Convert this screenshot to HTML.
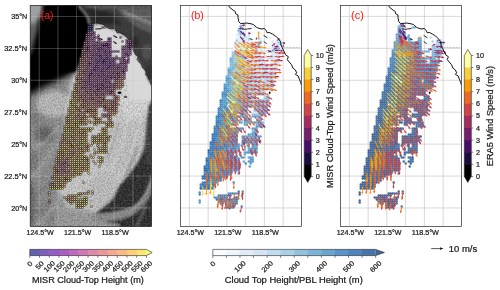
<!DOCTYPE html>
<html><head><meta charset="utf-8"><title>figure</title><style>html,body{margin:0;padding:0;background:#fff;overflow:hidden}svg{display:block;will-change:transform}</style></head><body>
<svg width="500" height="290" viewBox="0 0 500 290">
<defs>
<filter id="b1" x="-20%" y="-20%" width="140%" height="140%"><feGaussianBlur stdDeviation="1"/></filter>
<filter id="b2" x="-30%" y="-30%" width="160%" height="160%"><feGaussianBlur stdDeviation="2"/></filter>
<filter id="b3" x="-40%" y="-40%" width="180%" height="180%"><feGaussianBlur stdDeviation="3.2"/></filter>
<filter id="b5" x="-50%" y="-50%" width="200%" height="200%"><feGaussianBlur stdDeviation="5"/></filter>
<filter id="nz" x="0" y="0" width="100%" height="100%"><feTurbulence type="fractalNoise" baseFrequency="0.6" numOctaves="2" seed="4" result="t"/><feColorMatrix in="t" type="matrix" values="0 0 0 0 0  0 0 0 0 0  0 0 0 0 0  1.6 0 0 0 -0.55"/></filter>
<filter id="nzw" x="0" y="0" width="100%" height="100%"><feTurbulence type="fractalNoise" baseFrequency="0.55" numOctaves="2" seed="11" result="t"/><feColorMatrix in="t" type="matrix" values="0 0 0 0 1  0 0 0 0 1  0 0 0 0 1  0 1.6 0 0 -0.6"/></filter>
<clipPath id="ca"><rect x="30.2" y="5.4" width="121.4" height="221.2"/></clipPath>
<clipPath id="cb"><rect x="180.4" y="5.4" width="121.2" height="221.2"/></clipPath>
<clipPath id="cc"><rect x="340.4" y="5.4" width="121.2" height="221.2"/></clipPath>
</defs>
<rect width="500" height="290" fill="#fff"/>
<g clip-path="url(#ca)">
<rect x="29" y="4" width="124" height="224" fill="#929292"/>
<g filter="url(#b2)">
<path d="M28 92 L62 78 L72 110 L62 150 L54 190 L66 210 L100 212 L100 230 L28 230 Z" fill="#8c8c8c"/>
<ellipse cx="54" cy="104" rx="17" ry="13" fill="#bcbcbc"/>
<ellipse cx="44" cy="134" rx="9" ry="8" fill="#646464"/>
<ellipse cx="36" cy="118" rx="6" ry="7" fill="#7c7c7c"/>
<ellipse cx="34" cy="162" rx="4" ry="13" fill="#787878"/>
<ellipse cx="30" cy="205" rx="5" ry="26" fill="#626262"/>
<ellipse cx="48" cy="212" rx="12" ry="9" fill="#7c7c7c"/><path d="M30 178 C40 170 48 160 54 146" fill="none" stroke="#aaa" stroke-width="3"/><path d="M36 226 C50 214 58 204 62 192" fill="none" stroke="#a8a8a8" stroke-width="3"/>
<path d="M86 26 L104 22 L125 32 L140 55 L153 84 L153 100 L148 120 L146 140 L144 150 L139 161 L129 175 L119.5 186 L115 196 L110 202.5 L101.5 209 L94 214 L70 214 L62 196 L56 188 L62 150 L66 110 L72 75 Z" fill="#cdcdcd"/>
<path d="M118 58 L138 57 L152 86 L149 112 L128 120 L117 100 Z" fill="#dddddd"/>
<path d="M112 125 L146 122 L142 152 L128 170 L112 172 L104 166 Z" fill="#c6c6c6"/>
<path d="M98 172 L118 174 L112 196 L100 207 L76 210 L84 190 Z" fill="#c2c2c2"/>
<path d="M56 205 L96 212 L110 221 L108 230 L54 230 Z" fill="#9c9c9c"/>
</g>
<g filter="url(#b1)">
<path d="M154 98 L150 105 L147.5 120 L145.5 140 L144 150 L139 161 L129 175 L119.5 186 L115 196 L110 202.5 L101.5 209 L96 213.5 L106 222 L120 224 L118 230 L154 230 Z" fill="#2c2c2c"/>
<path d="M154 176 C150 196 140 210 124 216 C114 219.5 104 219 95 218" fill="none" stroke="#7e7e7e" stroke-width="5.5"/>
<path d="M154 172 C149 194 139 208 123 214 C113 217.5 103 217 96 216" fill="none" stroke="#a0a0a0" stroke-width="2"/>
<path d="M92 217 C104 217.5 118 216 132 210.5" fill="none" stroke="#8e8e8e" stroke-width="7"/>
<path d="M146 205 C143 213 140 220 136 228" fill="none" stroke="#5a5a5a" stroke-width="2.5"/>
<path d="M148.5 106 L153 100 L153 168 L145 162 L146.5 130 Z" fill="#3a3a3a"/>
</g>
<g filter="url(#b1)" fill="none">
<path d="M137 146 C134 158 130 168 124 178" stroke="#7a7a7a" stroke-width="1.8" opacity="0.8"/>
<path d="M128 118 C126 136 120 154 110 170" stroke="#dcdcdc" stroke-width="2.2" opacity="0.7"/>
<path d="M140 112 C139 128 136 142 131 154" stroke="#e0e0e0" stroke-width="2" opacity="0.6"/>
<path d="M118 122 C116 138 112 150 106 160" stroke="#9a9a9a" stroke-width="1.5" opacity="0.6"/>
<path d="M30 150 C40 146 50 138 58 126" stroke="#b8b8b8" stroke-width="2" opacity="0.6"/>
<path d="M32 196 C44 190 52 182 56 172" stroke="#6e6e6e" stroke-width="2" opacity="0.6"/>
</g>
<rect x="30" y="5" width="122" height="222" filter="url(#nz)" opacity="0.32"/>
<rect x="30" y="5" width="122" height="222" filter="url(#nzw)" opacity="0.25"/>
<g filter="url(#b3)">
<path d="M40 0 L82 0 L90 22 L86 42 L82 58 L78 70 L60 80 L42 88 L24 98 L24 50 L36 30 Z" fill="#000"/>
</g>
<g filter="url(#b2)">
<path d="M44 2 L78 2 L86 24 L82 44 L78 62 L70 70 L56 76 L40 82 L30 88 L30 62 L38 40 L42 20 Z" fill="#000"/>
</g>
<path d="M50 3 L78.2 3 L78.2 5.4 L80 7.8 L83.2 10.2 L85.2 11.4 L85.6 13.8 L88 15 L88 17.8 L88.8 21.8 L90 24.5 L88 31 L84 42 L79.5 55 L75 72 L60 72 L50 40 Z" fill="#000" filter="url(#b1)"/>
<g filter="url(#b2)">
<ellipse cx="27" cy="26" rx="8" ry="30" fill="#5c5c5c"/>
<ellipse cx="28" cy="6" rx="14" ry="18" fill="#a0a0a0"/>
</g>
<path d="M78.2 5.4 L79.8 7.8 L83.0 10.2 L85.0 11.4 L85.4 13.8 L87.8 15.0 L87.8 17.8 L88.6 21.8 L90.2 23.4 L93.8 23.4 L96.2 23.0 L99.8 23.6 L103.0 24.4 L106.2 27.2 L108.6 28.4 L111.8 29.0 L114.2 28.4 L115.8 30.4 L117.0 32.8 L119.0 32.4 L122.2 34.0 L125.4 36.0 L128.4 39.0 L130.4 41.8 L130.8 45.0 L132.0 47.4 L133.6 51.0 L135.4 54.8 L138.2 56.8 L137.0 59.6 L139.0 62.0 L141.4 64.8 L142.6 68.0 L145.2 70.0 L146.4 72.8 L145.2 74.4 L148.0 76.0 L149.2 79.2 L150.4 82.4 L151.2 84.8 L153.0 84.8 L153.0 3.0 L78.0 3.0 Z" fill="#404040"/>
<g filter="url(#b1)">
<path d="M112 3 L153 3 L153 34 L140 29 L124 17 Z" fill="#626262"/>
<path d="M122 10 L153 22 L153 26 L124 14 Z" fill="#8a8a8a"/>
<ellipse cx="147" cy="52" rx="5" ry="8" fill="#565656"/>
<path d="M82 8 L92 9 L110 12 L122 25 L108 24 L92 23 L88 15 Z" fill="#2c2c2c"/>
<ellipse cx="135" cy="42" rx="4" ry="6" fill="#2e2e2e"/>
<ellipse cx="149" cy="74" rx="3" ry="8" fill="#343434"/>
<path d="M84 3 L153 3 L153 8 L100 9 L86 7.5 Z" fill="#5c5c5c"/>
</g>
<rect x="76" y="5" width="76" height="82" filter="url(#nz)" opacity="0.25" clip-path="none"/>
<path d="M78.6 5.4 L80.5 9 L83.5 11.5 L85.3 14.5 L87.5 17 L88.3 21.5 L89.5 24.5" fill="none" stroke="#b4b4b4" stroke-width="1.5" filter="url(#b1)" opacity="0.9"/>
<path d="M94.5 26.0 L97.0 24.8 L103.0 26.5 L111.0 30.0 L119.0 34.5 L127.0 40.0 L130.0 46.0 L133.0 52.0 L137.0 59.0 L141.0 66.0 L145.0 73.5 L150.0 85.0 L153.0 90.0 L153.0 100.0 L130.0 100.0 L120.0 60.0 L100.0 44.0 L88.0 46.0 L90.0 38.0 L92.5 32.0 Z" fill="#d8d8d8" filter="url(#b1)"/>
<path d="M90.2 23.4 L93.8 23.4 L96.2 23.0 L99.8 23.6 L103.0 24.4 L106.2 27.2 L108.6 28.4 L111.8 29.0 L114.2 28.4 L115.8 30.4 L117.0 32.8 L119.0 32.4 L122.2 34.0 L125.4 36.0 L128.4 39.0 L130.4 41.8 L130.8 45.0 L132.0 47.4 L133.6 51.0 L135.4 54.8 L138.2 56.8 L137.0 59.6 L139.0 62.0 L141.4 64.8 L142.6 68.0 L145.2 70.0 L146.4 72.8 L145.2 74.4 L148.0 76.0 L149.2 79.2 L150.4 82.4 L151.2 84.8" fill="none" stroke="#0a0a0a" stroke-width="0.7" opacity="0.85"/>
<ellipse cx="119.5" cy="92.8" rx="2" ry="1.3" fill="#050505"/><ellipse cx="125.5" cy="97" rx="1.8" ry="0.8" fill="#111"/>
<path d="M95.5 29.0 L101.0 28.7" stroke="#0c0c0c" stroke-width="1.15" stroke-linecap="round"/>
<path d="M99.9 38.7 L102.1 39.6" stroke="#0c0c0c" stroke-width="1.15" stroke-linecap="round"/>
<path d="M113.8 35.7 L116.8 37.5" stroke="#0c0c0c" stroke-width="1.15" stroke-linecap="round"/>
<path d="M113.8 41.7 L116.2 43.5" stroke="#0c0c0c" stroke-width="1.15" stroke-linecap="round"/>
<path d="M39.20 5.4 V226.6" stroke="#c8c8c8" stroke-width="0.55" opacity="0.6"/>
<path d="M57.95 5.4 V226.6" stroke="#c8c8c8" stroke-width="0.55" opacity="0.6"/>
<path d="M76.70 5.4 V226.6" stroke="#c8c8c8" stroke-width="0.55" opacity="0.6"/>
<path d="M95.45 5.4 V226.6" stroke="#c8c8c8" stroke-width="0.55" opacity="0.6"/>
<path d="M114.20 5.4 V226.6" stroke="#c8c8c8" stroke-width="0.55" opacity="0.6"/>
<path d="M132.95 5.4 V226.6" stroke="#c8c8c8" stroke-width="0.55" opacity="0.6"/>
<path d="M30.2 16.40 H151.6" stroke="#c8c8c8" stroke-width="0.55" opacity="0.6"/>
<path d="M30.2 48.33 H151.6" stroke="#c8c8c8" stroke-width="0.55" opacity="0.6"/>
<path d="M30.2 80.26 H151.6" stroke="#c8c8c8" stroke-width="0.55" opacity="0.6"/>
<path d="M30.2 112.19 H151.6" stroke="#c8c8c8" stroke-width="0.55" opacity="0.6"/>
<path d="M30.2 144.12 H151.6" stroke="#c8c8c8" stroke-width="0.55" opacity="0.6"/>
<path d="M30.2 176.05 H151.6" stroke="#c8c8c8" stroke-width="0.55" opacity="0.6"/>
<path d="M30.2 207.98 H151.6" stroke="#c8c8c8" stroke-width="0.55" opacity="0.6"/>
<path d="M90.5 24.5h0M92.5 24.5h0M88.5 26.5h0M90.5 26.5h0M92.5 26.5h0M88.5 28.5h0M90.5 28.5h0M92.5 28.5h0M88.5 30.5h0M90.5 30.5h0M92.5 30.5h0" stroke="#21202c" stroke-width="2.0" stroke-linecap="square" fill="none"/>
<path d="M104.5 54.5h0M108.5 56.5h0M100.5 58.5h0M102.5 58.5h0M100.5 62.5h0M112.5 64.5h0" stroke="#25202e" stroke-width="2.0" stroke-linecap="square" fill="none"/>
<path d="M90.5 38.5h0M94.5 40.5h0M96.5 42.5h0M98.5 42.5h0M94.5 44.5h0M94.5 46.5h0M104.5 48.5h0M94.5 52.5h0M104.5 52.5h0M106.5 52.5h0M130.5 52.5h0M98.5 54.5h0M110.5 54.5h0M110.5 56.5h0M96.5 58.5h0M104.5 58.5h0M96.5 60.5h0M102.5 60.5h0M104.5 60.5h0M108.5 60.5h0M110.5 60.5h0M102.5 62.5h0M104.5 62.5h0M106.5 62.5h0M102.5 64.5h0M108.5 64.5h0M118.5 64.5h0M106.5 66.5h0M112.5 66.5h0M102.5 68.5h0M104.5 68.5h0M110.5 68.5h0M114.5 70.5h0M96.5 72.5h0M100.5 72.5h0M98.5 74.5h0M98.5 76.5h0M108.5 78.5h0M120.5 37.5h0M116.5 51.5h0" stroke="#29202f" stroke-width="2.0" stroke-linecap="square" fill="none"/>
<path d="M86.5 34.5h0M94.5 34.5h0M86.5 38.5h0M90.5 40.5h0M126.5 40.5h0M128.5 40.5h0M94.5 42.5h0M106.5 42.5h0M100.5 44.5h0M102.5 44.5h0M104.5 44.5h0M106.5 44.5h0M108.5 44.5h0M110.5 44.5h0M102.5 46.5h0M104.5 46.5h0M106.5 46.5h0M108.5 46.5h0M96.5 48.5h0M98.5 48.5h0M108.5 48.5h0M126.5 48.5h0M94.5 50.5h0M98.5 50.5h0M100.5 50.5h0M104.5 50.5h0M106.5 50.5h0M128.5 50.5h0M92.5 52.5h0M98.5 52.5h0M102.5 52.5h0M108.5 52.5h0M110.5 52.5h0M122.5 52.5h0M126.5 52.5h0M90.5 54.5h0M100.5 54.5h0M106.5 54.5h0M124.5 54.5h0M126.5 54.5h0M128.5 54.5h0M94.5 56.5h0M98.5 56.5h0M100.5 56.5h0M102.5 56.5h0M106.5 56.5h0M128.5 56.5h0M106.5 58.5h0M108.5 58.5h0M112.5 58.5h0M114.5 58.5h0M116.5 58.5h0M94.5 60.5h0M98.5 60.5h0M100.5 60.5h0M106.5 60.5h0M92.5 62.5h0M96.5 62.5h0M98.5 62.5h0M108.5 62.5h0M110.5 62.5h0M114.5 62.5h0M120.5 62.5h0M96.5 64.5h0M100.5 64.5h0M104.5 64.5h0M106.5 64.5h0M110.5 64.5h0M116.5 64.5h0M120.5 64.5h0M94.5 66.5h0M96.5 66.5h0M102.5 66.5h0M108.5 66.5h0M110.5 66.5h0M124.5 66.5h0M126.5 66.5h0M94.5 68.5h0M100.5 68.5h0M106.5 68.5h0M108.5 68.5h0M90.5 70.5h0M92.5 70.5h0M94.5 70.5h0M96.5 70.5h0M98.5 70.5h0M106.5 70.5h0M120.5 70.5h0M108.5 72.5h0M110.5 72.5h0M94.5 74.5h0M100.5 76.5h0M102.5 76.5h0M106.5 76.5h0M108.5 76.5h0M112.5 76.5h0M96.5 78.5h0M94.5 80.5h0M108.5 80.5h0M102.5 82.5h0M88.5 84.5h0M90.5 84.5h0M92.5 84.5h0M98.5 84.5h0M100.5 84.5h0M102.5 84.5h0M106.5 84.5h0M102.5 86.5h0M104.5 86.5h0M92.5 88.5h0M64.5 166.5h0M102.5 27.5h0M108.5 38.5h0M110.5 38.5h0M108.5 40.5h0M107.5 42.5h0M118.5 51.5h0M112.5 51.5h0" stroke="#2c2030" stroke-width="2.0" stroke-linecap="square" fill="none"/>
<path d="M88.5 32.5h0M92.5 32.5h0M94.5 32.5h0M90.5 34.5h0M92.5 34.5h0M90.5 36.5h0M94.5 36.5h0M88.5 38.5h0M94.5 38.5h0M86.5 40.5h0M90.5 42.5h0M100.5 42.5h0M104.5 42.5h0M110.5 42.5h0M126.5 42.5h0M128.5 42.5h0M130.5 42.5h0M132.5 42.5h0M84.5 44.5h0M92.5 44.5h0M96.5 44.5h0M128.5 44.5h0M130.5 44.5h0M92.5 46.5h0M96.5 46.5h0M100.5 46.5h0M124.5 46.5h0M126.5 46.5h0M128.5 46.5h0M130.5 46.5h0M94.5 48.5h0M100.5 48.5h0M102.5 48.5h0M106.5 48.5h0M122.5 48.5h0M128.5 48.5h0M130.5 48.5h0M92.5 50.5h0M102.5 50.5h0M108.5 50.5h0M110.5 50.5h0M122.5 50.5h0M126.5 50.5h0M130.5 50.5h0M88.5 52.5h0M96.5 52.5h0M100.5 52.5h0M124.5 52.5h0M128.5 52.5h0M96.5 54.5h0M108.5 54.5h0M130.5 54.5h0M96.5 56.5h0M104.5 56.5h0M116.5 56.5h0M122.5 56.5h0M126.5 56.5h0M88.5 58.5h0M94.5 58.5h0M98.5 58.5h0M110.5 58.5h0M118.5 58.5h0M122.5 58.5h0M128.5 58.5h0M92.5 60.5h0M112.5 60.5h0M114.5 60.5h0M120.5 60.5h0M126.5 60.5h0M128.5 60.5h0M112.5 62.5h0M122.5 62.5h0M92.5 64.5h0M94.5 64.5h0M98.5 64.5h0M114.5 64.5h0M122.5 64.5h0M126.5 64.5h0M90.5 66.5h0M98.5 66.5h0M104.5 66.5h0M114.5 66.5h0M118.5 66.5h0M88.5 68.5h0M92.5 68.5h0M96.5 68.5h0M98.5 68.5h0M116.5 68.5h0M118.5 68.5h0M122.5 68.5h0M124.5 68.5h0M100.5 70.5h0M102.5 70.5h0M112.5 70.5h0M126.5 70.5h0M88.5 72.5h0M94.5 72.5h0M98.5 72.5h0M102.5 72.5h0M106.5 72.5h0M96.5 74.5h0M102.5 74.5h0M104.5 74.5h0M110.5 74.5h0M114.5 74.5h0M86.5 76.5h0M92.5 76.5h0M94.5 76.5h0M104.5 76.5h0M110.5 76.5h0M88.5 78.5h0M90.5 78.5h0M100.5 78.5h0M110.5 78.5h0M112.5 78.5h0M124.5 78.5h0M86.5 80.5h0M92.5 80.5h0M96.5 80.5h0M98.5 80.5h0M102.5 80.5h0M104.5 80.5h0M90.5 82.5h0M94.5 82.5h0M100.5 82.5h0M108.5 82.5h0M110.5 82.5h0M86.5 84.5h0M96.5 84.5h0M104.5 84.5h0M110.5 84.5h0M86.5 86.5h0M92.5 86.5h0M94.5 86.5h0M96.5 86.5h0M98.5 86.5h0M88.5 88.5h0M106.5 90.5h0M108.5 90.5h0M102.5 92.5h0M104.5 96.5h0M104.5 114.5h0M62.5 162.5h0M60.5 166.5h0M110.5 40.5h0M100.5 39.5h0M122.5 41.5h0M98.5 35.5h0M98.5 37.5h0M98.5 39.5h0M114.5 51.5h0" stroke="#2e222f" stroke-width="2.0" stroke-linecap="square" fill="none"/>
<path d="M90.5 32.5h0M88.5 34.5h0M88.5 36.5h0M92.5 38.5h0M88.5 40.5h0M92.5 40.5h0M130.5 40.5h0M86.5 42.5h0M88.5 42.5h0M92.5 42.5h0M108.5 42.5h0M88.5 44.5h0M98.5 44.5h0M126.5 44.5h0M132.5 44.5h0M86.5 46.5h0M88.5 46.5h0M90.5 46.5h0M98.5 46.5h0M110.5 46.5h0M122.5 46.5h0M86.5 48.5h0M88.5 48.5h0M92.5 48.5h0M110.5 48.5h0M124.5 48.5h0M86.5 50.5h0M88.5 50.5h0M90.5 50.5h0M96.5 50.5h0M124.5 50.5h0M86.5 52.5h0M90.5 52.5h0M92.5 54.5h0M94.5 54.5h0M102.5 54.5h0M122.5 54.5h0M86.5 56.5h0M88.5 56.5h0M92.5 56.5h0M124.5 56.5h0M84.5 58.5h0M90.5 58.5h0M92.5 58.5h0M120.5 58.5h0M124.5 58.5h0M88.5 60.5h0M122.5 60.5h0M124.5 60.5h0M84.5 62.5h0M88.5 62.5h0M90.5 62.5h0M94.5 62.5h0M124.5 62.5h0M126.5 62.5h0M128.5 62.5h0M88.5 64.5h0M90.5 64.5h0M124.5 64.5h0M84.5 66.5h0M88.5 66.5h0M92.5 66.5h0M100.5 66.5h0M116.5 66.5h0M120.5 66.5h0M86.5 68.5h0M112.5 68.5h0M114.5 68.5h0M120.5 68.5h0M126.5 68.5h0M86.5 70.5h0M104.5 70.5h0M110.5 70.5h0M116.5 70.5h0M118.5 70.5h0M122.5 70.5h0M124.5 70.5h0M86.5 72.5h0M90.5 72.5h0M92.5 72.5h0M104.5 72.5h0M112.5 72.5h0M114.5 72.5h0M122.5 72.5h0M124.5 72.5h0M88.5 74.5h0M90.5 74.5h0M92.5 74.5h0M100.5 74.5h0M106.5 74.5h0M108.5 74.5h0M112.5 74.5h0M120.5 74.5h0M124.5 74.5h0M84.5 76.5h0M88.5 76.5h0M90.5 76.5h0M96.5 76.5h0M114.5 76.5h0M116.5 76.5h0M86.5 78.5h0M92.5 78.5h0M98.5 78.5h0M102.5 78.5h0M104.5 78.5h0M106.5 78.5h0M114.5 78.5h0M84.5 80.5h0M88.5 80.5h0M90.5 80.5h0M100.5 80.5h0M106.5 80.5h0M110.5 80.5h0M84.5 82.5h0M86.5 82.5h0M88.5 82.5h0M92.5 82.5h0M96.5 82.5h0M98.5 82.5h0M104.5 82.5h0M106.5 82.5h0M112.5 84.5h0M82.5 86.5h0M90.5 86.5h0M100.5 86.5h0M106.5 86.5h0M108.5 86.5h0M110.5 86.5h0M80.5 88.5h0M82.5 88.5h0M90.5 88.5h0M96.5 88.5h0M98.5 88.5h0M100.5 88.5h0M102.5 88.5h0M104.5 88.5h0M106.5 88.5h0M110.5 88.5h0M90.5 90.5h0M96.5 90.5h0M98.5 90.5h0M102.5 90.5h0M84.5 92.5h0M90.5 92.5h0M98.5 92.5h0M106.5 92.5h0M86.5 94.5h0M100.5 94.5h0M102.5 94.5h0M104.5 94.5h0M84.5 98.5h0M96.5 98.5h0M98.5 100.5h0M110.5 100.5h0M94.5 102.5h0M98.5 102.5h0M96.5 104.5h0M62.5 142.5h0M78.5 148.5h0M62.5 158.5h0M64.5 160.5h0M62.5 166.5h0M60.5 170.5h0M62.5 172.5h0M105.5 42.5h0M96.5 37.5h0M98.5 41.5h0" stroke="#31242d" stroke-width="2.0" stroke-linecap="square" fill="none"/>
<path d="M86.5 36.5h0M92.5 36.5h0M102.5 42.5h0M86.5 44.5h0M90.5 44.5h0M84.5 48.5h0M82.5 52.5h0M90.5 56.5h0M90.5 60.5h0M86.5 64.5h0M82.5 66.5h0M86.5 66.5h0M122.5 66.5h0M82.5 70.5h0M84.5 70.5h0M88.5 70.5h0M108.5 70.5h0M84.5 72.5h0M116.5 72.5h0M118.5 72.5h0M120.5 72.5h0M78.5 74.5h0M80.5 74.5h0M84.5 74.5h0M86.5 74.5h0M116.5 74.5h0M118.5 74.5h0M118.5 76.5h0M120.5 76.5h0M124.5 76.5h0M84.5 78.5h0M94.5 78.5h0M116.5 78.5h0M118.5 78.5h0M82.5 80.5h0M116.5 80.5h0M82.5 82.5h0M114.5 82.5h0M118.5 82.5h0M84.5 84.5h0M94.5 84.5h0M108.5 84.5h0M114.5 84.5h0M80.5 86.5h0M84.5 86.5h0M88.5 86.5h0M112.5 86.5h0M114.5 86.5h0M84.5 88.5h0M86.5 88.5h0M108.5 88.5h0M114.5 88.5h0M88.5 90.5h0M92.5 90.5h0M94.5 90.5h0M100.5 90.5h0M104.5 90.5h0M110.5 90.5h0M112.5 90.5h0M78.5 92.5h0M80.5 92.5h0M94.5 92.5h0M96.5 92.5h0M100.5 92.5h0M104.5 92.5h0M108.5 92.5h0M110.5 92.5h0M112.5 92.5h0M82.5 94.5h0M90.5 94.5h0M92.5 94.5h0M96.5 94.5h0M98.5 94.5h0M106.5 94.5h0M110.5 94.5h0M114.5 94.5h0M90.5 96.5h0M96.5 96.5h0M100.5 96.5h0M114.5 96.5h0M86.5 98.5h0M100.5 98.5h0M90.5 100.5h0M94.5 100.5h0M88.5 102.5h0M104.5 102.5h0M112.5 102.5h0M114.5 102.5h0M116.5 102.5h0M90.5 104.5h0M106.5 104.5h0M98.5 106.5h0M108.5 106.5h0M104.5 110.5h0M108.5 112.5h0M104.5 116.5h0M106.5 116.5h0M108.5 118.5h0M62.5 150.5h0M58.5 160.5h0M64.5 162.5h0M66.5 162.5h0M60.5 164.5h0M62.5 164.5h0M64.5 164.5h0M62.5 168.5h0M62.5 170.5h0M68.5 170.5h0M68.5 172.5h0M62.5 174.5h0M50.5 184.5h0M104.5 27.5h0M118.5 104.5h0M49.5 200.5h0M49.5 202.5h0" stroke="#33262b" stroke-width="2.0" stroke-linecap="square" fill="none"/>
<path d="M84.5 42.5h0M84.5 46.5h0M90.5 48.5h0M84.5 50.5h0M84.5 52.5h0M82.5 54.5h0M84.5 54.5h0M86.5 54.5h0M88.5 54.5h0M82.5 56.5h0M82.5 58.5h0M84.5 60.5h0M86.5 60.5h0M86.5 62.5h0M80.5 64.5h0M80.5 68.5h0M84.5 68.5h0M90.5 68.5h0M78.5 70.5h0M82.5 72.5h0M82.5 74.5h0M122.5 74.5h0M80.5 78.5h0M82.5 78.5h0M80.5 80.5h0M114.5 80.5h0M120.5 80.5h0M78.5 84.5h0M118.5 86.5h0M94.5 88.5h0M112.5 88.5h0M116.5 88.5h0M80.5 90.5h0M84.5 90.5h0M86.5 90.5h0M82.5 92.5h0M86.5 92.5h0M88.5 92.5h0M92.5 92.5h0M114.5 92.5h0M84.5 94.5h0M88.5 94.5h0M94.5 94.5h0M108.5 94.5h0M112.5 94.5h0M84.5 96.5h0M86.5 96.5h0M92.5 96.5h0M98.5 96.5h0M116.5 96.5h0M82.5 98.5h0M88.5 98.5h0M90.5 98.5h0M92.5 98.5h0M94.5 98.5h0M98.5 98.5h0M102.5 98.5h0M104.5 98.5h0M114.5 98.5h0M116.5 98.5h0M74.5 100.5h0M82.5 100.5h0M84.5 100.5h0M86.5 100.5h0M92.5 100.5h0M96.5 100.5h0M102.5 100.5h0M104.5 100.5h0M86.5 102.5h0M90.5 102.5h0M96.5 102.5h0M106.5 102.5h0M110.5 102.5h0M94.5 104.5h0M98.5 104.5h0M104.5 104.5h0M114.5 104.5h0M116.5 104.5h0M88.5 106.5h0M96.5 106.5h0M102.5 106.5h0M104.5 106.5h0M106.5 106.5h0M80.5 108.5h0M84.5 108.5h0M104.5 108.5h0M106.5 108.5h0M116.5 110.5h0M70.5 112.5h0M82.5 112.5h0M78.5 114.5h0M102.5 114.5h0M106.5 114.5h0M108.5 114.5h0M78.5 116.5h0M76.5 118.5h0M100.5 118.5h0M110.5 120.5h0M86.5 124.5h0M62.5 134.5h0M80.5 138.5h0M102.5 138.5h0M108.5 140.5h0M84.5 146.5h0M74.5 148.5h0M68.5 150.5h0M72.5 150.5h0M60.5 160.5h0M68.5 162.5h0M58.5 164.5h0M70.5 166.5h0M64.5 168.5h0M64.5 170.5h0M60.5 172.5h0M64.5 172.5h0M66.5 172.5h0M76.5 172.5h0M58.5 174.5h0M66.5 176.5h0M60.5 180.5h0M88.5 191.5h0M80.5 193.5h0M78.5 201.5h0" stroke="#352929" stroke-width="2.0" stroke-linecap="square" fill="none"/>
<path d="M82.5 50.5h0M84.5 56.5h0M86.5 58.5h0M80.5 60.5h0M82.5 60.5h0M82.5 62.5h0M82.5 64.5h0M84.5 64.5h0M78.5 68.5h0M80.5 70.5h0M78.5 76.5h0M82.5 76.5h0M122.5 76.5h0M120.5 78.5h0M118.5 80.5h0M78.5 82.5h0M80.5 82.5h0M116.5 82.5h0M122.5 82.5h0M80.5 84.5h0M82.5 84.5h0M116.5 84.5h0M120.5 84.5h0M78.5 86.5h0M116.5 86.5h0M122.5 86.5h0M76.5 90.5h0M78.5 90.5h0M82.5 90.5h0M114.5 90.5h0M76.5 92.5h0M76.5 94.5h0M80.5 94.5h0M80.5 96.5h0M82.5 96.5h0M88.5 96.5h0M94.5 96.5h0M102.5 96.5h0M76.5 98.5h0M80.5 98.5h0M88.5 100.5h0M100.5 100.5h0M106.5 100.5h0M108.5 100.5h0M112.5 100.5h0M114.5 100.5h0M116.5 100.5h0M76.5 102.5h0M100.5 102.5h0M102.5 102.5h0M80.5 104.5h0M82.5 104.5h0M86.5 104.5h0M88.5 104.5h0M100.5 104.5h0M110.5 104.5h0M112.5 104.5h0M80.5 106.5h0M94.5 106.5h0M100.5 106.5h0M112.5 106.5h0M114.5 106.5h0M78.5 108.5h0M86.5 108.5h0M90.5 108.5h0M96.5 108.5h0M108.5 108.5h0M110.5 108.5h0M112.5 108.5h0M78.5 110.5h0M80.5 110.5h0M84.5 110.5h0M90.5 110.5h0M92.5 110.5h0M106.5 110.5h0M108.5 110.5h0M112.5 110.5h0M114.5 110.5h0M80.5 112.5h0M84.5 112.5h0M92.5 112.5h0M110.5 112.5h0M116.5 112.5h0M84.5 114.5h0M94.5 114.5h0M74.5 116.5h0M76.5 116.5h0M84.5 116.5h0M86.5 116.5h0M90.5 116.5h0M102.5 116.5h0M72.5 118.5h0M82.5 120.5h0M84.5 122.5h0M104.5 122.5h0M110.5 122.5h0M112.5 122.5h0M64.5 128.5h0M76.5 128.5h0M72.5 130.5h0M86.5 132.5h0M70.5 134.5h0M74.5 136.5h0M80.5 136.5h0M86.5 136.5h0M92.5 136.5h0M96.5 136.5h0M106.5 136.5h0M106.5 138.5h0M64.5 140.5h0M66.5 140.5h0M76.5 140.5h0M102.5 142.5h0M80.5 144.5h0M86.5 146.5h0M88.5 146.5h0M102.5 146.5h0M86.5 148.5h0M98.5 148.5h0M72.5 152.5h0M74.5 152.5h0M94.5 152.5h0M106.5 152.5h0M72.5 154.5h0M76.5 154.5h0M58.5 156.5h0M72.5 156.5h0M66.5 158.5h0M68.5 158.5h0M86.5 158.5h0M62.5 160.5h0M66.5 160.5h0M72.5 160.5h0M86.5 160.5h0M88.5 160.5h0M56.5 162.5h0M58.5 162.5h0M60.5 162.5h0M80.5 162.5h0M66.5 164.5h0M68.5 164.5h0M86.5 164.5h0M68.5 166.5h0M56.5 168.5h0M60.5 168.5h0M80.5 168.5h0M56.5 170.5h0M58.5 170.5h0M66.5 170.5h0M70.5 170.5h0M56.5 172.5h0M58.5 172.5h0M60.5 174.5h0M66.5 174.5h0M70.5 174.5h0M52.5 176.5h0M56.5 176.5h0M62.5 180.5h0M52.5 182.5h0M64.5 182.5h0M52.5 184.5h0M58.5 184.5h0M102.5 161.5h0M92.5 193.5h0M72.5 195.5h0M72.5 197.5h0M66.5 199.5h0M68.5 199.5h0M70.5 199.5h0M84.5 201.5h0M80.5 205.5h0" stroke="#362b28" stroke-width="2.0" stroke-linecap="square" fill="none"/>
<path d="M80.5 58.5h0M80.5 62.5h0M80.5 66.5h0M82.5 68.5h0M78.5 72.5h0M80.5 72.5h0M80.5 76.5h0M76.5 78.5h0M78.5 78.5h0M122.5 78.5h0M76.5 80.5h0M78.5 80.5h0M122.5 80.5h0M120.5 82.5h0M74.5 84.5h0M76.5 84.5h0M118.5 84.5h0M122.5 84.5h0M76.5 86.5h0M120.5 86.5h0M74.5 88.5h0M76.5 88.5h0M78.5 88.5h0M118.5 88.5h0M78.5 94.5h0M78.5 96.5h0M78.5 98.5h0M118.5 98.5h0M76.5 100.5h0M78.5 100.5h0M80.5 100.5h0M82.5 102.5h0M84.5 102.5h0M92.5 102.5h0M108.5 102.5h0M84.5 104.5h0M92.5 104.5h0M74.5 106.5h0M76.5 106.5h0M82.5 106.5h0M84.5 106.5h0M86.5 106.5h0M90.5 106.5h0M110.5 106.5h0M116.5 106.5h0M72.5 108.5h0M76.5 108.5h0M82.5 108.5h0M88.5 108.5h0M94.5 108.5h0M114.5 108.5h0M116.5 108.5h0M70.5 110.5h0M76.5 110.5h0M86.5 110.5h0M88.5 110.5h0M94.5 110.5h0M96.5 110.5h0M110.5 110.5h0M72.5 112.5h0M74.5 112.5h0M78.5 112.5h0M86.5 112.5h0M88.5 112.5h0M90.5 112.5h0M94.5 112.5h0M114.5 112.5h0M70.5 114.5h0M110.5 114.5h0M82.5 116.5h0M88.5 116.5h0M92.5 116.5h0M94.5 116.5h0M108.5 116.5h0M110.5 116.5h0M74.5 118.5h0M80.5 118.5h0M82.5 118.5h0M84.5 118.5h0M94.5 118.5h0M96.5 118.5h0M66.5 120.5h0M68.5 120.5h0M70.5 120.5h0M80.5 120.5h0M96.5 120.5h0M100.5 120.5h0M108.5 120.5h0M66.5 122.5h0M78.5 122.5h0M80.5 122.5h0M82.5 122.5h0M102.5 122.5h0M66.5 124.5h0M106.5 124.5h0M108.5 124.5h0M64.5 126.5h0M72.5 126.5h0M70.5 128.5h0M72.5 128.5h0M82.5 128.5h0M102.5 128.5h0M104.5 128.5h0M76.5 130.5h0M82.5 130.5h0M88.5 130.5h0M90.5 130.5h0M102.5 130.5h0M106.5 130.5h0M72.5 132.5h0M74.5 132.5h0M78.5 132.5h0M80.5 132.5h0M68.5 134.5h0M66.5 136.5h0M70.5 136.5h0M72.5 136.5h0M76.5 136.5h0M82.5 136.5h0M94.5 136.5h0M100.5 136.5h0M62.5 138.5h0M72.5 138.5h0M94.5 138.5h0M108.5 138.5h0M62.5 140.5h0M68.5 140.5h0M70.5 140.5h0M74.5 142.5h0M86.5 142.5h0M60.5 144.5h0M64.5 144.5h0M76.5 144.5h0M88.5 144.5h0M60.5 146.5h0M68.5 146.5h0M76.5 146.5h0M98.5 146.5h0M62.5 148.5h0M70.5 148.5h0M80.5 148.5h0M82.5 148.5h0M74.5 150.5h0M78.5 150.5h0M82.5 150.5h0M102.5 150.5h0M106.5 150.5h0M66.5 152.5h0M76.5 152.5h0M82.5 152.5h0M96.5 152.5h0M60.5 154.5h0M64.5 154.5h0M66.5 156.5h0M70.5 156.5h0M76.5 156.5h0M78.5 156.5h0M64.5 158.5h0M70.5 158.5h0M80.5 158.5h0M68.5 160.5h0M78.5 162.5h0M86.5 162.5h0M56.5 164.5h0M70.5 164.5h0M82.5 164.5h0M54.5 166.5h0M58.5 166.5h0M66.5 166.5h0M72.5 166.5h0M80.5 166.5h0M86.5 166.5h0M54.5 168.5h0M66.5 168.5h0M74.5 168.5h0M54.5 170.5h0M74.5 170.5h0M82.5 170.5h0M86.5 170.5h0M70.5 172.5h0M74.5 172.5h0M72.5 174.5h0M62.5 176.5h0M74.5 176.5h0M54.5 178.5h0M56.5 180.5h0M54.5 182.5h0M66.5 182.5h0M64.5 186.5h0M89.5 122.5h0M97.5 145.5h0M90.5 155.5h0M98.5 157.5h0M93.5 161.5h0M95.5 163.5h0M81.5 172.5h0M49.5 194.5h0M86.5 193.5h0M64.5 197.5h0M68.5 197.5h0M72.5 199.5h0M68.5 201.5h0M72.5 201.5h0M76.5 203.5h0" stroke="#372e26" stroke-width="2.0" stroke-linecap="square" fill="none"/>
<path d="M76.5 76.5h0M76.5 82.5h0M74.5 86.5h0M120.5 88.5h0M74.5 90.5h0M72.5 92.5h0M74.5 92.5h0M72.5 96.5h0M74.5 96.5h0M76.5 96.5h0M118.5 96.5h0M74.5 98.5h0M72.5 100.5h0M118.5 100.5h0M74.5 102.5h0M78.5 102.5h0M72.5 104.5h0M76.5 104.5h0M102.5 104.5h0M108.5 104.5h0M72.5 106.5h0M92.5 106.5h0M92.5 108.5h0M68.5 110.5h0M74.5 110.5h0M76.5 112.5h0M96.5 112.5h0M112.5 112.5h0M72.5 114.5h0M80.5 114.5h0M90.5 114.5h0M96.5 114.5h0M114.5 114.5h0M66.5 116.5h0M70.5 116.5h0M80.5 116.5h0M66.5 118.5h0M78.5 118.5h0M72.5 120.5h0M84.5 120.5h0M68.5 122.5h0M70.5 122.5h0M86.5 122.5h0M94.5 122.5h0M96.5 122.5h0M98.5 122.5h0M100.5 122.5h0M68.5 124.5h0M84.5 124.5h0M94.5 124.5h0M112.5 124.5h0M110.5 126.5h0M74.5 128.5h0M80.5 128.5h0M84.5 128.5h0M92.5 128.5h0M74.5 130.5h0M84.5 130.5h0M66.5 132.5h0M82.5 132.5h0M84.5 132.5h0M102.5 132.5h0M74.5 134.5h0M76.5 134.5h0M80.5 134.5h0M82.5 134.5h0M104.5 134.5h0M78.5 136.5h0M84.5 136.5h0M108.5 136.5h0M110.5 136.5h0M64.5 138.5h0M66.5 138.5h0M74.5 138.5h0M84.5 138.5h0M92.5 138.5h0M96.5 138.5h0M100.5 138.5h0M72.5 140.5h0M74.5 140.5h0M78.5 140.5h0M98.5 140.5h0M100.5 140.5h0M60.5 142.5h0M66.5 142.5h0M68.5 142.5h0M70.5 142.5h0M84.5 142.5h0M96.5 142.5h0M104.5 142.5h0M106.5 142.5h0M66.5 144.5h0M70.5 144.5h0M72.5 144.5h0M78.5 144.5h0M98.5 144.5h0M104.5 144.5h0M70.5 146.5h0M72.5 146.5h0M74.5 146.5h0M78.5 146.5h0M106.5 146.5h0M60.5 148.5h0M64.5 148.5h0M66.5 148.5h0M72.5 148.5h0M104.5 148.5h0M66.5 150.5h0M76.5 150.5h0M86.5 150.5h0M88.5 150.5h0M104.5 150.5h0M58.5 152.5h0M60.5 152.5h0M62.5 152.5h0M64.5 152.5h0M68.5 152.5h0M84.5 152.5h0M98.5 152.5h0M104.5 152.5h0M58.5 154.5h0M62.5 154.5h0M74.5 154.5h0M78.5 154.5h0M62.5 156.5h0M64.5 156.5h0M68.5 156.5h0M80.5 156.5h0M86.5 156.5h0M56.5 158.5h0M58.5 158.5h0M60.5 158.5h0M76.5 158.5h0M88.5 158.5h0M76.5 160.5h0M72.5 162.5h0M84.5 162.5h0M78.5 164.5h0M80.5 164.5h0M56.5 166.5h0M82.5 166.5h0M88.5 166.5h0M58.5 168.5h0M70.5 168.5h0M72.5 168.5h0M78.5 168.5h0M82.5 168.5h0M84.5 168.5h0M80.5 170.5h0M88.5 170.5h0M54.5 172.5h0M72.5 172.5h0M56.5 174.5h0M68.5 174.5h0M74.5 174.5h0M64.5 176.5h0M70.5 176.5h0M52.5 178.5h0M56.5 178.5h0M58.5 178.5h0M60.5 178.5h0M64.5 178.5h0M66.5 178.5h0M68.5 178.5h0M64.5 180.5h0M66.5 180.5h0M56.5 182.5h0M62.5 182.5h0M60.5 184.5h0M64.5 184.5h0M50.5 186.5h0M58.5 186.5h0M60.5 186.5h0M62.5 186.5h0M92.5 143.5h0M94.5 154.5h0M102.5 159.5h0M100.5 161.5h0M83.5 182.5h0M82.5 193.5h0M84.5 193.5h0M88.5 193.5h0M68.5 195.5h0M74.5 195.5h0M80.5 195.5h0M66.5 197.5h0M70.5 197.5h0M76.5 197.5h0M86.5 197.5h0M80.5 199.5h0M70.5 201.5h0M70.5 203.5h0M78.5 207.5h0" stroke="#383024" stroke-width="2.0" stroke-linecap="square" fill="none"/>
<path d="M72.5 94.5h0M74.5 94.5h0M72.5 98.5h0M80.5 102.5h0M74.5 104.5h0M78.5 106.5h0M70.5 108.5h0M74.5 108.5h0M72.5 110.5h0M68.5 114.5h0M92.5 114.5h0M112.5 114.5h0M68.5 116.5h0M72.5 116.5h0M96.5 116.5h0M68.5 118.5h0M86.5 118.5h0M98.5 118.5h0M74.5 120.5h0M76.5 120.5h0M78.5 120.5h0M94.5 120.5h0M98.5 120.5h0M72.5 122.5h0M108.5 122.5h0M72.5 124.5h0M80.5 124.5h0M82.5 124.5h0M110.5 124.5h0M68.5 126.5h0M70.5 126.5h0M74.5 126.5h0M76.5 126.5h0M78.5 126.5h0M112.5 126.5h0M66.5 128.5h0M68.5 128.5h0M78.5 128.5h0M106.5 128.5h0M86.5 130.5h0M104.5 130.5h0M68.5 132.5h0M76.5 132.5h0M104.5 132.5h0M66.5 134.5h0M72.5 134.5h0M78.5 134.5h0M84.5 134.5h0M86.5 134.5h0M102.5 134.5h0M62.5 136.5h0M64.5 136.5h0M68.5 136.5h0M98.5 136.5h0M102.5 136.5h0M68.5 138.5h0M76.5 138.5h0M104.5 138.5h0M84.5 140.5h0M86.5 140.5h0M64.5 142.5h0M78.5 142.5h0M80.5 142.5h0M82.5 142.5h0M92.5 142.5h0M94.5 142.5h0M98.5 142.5h0M62.5 144.5h0M68.5 144.5h0M82.5 144.5h0M66.5 146.5h0M80.5 146.5h0M104.5 146.5h0M68.5 148.5h0M76.5 148.5h0M102.5 148.5h0M106.5 148.5h0M60.5 150.5h0M70.5 150.5h0M80.5 150.5h0M84.5 150.5h0M100.5 150.5h0M70.5 152.5h0M100.5 152.5h0M66.5 154.5h0M68.5 154.5h0M70.5 154.5h0M82.5 154.5h0M60.5 156.5h0M74.5 156.5h0M72.5 158.5h0M78.5 158.5h0M82.5 158.5h0M56.5 160.5h0M70.5 160.5h0M74.5 160.5h0M82.5 160.5h0M84.5 160.5h0M88.5 162.5h0M72.5 164.5h0M74.5 164.5h0M88.5 164.5h0M68.5 168.5h0M78.5 170.5h0M84.5 170.5h0M80.5 172.5h0M54.5 174.5h0M64.5 174.5h0M76.5 174.5h0M78.5 174.5h0M80.5 174.5h0M60.5 176.5h0M62.5 178.5h0M54.5 184.5h0M52.5 186.5h0M54.5 186.5h0M56.5 186.5h0M62.5 188.5h0M89.5 120.5h0M91.5 122.5h0M91.5 145.5h0M91.5 157.5h0M100.5 157.5h0M102.5 157.5h0M98.5 161.5h0M100.5 163.5h0M49.5 192.5h0M92.5 191.5h0M78.5 193.5h0M78.5 195.5h0M74.5 199.5h0M78.5 199.5h0M82.5 199.5h0M74.5 201.5h0M82.5 201.5h0M72.5 203.5h0M80.5 203.5h0M82.5 203.5h0M84.5 205.5h0M91.5 206.5h0M80.5 207.5h0" stroke="#373323" stroke-width="2.0" stroke-linecap="square" fill="none"/>
<path d="M70.5 100.5h0M70.5 102.5h0M72.5 102.5h0M70.5 104.5h0M70.5 106.5h0M68.5 108.5h0M68.5 112.5h0M74.5 114.5h0M76.5 114.5h0M82.5 114.5h0M70.5 118.5h0M110.5 118.5h0M86.5 120.5h0M74.5 122.5h0M76.5 122.5h0M106.5 122.5h0M70.5 124.5h0M74.5 124.5h0M76.5 124.5h0M78.5 124.5h0M96.5 124.5h0M66.5 126.5h0M106.5 126.5h0M108.5 126.5h0M86.5 128.5h0M88.5 128.5h0M90.5 128.5h0M64.5 130.5h0M66.5 130.5h0M68.5 130.5h0M70.5 130.5h0M78.5 130.5h0M80.5 130.5h0M64.5 132.5h0M70.5 132.5h0M106.5 132.5h0M64.5 134.5h0M98.5 134.5h0M100.5 134.5h0M106.5 134.5h0M104.5 136.5h0M70.5 138.5h0M78.5 138.5h0M82.5 138.5h0M86.5 138.5h0M98.5 138.5h0M80.5 140.5h0M82.5 140.5h0M92.5 140.5h0M94.5 140.5h0M96.5 140.5h0M102.5 140.5h0M104.5 140.5h0M106.5 140.5h0M72.5 142.5h0M76.5 142.5h0M100.5 142.5h0M74.5 144.5h0M84.5 144.5h0M86.5 144.5h0M102.5 144.5h0M106.5 144.5h0M62.5 146.5h0M64.5 146.5h0M82.5 146.5h0M84.5 148.5h0M88.5 148.5h0M100.5 148.5h0M58.5 150.5h0M64.5 150.5h0M98.5 150.5h0M78.5 152.5h0M80.5 152.5h0M102.5 152.5h0M80.5 154.5h0M82.5 156.5h0M84.5 156.5h0M74.5 158.5h0M84.5 158.5h0M78.5 160.5h0M80.5 160.5h0M70.5 162.5h0M74.5 162.5h0M76.5 162.5h0M82.5 162.5h0M76.5 164.5h0M84.5 164.5h0M74.5 166.5h0M76.5 166.5h0M78.5 166.5h0M84.5 166.5h0M76.5 168.5h0M86.5 168.5h0M88.5 168.5h0M72.5 170.5h0M76.5 170.5h0M78.5 172.5h0M54.5 176.5h0M58.5 176.5h0M68.5 176.5h0M72.5 176.5h0M70.5 178.5h0M58.5 180.5h0M68.5 180.5h0M70.5 180.5h0M58.5 182.5h0M60.5 182.5h0M56.5 184.5h0M62.5 184.5h0M50.5 188.5h0M52.5 188.5h0M54.5 188.5h0M56.5 188.5h0M58.5 188.5h0M60.5 188.5h0M94.5 149.5h0M93.5 157.5h0M100.5 159.5h0M99.5 166.5h0M88.5 173.5h0M70.5 195.5h0M76.5 195.5h0M74.5 197.5h0M84.5 197.5h0M76.5 199.5h0M84.5 199.5h0M86.5 199.5h0M76.5 201.5h0M80.5 201.5h0M86.5 201.5h0M78.5 203.5h0M84.5 203.5h0M86.5 203.5h0M76.5 205.5h0M78.5 205.5h0M82.5 205.5h0M76.5 207.5h0M82.5 207.5h0" stroke="#363723" stroke-width="2.0" stroke-linecap="square" fill="none"/>
<path d="M90.5 24.5h0M92.5 24.5h0M88.5 26.5h0M90.5 26.5h0M92.5 26.5h0M88.5 28.5h0M90.5 28.5h0M92.5 28.5h0M88.5 30.5h0M90.5 30.5h0M92.5 30.5h0" stroke="#6661b1" stroke-width="1.12" stroke-linecap="round" fill="none"/>
<path d="M104.5 54.5h0M108.5 56.5h0M100.5 58.5h0M102.5 58.5h0M100.5 62.5h0M112.5 64.5h0" stroke="#825fbe" stroke-width="1.12" stroke-linecap="round" fill="none"/>
<path d="M90.5 38.5h0M94.5 40.5h0M96.5 42.5h0M98.5 42.5h0M94.5 44.5h0M94.5 46.5h0M104.5 48.5h0M94.5 52.5h0M104.5 52.5h0M106.5 52.5h0M130.5 52.5h0M98.5 54.5h0M110.5 54.5h0M110.5 56.5h0M96.5 58.5h0M104.5 58.5h0M96.5 60.5h0M102.5 60.5h0M104.5 60.5h0M108.5 60.5h0M110.5 60.5h0M102.5 62.5h0M104.5 62.5h0M106.5 62.5h0M102.5 64.5h0M108.5 64.5h0M118.5 64.5h0M106.5 66.5h0M112.5 66.5h0M102.5 68.5h0M104.5 68.5h0M110.5 68.5h0M114.5 70.5h0M96.5 72.5h0M100.5 72.5h0M98.5 74.5h0M98.5 76.5h0M108.5 78.5h0M120.5 37.5h0M116.5 51.5h0" stroke="#975dc5" stroke-width="1.12" stroke-linecap="round" fill="none"/>
<path d="M86.5 34.5h0M94.5 34.5h0M86.5 38.5h0M90.5 40.5h0M126.5 40.5h0M128.5 40.5h0M94.5 42.5h0M106.5 42.5h0M100.5 44.5h0M102.5 44.5h0M104.5 44.5h0M106.5 44.5h0M108.5 44.5h0M110.5 44.5h0M102.5 46.5h0M104.5 46.5h0M106.5 46.5h0M108.5 46.5h0M96.5 48.5h0M98.5 48.5h0M108.5 48.5h0M126.5 48.5h0M94.5 50.5h0M98.5 50.5h0M100.5 50.5h0M104.5 50.5h0M106.5 50.5h0M128.5 50.5h0M92.5 52.5h0M98.5 52.5h0M102.5 52.5h0M108.5 52.5h0M110.5 52.5h0M122.5 52.5h0M126.5 52.5h0M90.5 54.5h0M100.5 54.5h0M106.5 54.5h0M124.5 54.5h0M126.5 54.5h0M128.5 54.5h0M94.5 56.5h0M98.5 56.5h0M100.5 56.5h0M102.5 56.5h0M106.5 56.5h0M128.5 56.5h0M106.5 58.5h0M108.5 58.5h0M112.5 58.5h0M114.5 58.5h0M116.5 58.5h0M94.5 60.5h0M98.5 60.5h0M100.5 60.5h0M106.5 60.5h0M92.5 62.5h0M96.5 62.5h0M98.5 62.5h0M108.5 62.5h0M110.5 62.5h0M114.5 62.5h0M120.5 62.5h0M96.5 64.5h0M100.5 64.5h0M104.5 64.5h0M106.5 64.5h0M110.5 64.5h0M116.5 64.5h0M120.5 64.5h0M94.5 66.5h0M96.5 66.5h0M102.5 66.5h0M108.5 66.5h0M110.5 66.5h0M124.5 66.5h0M126.5 66.5h0M94.5 68.5h0M100.5 68.5h0M106.5 68.5h0M108.5 68.5h0M90.5 70.5h0M92.5 70.5h0M94.5 70.5h0M96.5 70.5h0M98.5 70.5h0M106.5 70.5h0M120.5 70.5h0M108.5 72.5h0M110.5 72.5h0M94.5 74.5h0M100.5 76.5h0M102.5 76.5h0M106.5 76.5h0M108.5 76.5h0M112.5 76.5h0M96.5 78.5h0M94.5 80.5h0M108.5 80.5h0M102.5 82.5h0M88.5 84.5h0M90.5 84.5h0M92.5 84.5h0M98.5 84.5h0M100.5 84.5h0M102.5 84.5h0M106.5 84.5h0M102.5 86.5h0M104.5 86.5h0M92.5 88.5h0M64.5 166.5h0M102.5 27.5h0M108.5 38.5h0M110.5 38.5h0M108.5 40.5h0M107.5 42.5h0M118.5 51.5h0M112.5 51.5h0" stroke="#ac5ec6" stroke-width="1.12" stroke-linecap="round" fill="none"/>
<path d="M88.5 32.5h0M92.5 32.5h0M94.5 32.5h0M90.5 34.5h0M92.5 34.5h0M90.5 36.5h0M94.5 36.5h0M88.5 38.5h0M94.5 38.5h0M86.5 40.5h0M90.5 42.5h0M100.5 42.5h0M104.5 42.5h0M110.5 42.5h0M126.5 42.5h0M128.5 42.5h0M130.5 42.5h0M132.5 42.5h0M84.5 44.5h0M92.5 44.5h0M96.5 44.5h0M128.5 44.5h0M130.5 44.5h0M92.5 46.5h0M96.5 46.5h0M100.5 46.5h0M124.5 46.5h0M126.5 46.5h0M128.5 46.5h0M130.5 46.5h0M94.5 48.5h0M100.5 48.5h0M102.5 48.5h0M106.5 48.5h0M122.5 48.5h0M128.5 48.5h0M130.5 48.5h0M92.5 50.5h0M102.5 50.5h0M108.5 50.5h0M110.5 50.5h0M122.5 50.5h0M126.5 50.5h0M130.5 50.5h0M88.5 52.5h0M96.5 52.5h0M100.5 52.5h0M124.5 52.5h0M128.5 52.5h0M96.5 54.5h0M108.5 54.5h0M130.5 54.5h0M96.5 56.5h0M104.5 56.5h0M116.5 56.5h0M122.5 56.5h0M126.5 56.5h0M88.5 58.5h0M94.5 58.5h0M98.5 58.5h0M110.5 58.5h0M118.5 58.5h0M122.5 58.5h0M128.5 58.5h0M92.5 60.5h0M112.5 60.5h0M114.5 60.5h0M120.5 60.5h0M126.5 60.5h0M128.5 60.5h0M112.5 62.5h0M122.5 62.5h0M92.5 64.5h0M94.5 64.5h0M98.5 64.5h0M114.5 64.5h0M122.5 64.5h0M126.5 64.5h0M90.5 66.5h0M98.5 66.5h0M104.5 66.5h0M114.5 66.5h0M118.5 66.5h0M88.5 68.5h0M92.5 68.5h0M96.5 68.5h0M98.5 68.5h0M116.5 68.5h0M118.5 68.5h0M122.5 68.5h0M124.5 68.5h0M100.5 70.5h0M102.5 70.5h0M112.5 70.5h0M126.5 70.5h0M88.5 72.5h0M94.5 72.5h0M98.5 72.5h0M102.5 72.5h0M106.5 72.5h0M96.5 74.5h0M102.5 74.5h0M104.5 74.5h0M110.5 74.5h0M114.5 74.5h0M86.5 76.5h0M92.5 76.5h0M94.5 76.5h0M104.5 76.5h0M110.5 76.5h0M88.5 78.5h0M90.5 78.5h0M100.5 78.5h0M110.5 78.5h0M112.5 78.5h0M124.5 78.5h0M86.5 80.5h0M92.5 80.5h0M96.5 80.5h0M98.5 80.5h0M102.5 80.5h0M104.5 80.5h0M90.5 82.5h0M94.5 82.5h0M100.5 82.5h0M108.5 82.5h0M110.5 82.5h0M86.5 84.5h0M96.5 84.5h0M104.5 84.5h0M110.5 84.5h0M86.5 86.5h0M92.5 86.5h0M94.5 86.5h0M96.5 86.5h0M98.5 86.5h0M88.5 88.5h0M106.5 90.5h0M108.5 90.5h0M102.5 92.5h0M104.5 96.5h0M104.5 114.5h0M62.5 162.5h0M60.5 166.5h0M110.5 40.5h0M100.5 39.5h0M122.5 41.5h0M98.5 35.5h0M98.5 37.5h0M98.5 39.5h0M114.5 51.5h0" stroke="#bf6ac0" stroke-width="1.12" stroke-linecap="round" fill="none"/>
<path d="M90.5 32.5h0M88.5 34.5h0M88.5 36.5h0M92.5 38.5h0M88.5 40.5h0M92.5 40.5h0M130.5 40.5h0M86.5 42.5h0M88.5 42.5h0M92.5 42.5h0M108.5 42.5h0M88.5 44.5h0M98.5 44.5h0M126.5 44.5h0M132.5 44.5h0M86.5 46.5h0M88.5 46.5h0M90.5 46.5h0M98.5 46.5h0M110.5 46.5h0M122.5 46.5h0M86.5 48.5h0M88.5 48.5h0M92.5 48.5h0M110.5 48.5h0M124.5 48.5h0M86.5 50.5h0M88.5 50.5h0M90.5 50.5h0M96.5 50.5h0M124.5 50.5h0M86.5 52.5h0M90.5 52.5h0M92.5 54.5h0M94.5 54.5h0M102.5 54.5h0M122.5 54.5h0M86.5 56.5h0M88.5 56.5h0M92.5 56.5h0M124.5 56.5h0M84.5 58.5h0M90.5 58.5h0M92.5 58.5h0M120.5 58.5h0M124.5 58.5h0M88.5 60.5h0M122.5 60.5h0M124.5 60.5h0M84.5 62.5h0M88.5 62.5h0M90.5 62.5h0M94.5 62.5h0M124.5 62.5h0M126.5 62.5h0M128.5 62.5h0M88.5 64.5h0M90.5 64.5h0M124.5 64.5h0M84.5 66.5h0M88.5 66.5h0M92.5 66.5h0M100.5 66.5h0M116.5 66.5h0M120.5 66.5h0M86.5 68.5h0M112.5 68.5h0M114.5 68.5h0M120.5 68.5h0M126.5 68.5h0M86.5 70.5h0M104.5 70.5h0M110.5 70.5h0M116.5 70.5h0M118.5 70.5h0M122.5 70.5h0M124.5 70.5h0M86.5 72.5h0M90.5 72.5h0M92.5 72.5h0M104.5 72.5h0M112.5 72.5h0M114.5 72.5h0M122.5 72.5h0M124.5 72.5h0M88.5 74.5h0M90.5 74.5h0M92.5 74.5h0M100.5 74.5h0M106.5 74.5h0M108.5 74.5h0M112.5 74.5h0M120.5 74.5h0M124.5 74.5h0M84.5 76.5h0M88.5 76.5h0M90.5 76.5h0M96.5 76.5h0M114.5 76.5h0M116.5 76.5h0M86.5 78.5h0M92.5 78.5h0M98.5 78.5h0M102.5 78.5h0M104.5 78.5h0M106.5 78.5h0M114.5 78.5h0M84.5 80.5h0M88.5 80.5h0M90.5 80.5h0M100.5 80.5h0M106.5 80.5h0M110.5 80.5h0M84.5 82.5h0M86.5 82.5h0M88.5 82.5h0M92.5 82.5h0M96.5 82.5h0M98.5 82.5h0M104.5 82.5h0M106.5 82.5h0M112.5 84.5h0M82.5 86.5h0M90.5 86.5h0M100.5 86.5h0M106.5 86.5h0M108.5 86.5h0M110.5 86.5h0M80.5 88.5h0M82.5 88.5h0M90.5 88.5h0M96.5 88.5h0M98.5 88.5h0M100.5 88.5h0M102.5 88.5h0M104.5 88.5h0M106.5 88.5h0M110.5 88.5h0M90.5 90.5h0M96.5 90.5h0M98.5 90.5h0M102.5 90.5h0M84.5 92.5h0M90.5 92.5h0M98.5 92.5h0M106.5 92.5h0M86.5 94.5h0M100.5 94.5h0M102.5 94.5h0M104.5 94.5h0M84.5 98.5h0M96.5 98.5h0M98.5 100.5h0M110.5 100.5h0M94.5 102.5h0M98.5 102.5h0M96.5 104.5h0M62.5 142.5h0M78.5 148.5h0M62.5 158.5h0M64.5 160.5h0M62.5 166.5h0M60.5 170.5h0M62.5 172.5h0M105.5 42.5h0M96.5 37.5h0M98.5 41.5h0" stroke="#ce79b5" stroke-width="1.12" stroke-linecap="round" fill="none"/>
<path d="M86.5 36.5h0M92.5 36.5h0M102.5 42.5h0M86.5 44.5h0M90.5 44.5h0M84.5 48.5h0M82.5 52.5h0M90.5 56.5h0M90.5 60.5h0M86.5 64.5h0M82.5 66.5h0M86.5 66.5h0M122.5 66.5h0M82.5 70.5h0M84.5 70.5h0M88.5 70.5h0M108.5 70.5h0M84.5 72.5h0M116.5 72.5h0M118.5 72.5h0M120.5 72.5h0M78.5 74.5h0M80.5 74.5h0M84.5 74.5h0M86.5 74.5h0M116.5 74.5h0M118.5 74.5h0M118.5 76.5h0M120.5 76.5h0M124.5 76.5h0M84.5 78.5h0M94.5 78.5h0M116.5 78.5h0M118.5 78.5h0M82.5 80.5h0M116.5 80.5h0M82.5 82.5h0M114.5 82.5h0M118.5 82.5h0M84.5 84.5h0M94.5 84.5h0M108.5 84.5h0M114.5 84.5h0M80.5 86.5h0M84.5 86.5h0M88.5 86.5h0M112.5 86.5h0M114.5 86.5h0M84.5 88.5h0M86.5 88.5h0M108.5 88.5h0M114.5 88.5h0M88.5 90.5h0M92.5 90.5h0M94.5 90.5h0M100.5 90.5h0M104.5 90.5h0M110.5 90.5h0M112.5 90.5h0M78.5 92.5h0M80.5 92.5h0M94.5 92.5h0M96.5 92.5h0M100.5 92.5h0M104.5 92.5h0M108.5 92.5h0M110.5 92.5h0M112.5 92.5h0M82.5 94.5h0M90.5 94.5h0M92.5 94.5h0M96.5 94.5h0M98.5 94.5h0M106.5 94.5h0M110.5 94.5h0M114.5 94.5h0M90.5 96.5h0M96.5 96.5h0M100.5 96.5h0M114.5 96.5h0M86.5 98.5h0M100.5 98.5h0M90.5 100.5h0M94.5 100.5h0M88.5 102.5h0M104.5 102.5h0M112.5 102.5h0M114.5 102.5h0M116.5 102.5h0M90.5 104.5h0M106.5 104.5h0M98.5 106.5h0M108.5 106.5h0M104.5 110.5h0M108.5 112.5h0M104.5 116.5h0M106.5 116.5h0M108.5 118.5h0M62.5 150.5h0M58.5 160.5h0M64.5 162.5h0M66.5 162.5h0M60.5 164.5h0M62.5 164.5h0M64.5 164.5h0M62.5 168.5h0M62.5 170.5h0M68.5 170.5h0M68.5 172.5h0M62.5 174.5h0M50.5 184.5h0M104.5 27.5h0M118.5 104.5h0M49.5 200.5h0M49.5 202.5h0" stroke="#dc88a8" stroke-width="1.12" stroke-linecap="round" fill="none"/>
<path d="M84.5 42.5h0M84.5 46.5h0M90.5 48.5h0M84.5 50.5h0M84.5 52.5h0M82.5 54.5h0M84.5 54.5h0M86.5 54.5h0M88.5 54.5h0M82.5 56.5h0M82.5 58.5h0M84.5 60.5h0M86.5 60.5h0M86.5 62.5h0M80.5 64.5h0M80.5 68.5h0M84.5 68.5h0M90.5 68.5h0M78.5 70.5h0M82.5 72.5h0M82.5 74.5h0M122.5 74.5h0M80.5 78.5h0M82.5 78.5h0M80.5 80.5h0M114.5 80.5h0M120.5 80.5h0M78.5 84.5h0M118.5 86.5h0M94.5 88.5h0M112.5 88.5h0M116.5 88.5h0M80.5 90.5h0M84.5 90.5h0M86.5 90.5h0M82.5 92.5h0M86.5 92.5h0M88.5 92.5h0M92.5 92.5h0M114.5 92.5h0M84.5 94.5h0M88.5 94.5h0M94.5 94.5h0M108.5 94.5h0M112.5 94.5h0M84.5 96.5h0M86.5 96.5h0M92.5 96.5h0M98.5 96.5h0M116.5 96.5h0M82.5 98.5h0M88.5 98.5h0M90.5 98.5h0M92.5 98.5h0M94.5 98.5h0M98.5 98.5h0M102.5 98.5h0M104.5 98.5h0M114.5 98.5h0M116.5 98.5h0M74.5 100.5h0M82.5 100.5h0M84.5 100.5h0M86.5 100.5h0M92.5 100.5h0M96.5 100.5h0M102.5 100.5h0M104.5 100.5h0M86.5 102.5h0M90.5 102.5h0M96.5 102.5h0M106.5 102.5h0M110.5 102.5h0M94.5 104.5h0M98.5 104.5h0M104.5 104.5h0M114.5 104.5h0M116.5 104.5h0M88.5 106.5h0M96.5 106.5h0M102.5 106.5h0M104.5 106.5h0M106.5 106.5h0M80.5 108.5h0M84.5 108.5h0M104.5 108.5h0M106.5 108.5h0M116.5 110.5h0M70.5 112.5h0M82.5 112.5h0M78.5 114.5h0M102.5 114.5h0M106.5 114.5h0M108.5 114.5h0M78.5 116.5h0M76.5 118.5h0M100.5 118.5h0M110.5 120.5h0M86.5 124.5h0M62.5 134.5h0M80.5 138.5h0M102.5 138.5h0M108.5 140.5h0M84.5 146.5h0M74.5 148.5h0M68.5 150.5h0M72.5 150.5h0M60.5 160.5h0M68.5 162.5h0M58.5 164.5h0M70.5 166.5h0M64.5 168.5h0M64.5 170.5h0M60.5 172.5h0M64.5 172.5h0M66.5 172.5h0M76.5 172.5h0M58.5 174.5h0M66.5 176.5h0M60.5 180.5h0M88.5 191.5h0M80.5 193.5h0M78.5 201.5h0" stroke="#e7979d" stroke-width="1.12" stroke-linecap="round" fill="none"/>
<path d="M82.5 50.5h0M84.5 56.5h0M86.5 58.5h0M80.5 60.5h0M82.5 60.5h0M82.5 62.5h0M82.5 64.5h0M84.5 64.5h0M78.5 68.5h0M80.5 70.5h0M78.5 76.5h0M82.5 76.5h0M122.5 76.5h0M120.5 78.5h0M118.5 80.5h0M78.5 82.5h0M80.5 82.5h0M116.5 82.5h0M122.5 82.5h0M80.5 84.5h0M82.5 84.5h0M116.5 84.5h0M120.5 84.5h0M78.5 86.5h0M116.5 86.5h0M122.5 86.5h0M76.5 90.5h0M78.5 90.5h0M82.5 90.5h0M114.5 90.5h0M76.5 92.5h0M76.5 94.5h0M80.5 94.5h0M80.5 96.5h0M82.5 96.5h0M88.5 96.5h0M94.5 96.5h0M102.5 96.5h0M76.5 98.5h0M80.5 98.5h0M88.5 100.5h0M100.5 100.5h0M106.5 100.5h0M108.5 100.5h0M112.5 100.5h0M114.5 100.5h0M116.5 100.5h0M76.5 102.5h0M100.5 102.5h0M102.5 102.5h0M80.5 104.5h0M82.5 104.5h0M86.5 104.5h0M88.5 104.5h0M100.5 104.5h0M110.5 104.5h0M112.5 104.5h0M80.5 106.5h0M94.5 106.5h0M100.5 106.5h0M112.5 106.5h0M114.5 106.5h0M78.5 108.5h0M86.5 108.5h0M90.5 108.5h0M96.5 108.5h0M108.5 108.5h0M110.5 108.5h0M112.5 108.5h0M78.5 110.5h0M80.5 110.5h0M84.5 110.5h0M90.5 110.5h0M92.5 110.5h0M106.5 110.5h0M108.5 110.5h0M112.5 110.5h0M114.5 110.5h0M80.5 112.5h0M84.5 112.5h0M92.5 112.5h0M110.5 112.5h0M116.5 112.5h0M84.5 114.5h0M94.5 114.5h0M74.5 116.5h0M76.5 116.5h0M84.5 116.5h0M86.5 116.5h0M90.5 116.5h0M102.5 116.5h0M72.5 118.5h0M82.5 120.5h0M84.5 122.5h0M104.5 122.5h0M110.5 122.5h0M112.5 122.5h0M64.5 128.5h0M76.5 128.5h0M72.5 130.5h0M86.5 132.5h0M70.5 134.5h0M74.5 136.5h0M80.5 136.5h0M86.5 136.5h0M92.5 136.5h0M96.5 136.5h0M106.5 136.5h0M106.5 138.5h0M64.5 140.5h0M66.5 140.5h0M76.5 140.5h0M102.5 142.5h0M80.5 144.5h0M86.5 146.5h0M88.5 146.5h0M102.5 146.5h0M86.5 148.5h0M98.5 148.5h0M72.5 152.5h0M74.5 152.5h0M94.5 152.5h0M106.5 152.5h0M72.5 154.5h0M76.5 154.5h0M58.5 156.5h0M72.5 156.5h0M66.5 158.5h0M68.5 158.5h0M86.5 158.5h0M62.5 160.5h0M66.5 160.5h0M72.5 160.5h0M86.5 160.5h0M88.5 160.5h0M56.5 162.5h0M58.5 162.5h0M60.5 162.5h0M80.5 162.5h0M66.5 164.5h0M68.5 164.5h0M86.5 164.5h0M68.5 166.5h0M56.5 168.5h0M60.5 168.5h0M80.5 168.5h0M56.5 170.5h0M58.5 170.5h0M66.5 170.5h0M70.5 170.5h0M56.5 172.5h0M58.5 172.5h0M60.5 174.5h0M66.5 174.5h0M70.5 174.5h0M52.5 176.5h0M56.5 176.5h0M62.5 180.5h0M52.5 182.5h0M64.5 182.5h0M52.5 184.5h0M58.5 184.5h0M102.5 161.5h0M92.5 193.5h0M72.5 195.5h0M72.5 197.5h0M66.5 199.5h0M68.5 199.5h0M70.5 199.5h0M84.5 201.5h0M80.5 205.5h0" stroke="#f1a792" stroke-width="1.12" stroke-linecap="round" fill="none"/>
<path d="M80.5 58.5h0M80.5 62.5h0M80.5 66.5h0M82.5 68.5h0M78.5 72.5h0M80.5 72.5h0M80.5 76.5h0M76.5 78.5h0M78.5 78.5h0M122.5 78.5h0M76.5 80.5h0M78.5 80.5h0M122.5 80.5h0M120.5 82.5h0M74.5 84.5h0M76.5 84.5h0M118.5 84.5h0M122.5 84.5h0M76.5 86.5h0M120.5 86.5h0M74.5 88.5h0M76.5 88.5h0M78.5 88.5h0M118.5 88.5h0M78.5 94.5h0M78.5 96.5h0M78.5 98.5h0M118.5 98.5h0M76.5 100.5h0M78.5 100.5h0M80.5 100.5h0M82.5 102.5h0M84.5 102.5h0M92.5 102.5h0M108.5 102.5h0M84.5 104.5h0M92.5 104.5h0M74.5 106.5h0M76.5 106.5h0M82.5 106.5h0M84.5 106.5h0M86.5 106.5h0M90.5 106.5h0M110.5 106.5h0M116.5 106.5h0M72.5 108.5h0M76.5 108.5h0M82.5 108.5h0M88.5 108.5h0M94.5 108.5h0M114.5 108.5h0M116.5 108.5h0M70.5 110.5h0M76.5 110.5h0M86.5 110.5h0M88.5 110.5h0M94.5 110.5h0M96.5 110.5h0M110.5 110.5h0M72.5 112.5h0M74.5 112.5h0M78.5 112.5h0M86.5 112.5h0M88.5 112.5h0M90.5 112.5h0M94.5 112.5h0M114.5 112.5h0M70.5 114.5h0M110.5 114.5h0M82.5 116.5h0M88.5 116.5h0M92.5 116.5h0M94.5 116.5h0M108.5 116.5h0M110.5 116.5h0M74.5 118.5h0M80.5 118.5h0M82.5 118.5h0M84.5 118.5h0M94.5 118.5h0M96.5 118.5h0M66.5 120.5h0M68.5 120.5h0M70.5 120.5h0M80.5 120.5h0M96.5 120.5h0M100.5 120.5h0M108.5 120.5h0M66.5 122.5h0M78.5 122.5h0M80.5 122.5h0M82.5 122.5h0M102.5 122.5h0M66.5 124.5h0M106.5 124.5h0M108.5 124.5h0M64.5 126.5h0M72.5 126.5h0M70.5 128.5h0M72.5 128.5h0M82.5 128.5h0M102.5 128.5h0M104.5 128.5h0M76.5 130.5h0M82.5 130.5h0M88.5 130.5h0M90.5 130.5h0M102.5 130.5h0M106.5 130.5h0M72.5 132.5h0M74.5 132.5h0M78.5 132.5h0M80.5 132.5h0M68.5 134.5h0M66.5 136.5h0M70.5 136.5h0M72.5 136.5h0M76.5 136.5h0M82.5 136.5h0M94.5 136.5h0M100.5 136.5h0M62.5 138.5h0M72.5 138.5h0M94.5 138.5h0M108.5 138.5h0M62.5 140.5h0M68.5 140.5h0M70.5 140.5h0M74.5 142.5h0M86.5 142.5h0M60.5 144.5h0M64.5 144.5h0M76.5 144.5h0M88.5 144.5h0M60.5 146.5h0M68.5 146.5h0M76.5 146.5h0M98.5 146.5h0M62.5 148.5h0M70.5 148.5h0M80.5 148.5h0M82.5 148.5h0M74.5 150.5h0M78.5 150.5h0M82.5 150.5h0M102.5 150.5h0M106.5 150.5h0M66.5 152.5h0M76.5 152.5h0M82.5 152.5h0M96.5 152.5h0M60.5 154.5h0M64.5 154.5h0M66.5 156.5h0M70.5 156.5h0M76.5 156.5h0M78.5 156.5h0M64.5 158.5h0M70.5 158.5h0M80.5 158.5h0M68.5 160.5h0M78.5 162.5h0M86.5 162.5h0M56.5 164.5h0M70.5 164.5h0M82.5 164.5h0M54.5 166.5h0M58.5 166.5h0M66.5 166.5h0M72.5 166.5h0M80.5 166.5h0M86.5 166.5h0M54.5 168.5h0M66.5 168.5h0M74.5 168.5h0M54.5 170.5h0M74.5 170.5h0M82.5 170.5h0M86.5 170.5h0M70.5 172.5h0M74.5 172.5h0M72.5 174.5h0M62.5 176.5h0M74.5 176.5h0M54.5 178.5h0M56.5 180.5h0M54.5 182.5h0M66.5 182.5h0M64.5 186.5h0M89.5 122.5h0M97.5 145.5h0M90.5 155.5h0M98.5 157.5h0M93.5 161.5h0M95.5 163.5h0M81.5 172.5h0M49.5 194.5h0M86.5 193.5h0M64.5 197.5h0M68.5 197.5h0M72.5 199.5h0M68.5 201.5h0M72.5 201.5h0M76.5 203.5h0" stroke="#f8b986" stroke-width="1.12" stroke-linecap="round" fill="none"/>
<path d="M76.5 76.5h0M76.5 82.5h0M74.5 86.5h0M120.5 88.5h0M74.5 90.5h0M72.5 92.5h0M74.5 92.5h0M72.5 96.5h0M74.5 96.5h0M76.5 96.5h0M118.5 96.5h0M74.5 98.5h0M72.5 100.5h0M118.5 100.5h0M74.5 102.5h0M78.5 102.5h0M72.5 104.5h0M76.5 104.5h0M102.5 104.5h0M108.5 104.5h0M72.5 106.5h0M92.5 106.5h0M92.5 108.5h0M68.5 110.5h0M74.5 110.5h0M76.5 112.5h0M96.5 112.5h0M112.5 112.5h0M72.5 114.5h0M80.5 114.5h0M90.5 114.5h0M96.5 114.5h0M114.5 114.5h0M66.5 116.5h0M70.5 116.5h0M80.5 116.5h0M66.5 118.5h0M78.5 118.5h0M72.5 120.5h0M84.5 120.5h0M68.5 122.5h0M70.5 122.5h0M86.5 122.5h0M94.5 122.5h0M96.5 122.5h0M98.5 122.5h0M100.5 122.5h0M68.5 124.5h0M84.5 124.5h0M94.5 124.5h0M112.5 124.5h0M110.5 126.5h0M74.5 128.5h0M80.5 128.5h0M84.5 128.5h0M92.5 128.5h0M74.5 130.5h0M84.5 130.5h0M66.5 132.5h0M82.5 132.5h0M84.5 132.5h0M102.5 132.5h0M74.5 134.5h0M76.5 134.5h0M80.5 134.5h0M82.5 134.5h0M104.5 134.5h0M78.5 136.5h0M84.5 136.5h0M108.5 136.5h0M110.5 136.5h0M64.5 138.5h0M66.5 138.5h0M74.5 138.5h0M84.5 138.5h0M92.5 138.5h0M96.5 138.5h0M100.5 138.5h0M72.5 140.5h0M74.5 140.5h0M78.5 140.5h0M98.5 140.5h0M100.5 140.5h0M60.5 142.5h0M66.5 142.5h0M68.5 142.5h0M70.5 142.5h0M84.5 142.5h0M96.5 142.5h0M104.5 142.5h0M106.5 142.5h0M66.5 144.5h0M70.5 144.5h0M72.5 144.5h0M78.5 144.5h0M98.5 144.5h0M104.5 144.5h0M70.5 146.5h0M72.5 146.5h0M74.5 146.5h0M78.5 146.5h0M106.5 146.5h0M60.5 148.5h0M64.5 148.5h0M66.5 148.5h0M72.5 148.5h0M104.5 148.5h0M66.5 150.5h0M76.5 150.5h0M86.5 150.5h0M88.5 150.5h0M104.5 150.5h0M58.5 152.5h0M60.5 152.5h0M62.5 152.5h0M64.5 152.5h0M68.5 152.5h0M84.5 152.5h0M98.5 152.5h0M104.5 152.5h0M58.5 154.5h0M62.5 154.5h0M74.5 154.5h0M78.5 154.5h0M62.5 156.5h0M64.5 156.5h0M68.5 156.5h0M80.5 156.5h0M86.5 156.5h0M56.5 158.5h0M58.5 158.5h0M60.5 158.5h0M76.5 158.5h0M88.5 158.5h0M76.5 160.5h0M72.5 162.5h0M84.5 162.5h0M78.5 164.5h0M80.5 164.5h0M56.5 166.5h0M82.5 166.5h0M88.5 166.5h0M58.5 168.5h0M70.5 168.5h0M72.5 168.5h0M78.5 168.5h0M82.5 168.5h0M84.5 168.5h0M80.5 170.5h0M88.5 170.5h0M54.5 172.5h0M72.5 172.5h0M56.5 174.5h0M68.5 174.5h0M74.5 174.5h0M64.5 176.5h0M70.5 176.5h0M52.5 178.5h0M56.5 178.5h0M58.5 178.5h0M60.5 178.5h0M64.5 178.5h0M66.5 178.5h0M68.5 178.5h0M64.5 180.5h0M66.5 180.5h0M56.5 182.5h0M62.5 182.5h0M60.5 184.5h0M64.5 184.5h0M50.5 186.5h0M58.5 186.5h0M60.5 186.5h0M62.5 186.5h0M92.5 143.5h0M94.5 154.5h0M102.5 159.5h0M100.5 161.5h0M83.5 182.5h0M82.5 193.5h0M84.5 193.5h0M88.5 193.5h0M68.5 195.5h0M74.5 195.5h0M80.5 195.5h0M66.5 197.5h0M70.5 197.5h0M76.5 197.5h0M86.5 197.5h0M80.5 199.5h0M70.5 201.5h0M70.5 203.5h0M78.5 207.5h0" stroke="#fbcb7b" stroke-width="1.12" stroke-linecap="round" fill="none"/>
<path d="M72.5 94.5h0M74.5 94.5h0M72.5 98.5h0M80.5 102.5h0M74.5 104.5h0M78.5 106.5h0M70.5 108.5h0M74.5 108.5h0M72.5 110.5h0M68.5 114.5h0M92.5 114.5h0M112.5 114.5h0M68.5 116.5h0M72.5 116.5h0M96.5 116.5h0M68.5 118.5h0M86.5 118.5h0M98.5 118.5h0M74.5 120.5h0M76.5 120.5h0M78.5 120.5h0M94.5 120.5h0M98.5 120.5h0M72.5 122.5h0M108.5 122.5h0M72.5 124.5h0M80.5 124.5h0M82.5 124.5h0M110.5 124.5h0M68.5 126.5h0M70.5 126.5h0M74.5 126.5h0M76.5 126.5h0M78.5 126.5h0M112.5 126.5h0M66.5 128.5h0M68.5 128.5h0M78.5 128.5h0M106.5 128.5h0M86.5 130.5h0M104.5 130.5h0M68.5 132.5h0M76.5 132.5h0M104.5 132.5h0M66.5 134.5h0M72.5 134.5h0M78.5 134.5h0M84.5 134.5h0M86.5 134.5h0M102.5 134.5h0M62.5 136.5h0M64.5 136.5h0M68.5 136.5h0M98.5 136.5h0M102.5 136.5h0M68.5 138.5h0M76.5 138.5h0M104.5 138.5h0M84.5 140.5h0M86.5 140.5h0M64.5 142.5h0M78.5 142.5h0M80.5 142.5h0M82.5 142.5h0M92.5 142.5h0M94.5 142.5h0M98.5 142.5h0M62.5 144.5h0M68.5 144.5h0M82.5 144.5h0M66.5 146.5h0M80.5 146.5h0M104.5 146.5h0M68.5 148.5h0M76.5 148.5h0M102.5 148.5h0M106.5 148.5h0M60.5 150.5h0M70.5 150.5h0M80.5 150.5h0M84.5 150.5h0M100.5 150.5h0M70.5 152.5h0M100.5 152.5h0M66.5 154.5h0M68.5 154.5h0M70.5 154.5h0M82.5 154.5h0M60.5 156.5h0M74.5 156.5h0M72.5 158.5h0M78.5 158.5h0M82.5 158.5h0M56.5 160.5h0M70.5 160.5h0M74.5 160.5h0M82.5 160.5h0M84.5 160.5h0M88.5 162.5h0M72.5 164.5h0M74.5 164.5h0M88.5 164.5h0M68.5 168.5h0M78.5 170.5h0M84.5 170.5h0M80.5 172.5h0M54.5 174.5h0M64.5 174.5h0M76.5 174.5h0M78.5 174.5h0M80.5 174.5h0M60.5 176.5h0M62.5 178.5h0M54.5 184.5h0M52.5 186.5h0M54.5 186.5h0M56.5 186.5h0M62.5 188.5h0M89.5 120.5h0M91.5 122.5h0M91.5 145.5h0M91.5 157.5h0M100.5 157.5h0M102.5 157.5h0M98.5 161.5h0M100.5 163.5h0M49.5 192.5h0M92.5 191.5h0M78.5 193.5h0M78.5 195.5h0M74.5 199.5h0M78.5 199.5h0M82.5 199.5h0M74.5 201.5h0M82.5 201.5h0M72.5 203.5h0M80.5 203.5h0M82.5 203.5h0M84.5 205.5h0M91.5 206.5h0M80.5 207.5h0" stroke="#fae075" stroke-width="1.12" stroke-linecap="round" fill="none"/>
<path d="M70.5 100.5h0M70.5 102.5h0M72.5 102.5h0M70.5 104.5h0M70.5 106.5h0M68.5 108.5h0M68.5 112.5h0M74.5 114.5h0M76.5 114.5h0M82.5 114.5h0M70.5 118.5h0M110.5 118.5h0M86.5 120.5h0M74.5 122.5h0M76.5 122.5h0M106.5 122.5h0M70.5 124.5h0M74.5 124.5h0M76.5 124.5h0M78.5 124.5h0M96.5 124.5h0M66.5 126.5h0M106.5 126.5h0M108.5 126.5h0M86.5 128.5h0M88.5 128.5h0M90.5 128.5h0M64.5 130.5h0M66.5 130.5h0M68.5 130.5h0M70.5 130.5h0M78.5 130.5h0M80.5 130.5h0M64.5 132.5h0M70.5 132.5h0M106.5 132.5h0M64.5 134.5h0M98.5 134.5h0M100.5 134.5h0M106.5 134.5h0M104.5 136.5h0M70.5 138.5h0M78.5 138.5h0M82.5 138.5h0M86.5 138.5h0M98.5 138.5h0M80.5 140.5h0M82.5 140.5h0M92.5 140.5h0M94.5 140.5h0M96.5 140.5h0M102.5 140.5h0M104.5 140.5h0M106.5 140.5h0M72.5 142.5h0M76.5 142.5h0M100.5 142.5h0M74.5 144.5h0M84.5 144.5h0M86.5 144.5h0M102.5 144.5h0M106.5 144.5h0M62.5 146.5h0M64.5 146.5h0M82.5 146.5h0M84.5 148.5h0M88.5 148.5h0M100.5 148.5h0M58.5 150.5h0M64.5 150.5h0M98.5 150.5h0M78.5 152.5h0M80.5 152.5h0M102.5 152.5h0M80.5 154.5h0M82.5 156.5h0M84.5 156.5h0M74.5 158.5h0M84.5 158.5h0M78.5 160.5h0M80.5 160.5h0M70.5 162.5h0M74.5 162.5h0M76.5 162.5h0M82.5 162.5h0M76.5 164.5h0M84.5 164.5h0M74.5 166.5h0M76.5 166.5h0M78.5 166.5h0M84.5 166.5h0M76.5 168.5h0M86.5 168.5h0M88.5 168.5h0M72.5 170.5h0M76.5 170.5h0M78.5 172.5h0M54.5 176.5h0M58.5 176.5h0M68.5 176.5h0M72.5 176.5h0M70.5 178.5h0M58.5 180.5h0M68.5 180.5h0M70.5 180.5h0M58.5 182.5h0M60.5 182.5h0M56.5 184.5h0M62.5 184.5h0M50.5 188.5h0M52.5 188.5h0M54.5 188.5h0M56.5 188.5h0M58.5 188.5h0M60.5 188.5h0M94.5 149.5h0M93.5 157.5h0M100.5 159.5h0M99.5 166.5h0M88.5 173.5h0M70.5 195.5h0M76.5 195.5h0M74.5 197.5h0M84.5 197.5h0M76.5 199.5h0M84.5 199.5h0M86.5 199.5h0M76.5 201.5h0M80.5 201.5h0M86.5 201.5h0M78.5 203.5h0M84.5 203.5h0M86.5 203.5h0M76.5 205.5h0M78.5 205.5h0M82.5 205.5h0M76.5 207.5h0M82.5 207.5h0" stroke="#f3f673" stroke-width="1.12" stroke-linecap="round" fill="none"/>
</g>
<g clip-path="url(#cb)">
<path d="M189.40 5.4 V226.6" stroke="#bdbdbd" stroke-width="0.6"/>
<path d="M208.15 5.4 V226.6" stroke="#bdbdbd" stroke-width="0.6"/>
<path d="M226.90 5.4 V226.6" stroke="#bdbdbd" stroke-width="0.6"/>
<path d="M245.65 5.4 V226.6" stroke="#bdbdbd" stroke-width="0.6"/>
<path d="M264.40 5.4 V226.6" stroke="#bdbdbd" stroke-width="0.6"/>
<path d="M283.15 5.4 V226.6" stroke="#bdbdbd" stroke-width="0.6"/>
<path d="M180.4 16.40 H301.6" stroke="#bdbdbd" stroke-width="0.6"/>
<path d="M180.4 48.33 H301.6" stroke="#bdbdbd" stroke-width="0.6"/>
<path d="M180.4 80.26 H301.6" stroke="#bdbdbd" stroke-width="0.6"/>
<path d="M180.4 112.19 H301.6" stroke="#bdbdbd" stroke-width="0.6"/>
<path d="M180.4 144.12 H301.6" stroke="#bdbdbd" stroke-width="0.6"/>
<path d="M180.4 176.05 H301.6" stroke="#bdbdbd" stroke-width="0.6"/>
<path d="M180.4 207.98 H301.6" stroke="#bdbdbd" stroke-width="0.6"/>
<path d="M238.7 26.5h0M238.7 28.5h0M236.7 34.5h0M242.7 34.5h0M236.7 36.5h0M238.7 36.5h0M242.7 36.5h0M236.7 38.5h0M240.7 40.5h0M242.7 40.5h0M278.7 40.5h0M244.7 42.5h0M248.7 42.5h0M250.7 42.5h0M282.7 42.5h0M236.7 44.5h0M240.7 44.5h0M248.7 44.5h0M256.7 44.5h0M260.7 44.5h0M234.7 46.5h0M238.7 46.5h0M248.7 46.5h0M254.7 46.5h0M278.7 46.5h0M280.7 46.5h0M234.7 48.5h0M236.7 48.5h0M238.7 48.5h0M244.7 48.5h0M248.7 48.5h0M250.7 48.5h0M252.7 48.5h0M258.7 48.5h0M272.7 48.5h0M232.7 50.5h0M234.7 50.5h0M236.7 50.5h0M242.7 50.5h0M252.7 50.5h0M258.7 50.5h0M276.7 50.5h0M280.7 50.5h0M274.7 52.5h0M264.7 58.5h0M278.7 58.5h0M264.7 60.5h0M278.7 60.5h0M252.7 27.5h0M260.7 38.5h0M258.7 40.5h0M270.7 37.5h0M248.7 41.5h0M264.7 51.5h0" stroke="#e9f2fa" stroke-width="2.5" stroke-linecap="round" fill="none" opacity="0.93"/>
<path d="M240.7 24.5h0M242.7 24.5h0M242.7 26.5h0M240.7 30.5h0M242.7 30.5h0M244.7 32.5h0M244.7 36.5h0M238.7 38.5h0M240.7 38.5h0M244.7 38.5h0M238.7 40.5h0M234.7 42.5h0M236.7 42.5h0M240.7 42.5h0M254.7 42.5h0M256.7 42.5h0M246.7 44.5h0M250.7 44.5h0M276.7 44.5h0M282.7 44.5h0M242.7 46.5h0M246.7 46.5h0M260.7 46.5h0M240.7 48.5h0M242.7 48.5h0M254.7 48.5h0M276.7 48.5h0M280.7 48.5h0M244.7 50.5h0M250.7 50.5h0M252.7 52.5h0M256.7 52.5h0M260.7 52.5h0M272.7 52.5h0M276.7 52.5h0M278.7 52.5h0M248.7 54.5h0M260.7 54.5h0M272.7 54.5h0M274.7 54.5h0M276.7 54.5h0M280.7 54.5h0M252.7 56.5h0M254.7 56.5h0M256.7 56.5h0M258.7 56.5h0M260.7 56.5h0M274.7 56.5h0M256.7 58.5h0M262.7 58.5h0M266.7 58.5h0M274.7 58.5h0M262.7 60.5h0M270.7 60.5h0M272.7 60.5h0M274.7 60.5h0M276.7 60.5h0M252.7 62.5h0M258.7 62.5h0M262.7 62.5h0M270.7 62.5h0M272.7 62.5h0M276.7 62.5h0M262.7 64.5h0M268.7 64.5h0M274.7 64.5h0M256.7 66.5h0M268.7 66.5h0M270.7 66.5h0M272.7 66.5h0M274.7 66.5h0M276.7 66.5h0M262.7 70.5h0M266.7 70.5h0M268.7 70.5h0M274.7 78.5h0M254.7 27.5h0M260.7 40.5h0M250.7 39.5h0M248.7 37.5h0" stroke="#dae8f6" stroke-width="2.5" stroke-linecap="round" fill="none" opacity="0.93"/>
<path d="M238.7 32.5h0M242.7 32.5h0M238.7 34.5h0M240.7 36.5h0M244.7 40.5h0M276.7 40.5h0M280.7 40.5h0M238.7 42.5h0M242.7 42.5h0M246.7 42.5h0M252.7 42.5h0M276.7 42.5h0M280.7 42.5h0M234.7 44.5h0M238.7 44.5h0M242.7 44.5h0M244.7 44.5h0M252.7 44.5h0M254.7 44.5h0M278.7 44.5h0M236.7 46.5h0M240.7 46.5h0M244.7 46.5h0M256.7 46.5h0M272.7 46.5h0M274.7 46.5h0M276.7 46.5h0M256.7 48.5h0M260.7 48.5h0M238.7 50.5h0M248.7 50.5h0M254.7 50.5h0M260.7 50.5h0M274.7 50.5h0M278.7 50.5h0M242.7 52.5h0M250.7 52.5h0M254.7 52.5h0M258.7 52.5h0M280.7 52.5h0M252.7 54.5h0M256.7 54.5h0M258.7 54.5h0M278.7 54.5h0M250.7 56.5h0M266.7 56.5h0M272.7 56.5h0M276.7 56.5h0M278.7 56.5h0M246.7 58.5h0M248.7 58.5h0M250.7 58.5h0M252.7 58.5h0M254.7 58.5h0M268.7 58.5h0M270.7 58.5h0M272.7 58.5h0M246.7 60.5h0M250.7 60.5h0M252.7 60.5h0M254.7 60.5h0M256.7 60.5h0M258.7 60.5h0M260.7 60.5h0M254.7 62.5h0M256.7 62.5h0M260.7 62.5h0M264.7 62.5h0M274.7 62.5h0M278.7 62.5h0M250.7 64.5h0M252.7 64.5h0M258.7 64.5h0M260.7 64.5h0M264.7 64.5h0M266.7 64.5h0M270.7 64.5h0M272.7 64.5h0M276.7 64.5h0M260.7 66.5h0M264.7 66.5h0M266.7 66.5h0M248.7 68.5h0M252.7 68.5h0M258.7 68.5h0M260.7 68.5h0M262.7 68.5h0M264.7 68.5h0M266.7 68.5h0M268.7 68.5h0M270.7 68.5h0M272.7 68.5h0M274.7 68.5h0M254.7 70.5h0M256.7 70.5h0M258.7 70.5h0M260.7 70.5h0M270.7 70.5h0M272.7 70.5h0M274.7 70.5h0M276.7 70.5h0M252.7 72.5h0M256.7 72.5h0M258.7 72.5h0M260.7 72.5h0M262.7 72.5h0M266.7 72.5h0M270.7 72.5h0M272.7 72.5h0M274.7 72.5h0M258.7 74.5h0M260.7 74.5h0M268.7 74.5h0M248.7 76.5h0M258.7 76.5h0M262.7 76.5h0M258.7 78.5h0M262.7 78.5h0M264.7 78.5h0M268.7 78.5h0M258.7 80.5h0M266.7 80.5h0M252.7 82.5h0M268.7 82.5h0M262.7 86.5h0M266.7 86.5h0M256.7 88.5h0M255.7 42.5h0M257.7 42.5h0M272.7 41.5h0M246.7 37.5h0M248.7 35.5h0M266.7 51.5h0M262.7 51.5h0" stroke="#cbdef1" stroke-width="2.5" stroke-linecap="round" fill="none" opacity="0.93"/>
<path d="M238.7 52.5h0M240.7 52.5h0M244.7 52.5h0M246.7 52.5h0M248.7 52.5h0M236.7 54.5h0M238.7 54.5h0M240.7 54.5h0M242.7 54.5h0M244.7 54.5h0M246.7 54.5h0M250.7 54.5h0M254.7 54.5h0M238.7 56.5h0M242.7 56.5h0M244.7 56.5h0M246.7 56.5h0M248.7 56.5h0M240.7 58.5h0M258.7 58.5h0M260.7 58.5h0M242.7 60.5h0M244.7 60.5h0M248.7 60.5h0M244.7 62.5h0M246.7 62.5h0M248.7 62.5h0M250.7 62.5h0M238.7 64.5h0M240.7 64.5h0M244.7 64.5h0M246.7 64.5h0M248.7 64.5h0M254.7 64.5h0M256.7 64.5h0M244.7 66.5h0M246.7 66.5h0M248.7 66.5h0M250.7 66.5h0M252.7 66.5h0M254.7 66.5h0M258.7 66.5h0M262.7 66.5h0M242.7 68.5h0M244.7 68.5h0M246.7 68.5h0M250.7 68.5h0M254.7 68.5h0M256.7 68.5h0M276.7 68.5h0M240.7 70.5h0M242.7 70.5h0M244.7 70.5h0M250.7 70.5h0M252.7 70.5h0M264.7 70.5h0M242.7 72.5h0M244.7 72.5h0M246.7 72.5h0M248.7 72.5h0M250.7 72.5h0M254.7 72.5h0M268.7 72.5h0M234.7 74.5h0M252.7 74.5h0M254.7 74.5h0M256.7 74.5h0M264.7 74.5h0M266.7 74.5h0M270.7 74.5h0M272.7 74.5h0M274.7 74.5h0M246.7 76.5h0M250.7 76.5h0M252.7 76.5h0M254.7 76.5h0M256.7 76.5h0M260.7 76.5h0M264.7 76.5h0M266.7 76.5h0M268.7 76.5h0M270.7 76.5h0M272.7 76.5h0M274.7 76.5h0M242.7 78.5h0M250.7 78.5h0M260.7 78.5h0M270.7 78.5h0M272.7 78.5h0M244.7 80.5h0M254.7 80.5h0M256.7 80.5h0M264.7 80.5h0M268.7 80.5h0M272.7 80.5h0M250.7 82.5h0M256.7 82.5h0M258.7 82.5h0M260.7 82.5h0M266.7 82.5h0M270.7 82.5h0M246.7 84.5h0M248.7 84.5h0M250.7 84.5h0M252.7 84.5h0M254.7 84.5h0M258.7 84.5h0M260.7 84.5h0M262.7 84.5h0M270.7 84.5h0M272.7 84.5h0M258.7 86.5h0M260.7 86.5h0M264.7 86.5h0M268.7 86.5h0M264.7 88.5h0M270.7 88.5h0M248.7 90.5h0M254.7 90.5h0M256.7 90.5h0M260.7 90.5h0M264.7 90.5h0M250.7 92.5h0M258.7 92.5h0M262.7 92.5h0M264.7 92.5h0M252.7 94.5h0M254.7 94.5h0M256.7 94.5h0M264.7 96.5h0M254.7 98.5h0M262.7 102.5h0" stroke="#b4d4e8" stroke-width="2.5" stroke-linecap="round" fill="none" opacity="0.93"/>
<path d="M240.7 34.5h0M244.7 34.5h0M236.7 40.5h0M258.7 42.5h0M278.7 42.5h0M280.7 44.5h0M250.7 46.5h0M256.7 50.5h0M232.7 52.5h0M234.7 52.5h0M236.7 52.5h0M232.7 54.5h0M234.7 56.5h0M236.7 56.5h0M234.7 58.5h0M244.7 58.5h0M234.7 60.5h0M236.7 60.5h0M238.7 60.5h0M240.7 60.5h0M234.7 62.5h0M238.7 62.5h0M240.7 62.5h0M242.7 62.5h0M238.7 66.5h0M236.7 68.5h0M232.7 70.5h0M234.7 70.5h0M236.7 70.5h0M238.7 70.5h0M246.7 70.5h0M248.7 70.5h0M234.7 72.5h0M238.7 72.5h0M264.7 72.5h0M236.7 74.5h0M238.7 74.5h0M240.7 74.5h0M246.7 74.5h0M248.7 74.5h0M250.7 74.5h0M262.7 74.5h0M238.7 76.5h0M242.7 76.5h0M244.7 76.5h0M240.7 78.5h0M244.7 78.5h0M246.7 78.5h0M248.7 78.5h0M252.7 78.5h0M254.7 78.5h0M256.7 78.5h0M266.7 78.5h0M234.7 80.5h0M242.7 80.5h0M246.7 80.5h0M248.7 80.5h0M250.7 80.5h0M252.7 80.5h0M270.7 80.5h0M236.7 82.5h0M238.7 82.5h0M242.7 82.5h0M244.7 82.5h0M246.7 82.5h0M248.7 82.5h0M254.7 82.5h0M264.7 82.5h0M272.7 82.5h0M236.7 84.5h0M238.7 84.5h0M240.7 84.5h0M242.7 84.5h0M244.7 84.5h0M256.7 84.5h0M264.7 84.5h0M266.7 84.5h0M268.7 84.5h0M234.7 86.5h0M236.7 86.5h0M242.7 86.5h0M248.7 86.5h0M250.7 86.5h0M254.7 86.5h0M256.7 86.5h0M270.7 86.5h0M272.7 86.5h0M242.7 88.5h0M248.7 88.5h0M250.7 88.5h0M252.7 88.5h0M254.7 88.5h0M258.7 88.5h0M260.7 88.5h0M262.7 88.5h0M266.7 88.5h0M268.7 88.5h0M242.7 90.5h0M244.7 90.5h0M246.7 90.5h0M250.7 90.5h0M252.7 90.5h0M258.7 90.5h0M262.7 90.5h0M244.7 92.5h0M248.7 92.5h0M252.7 92.5h0M254.7 92.5h0M256.7 92.5h0M260.7 92.5h0M244.7 94.5h0M246.7 94.5h0M250.7 94.5h0M258.7 94.5h0M260.7 94.5h0M264.7 94.5h0M240.7 96.5h0M246.7 96.5h0M248.7 96.5h0M250.7 96.5h0M266.7 96.5h0M268.7 96.5h0M246.7 98.5h0M250.7 98.5h0M252.7 98.5h0M264.7 98.5h0M246.7 100.5h0M248.7 100.5h0M250.7 100.5h0M252.7 100.5h0M254.7 100.5h0M264.7 100.5h0M250.7 102.5h0M254.7 102.5h0M256.7 102.5h0M258.7 102.5h0M264.7 102.5h0M252.7 104.5h0M254.7 104.5h0M264.7 104.5h0M256.7 106.5h0M258.7 106.5h0M260.7 108.5h0M266.7 108.5h0M266.7 110.5h0M252.7 114.5h0M256.7 114.5h0M258.7 114.5h0M252.7 130.5h0M258.7 38.5h0M248.7 39.5h0M268.7 51.5h0M268.7 104.5h0" stroke="#99c7e1" stroke-width="2.5" stroke-linecap="round" fill="none" opacity="0.93"/>
<path d="M234.7 54.5h0M232.7 56.5h0M232.7 58.5h0M236.7 58.5h0M238.7 58.5h0M242.7 58.5h0M232.7 60.5h0M230.7 62.5h0M232.7 62.5h0M230.7 64.5h0M232.7 64.5h0M234.7 64.5h0M236.7 64.5h0M242.7 64.5h0M230.7 66.5h0M232.7 66.5h0M234.7 66.5h0M236.7 66.5h0M240.7 66.5h0M242.7 66.5h0M228.7 68.5h0M230.7 68.5h0M234.7 68.5h0M238.7 68.5h0M240.7 68.5h0M232.7 72.5h0M240.7 72.5h0M230.7 74.5h0M232.7 74.5h0M242.7 74.5h0M244.7 74.5h0M228.7 76.5h0M230.7 76.5h0M232.7 76.5h0M236.7 76.5h0M240.7 76.5h0M232.7 78.5h0M236.7 78.5h0M238.7 78.5h0M232.7 80.5h0M236.7 80.5h0M238.7 80.5h0M240.7 80.5h0M260.7 80.5h0M226.7 82.5h0M232.7 82.5h0M240.7 82.5h0M234.7 84.5h0M228.7 86.5h0M230.7 86.5h0M232.7 86.5h0M238.7 86.5h0M240.7 86.5h0M244.7 86.5h0M246.7 86.5h0M252.7 86.5h0M234.7 88.5h0M240.7 88.5h0M244.7 88.5h0M246.7 88.5h0M238.7 90.5h0M240.7 90.5h0M230.7 92.5h0M238.7 92.5h0M240.7 92.5h0M246.7 92.5h0M234.7 94.5h0M236.7 94.5h0M238.7 94.5h0M240.7 94.5h0M248.7 94.5h0M262.7 94.5h0M238.7 96.5h0M242.7 96.5h0M252.7 96.5h0M254.7 96.5h0M234.7 98.5h0M238.7 98.5h0M240.7 98.5h0M242.7 98.5h0M244.7 98.5h0M266.7 98.5h0M268.7 98.5h0M242.7 100.5h0M256.7 100.5h0M258.7 100.5h0M262.7 100.5h0M266.7 100.5h0M268.7 100.5h0M236.7 102.5h0M246.7 102.5h0M248.7 102.5h0M252.7 102.5h0M260.7 102.5h0M266.7 102.5h0M240.7 104.5h0M242.7 104.5h0M244.7 104.5h0M246.7 104.5h0M248.7 104.5h0M250.7 104.5h0M256.7 104.5h0M260.7 104.5h0M266.7 104.5h0M236.7 106.5h0M248.7 106.5h0M250.7 106.5h0M252.7 106.5h0M254.7 106.5h0M260.7 106.5h0M262.7 106.5h0M264.7 106.5h0M266.7 106.5h0M232.7 108.5h0M236.7 108.5h0M244.7 108.5h0M246.7 108.5h0M254.7 108.5h0M256.7 108.5h0M258.7 108.5h0M236.7 110.5h0M238.7 110.5h0M240.7 110.5h0M244.7 110.5h0M246.7 110.5h0M254.7 110.5h0M256.7 110.5h0M258.7 110.5h0M260.7 110.5h0M262.7 110.5h0M242.7 112.5h0M244.7 112.5h0M258.7 112.5h0M262.7 112.5h0M266.7 112.5h0M244.7 114.5h0M246.7 114.5h0M254.7 114.5h0M260.7 114.5h0M260.7 116.5h0M246.7 120.5h0M250.7 120.5h0M258.7 120.5h0M252.7 122.5h0M260.7 122.5h0M262.7 122.5h0M256.7 124.5h0M250.7 136.5h0M256.7 138.5h0M256.7 150.5h0" stroke="#79b6da" stroke-width="2.5" stroke-linecap="round" fill="none" opacity="0.93"/>
<path d="M240.7 26.5h0M240.7 28.5h0M242.7 28.5h0M238.7 30.5h0M240.7 32.5h0M242.7 38.5h0M260.7 42.5h0M258.7 44.5h0M252.7 46.5h0M258.7 46.5h0M246.7 48.5h0M274.7 48.5h0M278.7 48.5h0M240.7 50.5h0M246.7 50.5h0M272.7 50.5h0M240.7 56.5h0M230.7 58.5h0M230.7 60.5h0M236.7 62.5h0M232.7 68.5h0M230.7 70.5h0M228.7 72.5h0M230.7 72.5h0M236.7 72.5h0M228.7 74.5h0M226.7 76.5h0M234.7 76.5h0M230.7 78.5h0M228.7 80.5h0M230.7 80.5h0M230.7 82.5h0M234.7 82.5h0M226.7 84.5h0M230.7 84.5h0M232.7 84.5h0M228.7 88.5h0M230.7 88.5h0M232.7 88.5h0M236.7 88.5h0M238.7 88.5h0M230.7 90.5h0M232.7 90.5h0M234.7 90.5h0M236.7 90.5h0M228.7 92.5h0M232.7 92.5h0M234.7 92.5h0M236.7 92.5h0M242.7 92.5h0M228.7 94.5h0M232.7 94.5h0M242.7 94.5h0M230.7 96.5h0M232.7 96.5h0M236.7 96.5h0M244.7 96.5h0M224.7 98.5h0M236.7 98.5h0M248.7 98.5h0M226.7 100.5h0M232.7 100.5h0M234.7 100.5h0M236.7 100.5h0M238.7 100.5h0M240.7 100.5h0M244.7 100.5h0M260.7 100.5h0M232.7 102.5h0M234.7 102.5h0M238.7 102.5h0M240.7 102.5h0M242.7 102.5h0M244.7 102.5h0M224.7 104.5h0M234.7 104.5h0M236.7 104.5h0M238.7 104.5h0M258.7 104.5h0M262.7 104.5h0M226.7 106.5h0M230.7 106.5h0M232.7 106.5h0M238.7 106.5h0M240.7 106.5h0M242.7 106.5h0M244.7 106.5h0M234.7 108.5h0M238.7 108.5h0M262.7 108.5h0M264.7 108.5h0M224.7 110.5h0M230.7 110.5h0M242.7 110.5h0M230.7 112.5h0M232.7 112.5h0M236.7 112.5h0M238.7 112.5h0M240.7 112.5h0M246.7 112.5h0M260.7 112.5h0M264.7 112.5h0M228.7 114.5h0M240.7 114.5h0M262.7 114.5h0M264.7 114.5h0M236.7 116.5h0M240.7 116.5h0M242.7 116.5h0M244.7 116.5h0M246.7 116.5h0M252.7 116.5h0M254.7 116.5h0M256.7 116.5h0M258.7 116.5h0M228.7 118.5h0M234.7 118.5h0M246.7 118.5h0M248.7 118.5h0M250.7 118.5h0M258.7 118.5h0M260.7 118.5h0M234.7 120.5h0M248.7 120.5h0M260.7 120.5h0M226.7 122.5h0M236.7 122.5h0M244.7 122.5h0M246.7 122.5h0M248.7 122.5h0M250.7 122.5h0M256.7 122.5h0M234.7 124.5h0M236.7 124.5h0M244.7 124.5h0M246.7 124.5h0M258.7 124.5h0M260.7 124.5h0M262.7 124.5h0M258.7 126.5h0M262.7 126.5h0M236.7 128.5h0M254.7 128.5h0M256.7 128.5h0M240.7 130.5h0M254.7 130.5h0M230.7 132.5h0M252.7 132.5h0M254.7 132.5h0M256.7 132.5h0M230.7 134.5h0M250.7 134.5h0M254.7 134.5h0M256.7 134.5h0M232.7 136.5h0M236.7 136.5h0M244.7 136.5h0M246.7 136.5h0M248.7 136.5h0M252.7 136.5h0M256.7 136.5h0M260.7 136.5h0M242.7 138.5h0M244.7 138.5h0M248.7 138.5h0M250.7 138.5h0M252.7 138.5h0M248.7 140.5h0M250.7 140.5h0M252.7 140.5h0M256.7 140.5h0M228.7 142.5h0M252.7 142.5h0M252.7 144.5h0M254.7 146.5h0M256.7 146.5h0M228.7 148.5h0M236.7 148.5h0M248.7 148.5h0M250.7 148.5h0M228.7 150.5h0M234.7 150.5h0M236.7 150.5h0M248.7 150.5h0M252.7 150.5h0M226.7 152.5h0M244.7 152.5h0M232.7 158.5h0M236.7 158.5h0M222.7 160.5h0M234.7 162.5h0M236.7 164.5h0M234.7 168.5h0M232.7 170.5h0M238.7 170.5h0M239.7 120.5h0M239.7 122.5h0M241.7 122.5h0M242.7 143.5h0M244.7 149.5h0M244.7 154.5h0M248.7 157.5h0M252.7 157.5h0M243.7 161.5h0M231.7 172.5h0M226.7 201.5h0M228.7 201.5h0M226.7 203.5h0" stroke="#61a5d0" stroke-width="2.5" stroke-linecap="round" fill="none" opacity="0.93"/>
<path d="M228.7 70.5h0M226.7 78.5h0M228.7 78.5h0M234.7 78.5h0M226.7 80.5h0M228.7 82.5h0M224.7 84.5h0M228.7 84.5h0M224.7 86.5h0M226.7 86.5h0M226.7 88.5h0M224.7 90.5h0M226.7 90.5h0M228.7 90.5h0M222.7 92.5h0M224.7 92.5h0M230.7 94.5h0M222.7 96.5h0M224.7 96.5h0M228.7 96.5h0M234.7 96.5h0M222.7 98.5h0M226.7 98.5h0M228.7 98.5h0M230.7 98.5h0M232.7 98.5h0M222.7 100.5h0M224.7 100.5h0M228.7 100.5h0M230.7 100.5h0M222.7 102.5h0M224.7 102.5h0M226.7 102.5h0M228.7 102.5h0M230.7 102.5h0M222.7 104.5h0M230.7 104.5h0M232.7 104.5h0M222.7 106.5h0M228.7 106.5h0M234.7 106.5h0M246.7 106.5h0M222.7 108.5h0M224.7 108.5h0M228.7 108.5h0M230.7 108.5h0M240.7 108.5h0M242.7 108.5h0M220.7 110.5h0M226.7 110.5h0M228.7 110.5h0M234.7 110.5h0M264.7 110.5h0M220.7 112.5h0M222.7 112.5h0M228.7 112.5h0M234.7 112.5h0M232.7 114.5h0M234.7 114.5h0M242.7 114.5h0M226.7 116.5h0M228.7 116.5h0M230.7 116.5h0M232.7 116.5h0M234.7 116.5h0M238.7 116.5h0M220.7 118.5h0M222.7 118.5h0M226.7 118.5h0M230.7 118.5h0M232.7 118.5h0M244.7 118.5h0M224.7 120.5h0M228.7 120.5h0M230.7 120.5h0M232.7 120.5h0M236.7 120.5h0M244.7 120.5h0M222.7 122.5h0M230.7 122.5h0M232.7 122.5h0M234.7 122.5h0M254.7 122.5h0M258.7 122.5h0M224.7 124.5h0M228.7 124.5h0M230.7 124.5h0M214.7 126.5h0M222.7 126.5h0M224.7 126.5h0M256.7 126.5h0M260.7 126.5h0M224.7 128.5h0M228.7 128.5h0M230.7 128.5h0M232.7 128.5h0M234.7 128.5h0M238.7 128.5h0M240.7 128.5h0M242.7 128.5h0M252.7 128.5h0M222.7 130.5h0M230.7 130.5h0M232.7 130.5h0M234.7 130.5h0M236.7 130.5h0M238.7 130.5h0M224.7 132.5h0M226.7 132.5h0M228.7 132.5h0M232.7 132.5h0M236.7 132.5h0M220.7 134.5h0M222.7 134.5h0M226.7 134.5h0M232.7 134.5h0M234.7 134.5h0M236.7 134.5h0M248.7 134.5h0M252.7 134.5h0M222.7 136.5h0M224.7 136.5h0M228.7 136.5h0M242.7 136.5h0M254.7 136.5h0M258.7 136.5h0M216.7 138.5h0M222.7 138.5h0M230.7 138.5h0M232.7 138.5h0M234.7 138.5h0M236.7 138.5h0M246.7 138.5h0M254.7 138.5h0M258.7 138.5h0M218.7 140.5h0M226.7 140.5h0M228.7 140.5h0M230.7 140.5h0M232.7 140.5h0M234.7 140.5h0M242.7 140.5h0M246.7 140.5h0M254.7 140.5h0M258.7 140.5h0M220.7 142.5h0M224.7 142.5h0M234.7 142.5h0M236.7 142.5h0M242.7 142.5h0M248.7 142.5h0M254.7 142.5h0M256.7 142.5h0M220.7 144.5h0M222.7 144.5h0M230.7 144.5h0M234.7 144.5h0M236.7 144.5h0M238.7 144.5h0M248.7 144.5h0M254.7 144.5h0M256.7 144.5h0M222.7 146.5h0M230.7 146.5h0M232.7 146.5h0M236.7 146.5h0M238.7 146.5h0M248.7 146.5h0M252.7 146.5h0M224.7 148.5h0M230.7 148.5h0M234.7 148.5h0M238.7 148.5h0M252.7 148.5h0M254.7 148.5h0M256.7 148.5h0M222.7 150.5h0M224.7 150.5h0M232.7 150.5h0M238.7 150.5h0M254.7 150.5h0M222.7 152.5h0M228.7 152.5h0M232.7 152.5h0M234.7 152.5h0M246.7 152.5h0M248.7 152.5h0M250.7 152.5h0M256.7 152.5h0M216.7 154.5h0M224.7 154.5h0M226.7 154.5h0M230.7 154.5h0M218.7 156.5h0M220.7 156.5h0M222.7 156.5h0M226.7 156.5h0M228.7 156.5h0M232.7 156.5h0M234.7 156.5h0M212.7 158.5h0M220.7 158.5h0M224.7 158.5h0M226.7 158.5h0M228.7 158.5h0M230.7 158.5h0M238.7 158.5h0M214.7 160.5h0M216.7 160.5h0M232.7 160.5h0M234.7 160.5h0M236.7 160.5h0M238.7 160.5h0M212.7 162.5h0M222.7 162.5h0M224.7 162.5h0M230.7 162.5h0M232.7 162.5h0M236.7 162.5h0M238.7 162.5h0M214.7 164.5h0M222.7 164.5h0M232.7 164.5h0M234.7 164.5h0M238.7 164.5h0M214.7 166.5h0M226.7 166.5h0M232.7 166.5h0M234.7 166.5h0M236.7 166.5h0M238.7 166.5h0M214.7 168.5h0M230.7 168.5h0M232.7 168.5h0M238.7 168.5h0M234.7 170.5h0M236.7 170.5h0M204.7 172.5h0M220.7 172.5h0M222.7 172.5h0M226.7 172.5h0M214.7 174.5h0M220.7 174.5h0M222.7 174.5h0M228.7 174.5h0M230.7 174.5h0M212.7 180.5h0M208.7 182.5h0M216.7 182.5h0M241.7 145.5h0M247.7 145.5h0M240.7 155.5h0M241.7 157.5h0M243.7 157.5h0M250.7 157.5h0M250.7 159.5h0M252.7 159.5h0M248.7 161.5h0M250.7 161.5h0M252.7 161.5h0M250.7 163.5h0M249.7 166.5h0M238.7 173.5h0M199.7 200.5h0M199.7 202.5h0M242.7 191.5h0M228.7 193.5h0M230.7 193.5h0M234.7 193.5h0M236.7 193.5h0M242.7 193.5h0M222.7 195.5h0M226.7 195.5h0M230.7 195.5h0M216.7 197.5h0M218.7 197.5h0M222.7 197.5h0M224.7 199.5h0M232.7 201.5h0M228.7 203.5h0M230.7 203.5h0M228.7 205.5h0M230.7 205.5h0M232.7 207.5h0" stroke="#4b93c7" stroke-width="2.5" stroke-linecap="round" fill="none" opacity="0.93"/>
<path d="M224.7 88.5h0M226.7 92.5h0M222.7 94.5h0M224.7 94.5h0M226.7 94.5h0M226.7 96.5h0M220.7 102.5h0M220.7 104.5h0M226.7 104.5h0M220.7 106.5h0M224.7 106.5h0M218.7 108.5h0M220.7 108.5h0M226.7 108.5h0M218.7 110.5h0M222.7 110.5h0M218.7 112.5h0M224.7 112.5h0M226.7 112.5h0M220.7 114.5h0M222.7 114.5h0M226.7 114.5h0M230.7 114.5h0M216.7 116.5h0M220.7 116.5h0M224.7 116.5h0M216.7 118.5h0M218.7 118.5h0M224.7 118.5h0M236.7 118.5h0M216.7 120.5h0M218.7 120.5h0M220.7 120.5h0M222.7 120.5h0M226.7 120.5h0M220.7 122.5h0M224.7 122.5h0M228.7 122.5h0M216.7 124.5h0M218.7 124.5h0M220.7 124.5h0M222.7 124.5h0M226.7 124.5h0M232.7 124.5h0M220.7 126.5h0M216.7 128.5h0M220.7 128.5h0M222.7 128.5h0M226.7 128.5h0M214.7 130.5h0M216.7 130.5h0M218.7 130.5h0M220.7 130.5h0M224.7 130.5h0M226.7 130.5h0M228.7 130.5h0M256.7 130.5h0M216.7 132.5h0M218.7 132.5h0M222.7 132.5h0M234.7 132.5h0M218.7 134.5h0M224.7 134.5h0M212.7 136.5h0M214.7 136.5h0M216.7 136.5h0M218.7 136.5h0M226.7 136.5h0M230.7 136.5h0M234.7 136.5h0M218.7 138.5h0M224.7 138.5h0M226.7 138.5h0M228.7 138.5h0M216.7 140.5h0M220.7 140.5h0M222.7 140.5h0M224.7 140.5h0M236.7 140.5h0M244.7 140.5h0M216.7 142.5h0M218.7 142.5h0M222.7 142.5h0M226.7 142.5h0M230.7 142.5h0M232.7 142.5h0M244.7 142.5h0M246.7 142.5h0M250.7 142.5h0M210.7 144.5h0M214.7 144.5h0M218.7 144.5h0M224.7 144.5h0M226.7 144.5h0M228.7 144.5h0M232.7 144.5h0M210.7 146.5h0M214.7 146.5h0M218.7 146.5h0M224.7 146.5h0M226.7 146.5h0M228.7 146.5h0M234.7 146.5h0M212.7 148.5h0M218.7 148.5h0M220.7 148.5h0M226.7 148.5h0M232.7 148.5h0M210.7 150.5h0M214.7 150.5h0M216.7 150.5h0M220.7 150.5h0M226.7 150.5h0M230.7 150.5h0M250.7 150.5h0M210.7 152.5h0M214.7 152.5h0M216.7 152.5h0M220.7 152.5h0M224.7 152.5h0M230.7 152.5h0M252.7 152.5h0M254.7 152.5h0M208.7 154.5h0M214.7 154.5h0M218.7 154.5h0M220.7 154.5h0M222.7 154.5h0M228.7 154.5h0M232.7 154.5h0M208.7 156.5h0M210.7 156.5h0M212.7 156.5h0M224.7 156.5h0M230.7 156.5h0M236.7 156.5h0M208.7 158.5h0M214.7 158.5h0M216.7 158.5h0M218.7 158.5h0M222.7 158.5h0M234.7 158.5h0M208.7 160.5h0M210.7 160.5h0M212.7 160.5h0M218.7 160.5h0M220.7 160.5h0M224.7 160.5h0M228.7 160.5h0M230.7 160.5h0M206.7 162.5h0M210.7 162.5h0M214.7 162.5h0M216.7 162.5h0M218.7 162.5h0M210.7 164.5h0M212.7 164.5h0M218.7 164.5h0M226.7 164.5h0M228.7 164.5h0M230.7 164.5h0M206.7 166.5h0M212.7 166.5h0M216.7 166.5h0M218.7 166.5h0M222.7 166.5h0M224.7 166.5h0M228.7 166.5h0M230.7 166.5h0M210.7 168.5h0M212.7 168.5h0M216.7 168.5h0M218.7 168.5h0M220.7 168.5h0M222.7 168.5h0M224.7 168.5h0M228.7 168.5h0M236.7 168.5h0M208.7 170.5h0M210.7 170.5h0M212.7 170.5h0M214.7 170.5h0M216.7 170.5h0M218.7 170.5h0M220.7 170.5h0M222.7 170.5h0M224.7 170.5h0M226.7 170.5h0M228.7 170.5h0M230.7 170.5h0M208.7 172.5h0M212.7 172.5h0M214.7 172.5h0M216.7 172.5h0M218.7 172.5h0M224.7 172.5h0M228.7 172.5h0M230.7 172.5h0M206.7 174.5h0M210.7 174.5h0M212.7 174.5h0M216.7 174.5h0M218.7 174.5h0M224.7 174.5h0M226.7 174.5h0M206.7 176.5h0M212.7 176.5h0M216.7 176.5h0M220.7 176.5h0M222.7 176.5h0M224.7 176.5h0M210.7 178.5h0M214.7 178.5h0M218.7 178.5h0M206.7 180.5h0M216.7 180.5h0M218.7 180.5h0M220.7 180.5h0M202.7 182.5h0M210.7 182.5h0M212.7 182.5h0M214.7 182.5h0M200.7 184.5h0M204.7 184.5h0M208.7 184.5h0M214.7 184.5h0M200.7 186.5h0M202.7 186.5h0M206.7 186.5h0M210.7 186.5h0M212.7 186.5h0M214.7 186.5h0M204.7 188.5h0M212.7 188.5h0M245.7 163.5h0M233.7 182.5h0M199.7 192.5h0M199.7 194.5h0M238.7 191.5h0M232.7 193.5h0M238.7 193.5h0M218.7 195.5h0M220.7 195.5h0M224.7 195.5h0M214.7 197.5h0M220.7 197.5h0M224.7 197.5h0M226.7 197.5h0M234.7 197.5h0M218.7 199.5h0M226.7 199.5h0M228.7 199.5h0M232.7 199.5h0M234.7 199.5h0M218.7 201.5h0M220.7 201.5h0M222.7 201.5h0M224.7 201.5h0M230.7 201.5h0M234.7 201.5h0M236.7 201.5h0M220.7 203.5h0M222.7 203.5h0M232.7 203.5h0M236.7 203.5h0M226.7 205.5h0M232.7 205.5h0M234.7 205.5h0M241.7 206.5h0M228.7 207.5h0M230.7 207.5h0" stroke="#377fbc" stroke-width="2.5" stroke-linecap="round" fill="none" opacity="0.93"/>
<path d="M220.7 100.5h0M218.7 114.5h0M224.7 114.5h0M218.7 116.5h0M222.7 116.5h0M216.7 122.5h0M218.7 122.5h0M216.7 126.5h0M218.7 126.5h0M226.7 126.5h0M228.7 126.5h0M214.7 128.5h0M218.7 128.5h0M214.7 132.5h0M220.7 132.5h0M212.7 134.5h0M214.7 134.5h0M216.7 134.5h0M228.7 134.5h0M212.7 138.5h0M214.7 138.5h0M220.7 138.5h0M212.7 140.5h0M214.7 140.5h0M210.7 142.5h0M212.7 142.5h0M214.7 142.5h0M212.7 144.5h0M216.7 144.5h0M212.7 146.5h0M216.7 146.5h0M220.7 146.5h0M210.7 148.5h0M214.7 148.5h0M216.7 148.5h0M222.7 148.5h0M212.7 150.5h0M218.7 150.5h0M208.7 152.5h0M212.7 152.5h0M218.7 152.5h0M210.7 154.5h0M212.7 154.5h0M214.7 156.5h0M206.7 158.5h0M226.7 160.5h0M208.7 162.5h0M220.7 162.5h0M226.7 162.5h0M228.7 162.5h0M206.7 164.5h0M208.7 164.5h0M216.7 164.5h0M220.7 164.5h0M224.7 164.5h0M204.7 166.5h0M208.7 166.5h0M210.7 166.5h0M220.7 166.5h0M206.7 168.5h0M208.7 168.5h0M226.7 168.5h0M204.7 170.5h0M206.7 172.5h0M210.7 172.5h0M204.7 174.5h0M208.7 174.5h0M202.7 176.5h0M204.7 176.5h0M208.7 176.5h0M210.7 176.5h0M214.7 176.5h0M218.7 176.5h0M202.7 178.5h0M204.7 178.5h0M206.7 178.5h0M208.7 178.5h0M212.7 178.5h0M216.7 178.5h0M220.7 178.5h0M208.7 180.5h0M210.7 180.5h0M214.7 180.5h0M204.7 182.5h0M206.7 182.5h0M202.7 184.5h0M206.7 184.5h0M210.7 184.5h0M212.7 184.5h0M208.7 186.5h0M202.7 188.5h0M206.7 188.5h0M208.7 188.5h0M210.7 188.5h0M228.7 195.5h0M236.7 197.5h0M216.7 199.5h0M220.7 199.5h0M222.7 199.5h0M230.7 199.5h0M236.7 199.5h0M234.7 203.5h0M226.7 207.5h0" stroke="#286cad" stroke-width="2.5" stroke-linecap="round" fill="none" opacity="0.93"/>
<path d="M220.7 136.5h0M208.7 150.5h0M216.7 156.5h0M210.7 158.5h0M206.7 160.5h0M204.7 168.5h0M206.7 170.5h0M204.7 186.5h0M200.7 188.5h0" stroke="#215897" stroke-width="2.5" stroke-linecap="round" fill="none" opacity="0.93"/>
<path d="M282.5 42.9L283.6 43.4L283.1 44.0L285.3 43.7L284.1 41.8L283.9 42.5L282.9 42.1Z" fill="#4a0c6b"/>
<path d="M274.7 47.0L276.6 46.9L276.4 47.6L279.1 46.3L276.3 45.2L276.6 46.0L274.7 46.0ZM274.7 51.0L276.7 50.9L276.5 51.6L279.1 50.3L276.4 49.2L276.6 49.9L274.7 50.0ZM266.4 108.9L267.9 110.1L267.3 110.5L270.2 111.3L268.8 108.7L268.5 109.4L267.0 108.1ZM262.3 124.8L263.6 126.4L262.9 126.7L265.5 128.1L264.8 125.3L264.3 125.9L263.1 124.2ZM258.3 140.8L259.1 142.0L258.4 142.3L260.7 143.7L260.4 141.0L259.9 141.5L259.1 140.2Z" fill="#781c6d"/>
<path d="M278.7 51.0L280.9 51.1L280.7 51.9L283.5 50.9L280.9 49.5L281.0 50.2L278.7 50.0ZM242.5 56.9L245.1 58.1L244.6 58.7L247.6 58.7L245.6 56.5L245.5 57.3L242.9 56.1ZM274.8 61.0L277.9 60.4L277.8 61.1L280.3 59.5L277.4 58.8L277.7 59.4L274.6 60.0ZM278.7 61.0L280.8 61.0L280.6 61.8L283.3 60.7L280.7 59.4L280.8 60.1L278.7 60.0ZM258.7 65.0L261.8 65.0L261.6 65.7L264.3 64.5L261.6 63.3L261.8 64.0L258.7 64.0ZM262.6 69.0L265.8 69.4L265.5 70.1L268.3 69.2L265.8 67.7L265.9 68.4L262.8 68.0ZM262.7 73.0L265.7 73.0L265.5 73.7L268.2 72.5L265.5 71.3L265.7 72.0L262.7 72.0ZM274.7 77.0L277.1 77.1L276.9 77.8L279.7 76.7L277.0 75.4L277.2 76.1L274.7 76.0ZM270.6 85.0L273.5 85.5L273.1 86.2L276.0 85.6L273.6 83.9L273.7 84.6L270.8 84.0ZM246.5 96.9L249.3 98.4L248.8 98.9L251.7 99.1L249.9 96.8L249.7 97.5L246.9 96.1ZM266.4 104.9L268.8 106.6L268.2 107.0L271.1 107.6L269.6 105.1L269.3 105.8L267.0 104.1ZM242.4 108.9L244.8 110.8L244.2 111.2L247.1 112.0L245.7 109.4L245.4 110.0L243.0 108.1ZM266.4 112.9L268.5 114.4L267.9 114.9L270.8 115.6L269.3 113.0L269.1 113.7L267.0 112.1ZM254.3 132.8L255.5 134.7L254.8 134.9L257.2 136.5L256.8 133.6L256.3 134.2L255.1 132.2ZM242.3 140.7L243.5 143.5L242.7 143.6L244.9 145.6L244.9 142.7L244.4 143.1L243.1 140.3ZM250.3 150.7L251.3 153.7L250.5 153.7L252.6 155.9L252.8 153.0L252.2 153.4L251.1 150.3ZM234.2 156.6L235.2 159.6L234.4 159.7L236.4 161.9L236.7 158.9L236.1 159.3L235.2 156.4ZM230.2 160.7L231.3 163.7L230.5 163.7L232.5 165.9L232.8 162.9L232.2 163.4L231.2 160.3ZM238.2 164.6L239.0 167.6L238.2 167.6L240.0 169.9L240.5 167.0L239.9 167.4L239.2 164.4ZM234.2 203.4L233.5 206.5L232.9 206.2L233.4 209.1L235.2 206.7L234.4 206.8L235.2 203.6Z" fill="#a52c60"/>
<path d="M254.6 47.0L258.6 47.5L258.3 48.2L261.1 47.4L258.6 45.9L258.7 46.6L254.8 46.0ZM234.4 50.9L237.8 53.5L237.2 54.0L240.1 54.6L238.7 52.0L238.4 52.7L235.0 50.1ZM254.6 53.0L258.9 53.6L258.6 54.3L261.5 53.6L259.0 52.0L259.1 52.7L254.8 52.0ZM274.6 53.0L278.8 53.5L278.5 54.2L281.3 53.4L278.8 51.8L278.9 52.6L274.8 52.0ZM278.6 53.0L282.6 53.5L282.3 54.2L285.2 53.4L282.7 51.8L282.8 52.6L278.8 52.0ZM254.7 57.0L259.0 57.1L258.8 57.8L261.5 56.6L258.9 55.4L259.0 56.1L254.7 56.0ZM258.7 57.0L262.8 57.4L262.5 58.1L265.3 57.2L262.8 55.7L262.9 56.5L258.7 56.0ZM266.7 57.0L270.7 56.8L270.5 57.6L273.2 56.2L270.4 55.2L270.7 55.9L266.7 56.0ZM274.6 57.0L278.5 57.4L278.2 58.1L281.0 57.2L278.4 55.7L278.6 56.4L274.8 56.0ZM278.7 57.0L282.5 56.9L282.3 57.6L285.0 56.3L282.2 55.2L282.5 55.9L278.7 56.0ZM246.6 61.0L249.9 62.0L249.5 62.6L252.5 62.2L250.2 60.3L250.2 61.1L246.8 60.0ZM254.7 61.0L259.0 61.2L258.7 61.9L261.5 60.8L258.8 59.5L259.0 60.2L254.7 60.0ZM258.7 61.0L262.7 60.8L262.5 61.6L265.1 60.3L262.4 59.2L262.6 59.9L258.7 60.0ZM262.7 61.0L266.8 61.3L266.6 62.0L269.3 61.0L266.7 59.6L266.9 60.3L262.7 60.0ZM250.6 65.0L254.5 65.9L254.1 66.5L257.0 66.0L254.6 64.2L254.7 65.0L250.8 64.0ZM262.6 65.0L265.9 65.8L265.6 66.4L268.5 65.9L266.1 64.1L266.2 64.8L262.8 64.0ZM266.6 65.0L270.8 65.7L270.5 66.4L273.4 65.7L270.9 64.1L271.0 64.8L266.8 64.0ZM270.7 65.0L275.0 64.8L274.8 65.5L277.5 64.2L274.7 63.1L275.0 63.8L270.7 64.0ZM250.6 69.0L254.0 69.8L253.7 70.5L256.6 69.9L254.2 68.1L254.3 68.9L250.8 68.0ZM258.7 69.0L262.4 69.3L262.1 70.0L264.9 69.1L262.4 67.6L262.5 68.4L258.7 68.0ZM266.6 69.0L270.8 69.5L270.5 70.2L273.4 69.4L270.8 67.8L271.0 68.6L266.8 68.0ZM270.7 69.0L274.0 69.3L273.8 70.0L276.6 69.0L274.0 67.6L274.1 68.3L270.7 68.0ZM274.6 69.0L278.6 70.1L278.2 70.7L281.2 70.3L278.9 68.4L278.9 69.2L274.8 68.0ZM250.6 73.0L254.0 73.6L253.7 74.3L256.5 73.6L254.1 71.9L254.2 72.7L250.8 72.0ZM254.7 73.0L258.8 73.2L258.6 73.9L261.3 72.8L258.7 71.5L258.9 72.2L254.7 72.0ZM266.6 73.0L270.2 74.1L269.8 74.7L272.8 74.4L270.5 72.4L270.5 73.2L266.8 72.0ZM270.6 73.0L274.5 73.8L274.2 74.5L277.1 73.9L274.7 72.1L274.7 72.9L270.8 72.0ZM246.6 77.0L250.0 78.1L249.6 78.7L252.5 78.4L250.3 76.4L250.3 77.2L246.8 76.0ZM250.6 77.0L254.7 77.5L254.5 78.2L257.3 77.3L254.8 75.8L254.9 76.6L250.8 76.0ZM254.6 77.0L258.5 77.9L258.1 78.6L261.0 78.1L258.7 76.2L258.7 77.0L254.8 76.0ZM258.7 77.0L263.0 77.4L262.7 78.1L265.5 77.2L262.9 75.7L263.1 76.4L258.7 76.0ZM262.6 77.0L266.9 77.4L266.6 78.1L269.4 77.2L266.9 75.7L267.0 76.5L262.8 76.0ZM266.6 77.0L270.5 77.7L270.1 78.4L273.0 77.7L270.6 76.0L270.7 76.8L266.8 76.0ZM246.6 81.0L250.2 81.9L249.8 82.6L252.7 82.1L250.4 80.2L250.4 81.0L246.8 80.0ZM250.6 81.0L254.8 81.8L254.5 82.5L257.4 81.8L255.0 80.1L255.0 80.9L250.8 80.0ZM254.5 80.9L258.2 82.3L257.8 82.9L260.7 82.7L258.6 80.6L258.6 81.4L254.9 80.1ZM266.6 81.0L270.8 82.2L270.3 82.9L273.3 82.5L271.1 80.6L271.0 81.3L266.8 80.0ZM270.6 81.0L274.2 81.8L273.9 82.5L276.8 81.9L274.4 80.2L274.5 80.9L270.8 80.0ZM242.5 84.9L246.3 86.9L245.8 87.4L248.7 87.6L246.9 85.3L246.7 86.1L242.9 84.1ZM246.6 85.0L250.8 85.5L250.5 86.2L253.3 85.4L250.8 83.8L250.9 84.6L246.8 84.0ZM254.5 84.9L258.2 87.0L257.7 87.5L260.6 87.7L258.8 85.4L258.7 86.1L254.9 84.1ZM242.5 88.9L246.2 90.9L245.7 91.4L248.6 91.6L246.8 89.3L246.6 90.0L242.9 88.1ZM250.6 89.0L253.9 89.8L253.5 90.4L256.4 89.9L254.1 88.1L254.1 88.9L250.8 88.0ZM254.5 88.9L258.3 90.7L257.9 91.2L260.8 91.2L258.8 89.0L258.7 89.8L254.9 88.1ZM262.6 89.0L266.4 89.9L266.0 90.6L268.9 90.1L266.6 88.2L266.6 89.0L262.8 88.0ZM242.5 92.9L246.3 95.0L245.7 95.5L248.7 95.8L246.9 93.4L246.7 94.2L242.9 92.1ZM246.5 92.9L249.7 94.6L249.2 95.1L252.1 95.3L250.3 93.0L250.1 93.7L246.9 92.1ZM254.5 92.9L258.2 94.5L257.8 95.1L260.7 95.1L258.7 92.9L258.6 93.7L254.9 92.1ZM258.5 92.9L262.0 94.5L261.6 95.1L264.5 95.1L262.5 92.9L262.4 93.7L258.9 92.1ZM250.5 96.9L254.2 98.5L253.7 99.1L256.7 99.0L254.7 96.8L254.6 97.6L250.9 96.1ZM254.5 96.9L257.5 98.6L256.9 99.1L259.9 99.3L258.1 97.0L257.9 97.7L254.9 96.1ZM266.5 96.9L270.3 98.8L269.8 99.3L272.7 99.5L270.8 97.2L270.7 97.9L266.9 96.1ZM242.5 100.9L246.2 103.0L245.7 103.5L248.6 103.8L246.8 101.5L246.6 102.2L242.9 100.1ZM246.5 100.9L250.6 102.4L250.2 103.0L253.2 102.8L251.0 100.7L251.0 101.5L246.9 100.1ZM254.5 100.9L257.9 103.0L257.3 103.5L260.2 103.8L258.6 101.4L258.3 102.1L254.9 100.1ZM258.5 100.9L262.3 102.7L261.8 103.3L264.7 103.4L262.8 101.1L262.7 101.9L258.9 100.1ZM262.5 100.9L265.8 102.7L265.3 103.3L268.2 103.5L266.4 101.2L266.2 101.9L262.9 100.1ZM266.4 100.9L269.5 103.5L268.9 103.9L271.8 104.7L270.5 102.1L270.1 102.8L267.0 100.1ZM242.4 104.9L245.6 107.1L245.0 107.6L247.9 108.2L246.4 105.6L246.2 106.4L243.0 104.1ZM246.4 104.9L249.6 106.9L249.1 107.4L252.0 107.8L250.4 105.4L250.1 106.1L247.0 104.1ZM254.5 104.9L257.8 106.8L257.2 107.3L260.2 107.6L258.4 105.2L258.2 105.9L254.9 104.1ZM258.5 104.9L262.0 106.9L261.5 107.4L264.4 107.7L262.7 105.3L262.5 106.1L258.9 104.1ZM262.4 104.9L265.4 107.3L264.8 107.8L267.7 108.6L266.3 105.9L266.0 106.6L263.0 104.1ZM238.4 108.9L241.6 111.5L241.0 111.9L243.9 112.7L242.5 110.0L242.2 110.7L239.0 108.1ZM246.4 108.8L249.5 111.9L248.8 112.3L251.6 113.3L250.5 110.5L250.1 111.2L247.0 108.2ZM254.4 108.9L257.5 111.2L256.9 111.6L259.8 112.3L258.3 109.7L258.1 110.4L255.0 108.1ZM258.4 108.9L261.6 111.6L261.0 112.0L263.8 112.8L262.5 110.2L262.2 110.9L259.0 108.1ZM262.4 108.9L265.6 111.2L265.0 111.7L267.9 112.2L266.4 109.7L266.2 110.4L263.0 108.1ZM238.5 112.9L241.6 114.3L241.1 114.9L244.0 114.9L242.1 112.7L242.0 113.5L238.9 112.1ZM246.4 112.8L249.0 115.6L248.3 116.0L251.0 117.2L250.1 114.4L249.7 115.0L247.0 112.2ZM258.4 112.9L261.3 115.2L260.7 115.7L263.5 116.5L262.2 113.8L261.9 114.5L259.0 112.1ZM262.3 112.8L265.0 115.9L264.3 116.2L266.9 117.5L266.1 114.7L265.7 115.3L263.1 112.2ZM230.3 116.8L232.8 120.3L232.1 120.5L234.6 122.1L234.0 119.2L233.6 119.7L231.1 116.2ZM238.4 116.8L240.7 119.4L240.0 119.7L242.8 120.9L241.8 118.1L241.4 118.7L239.0 116.2ZM242.4 116.8L245.4 119.8L244.8 120.2L247.5 121.2L246.4 118.4L246.1 119.1L243.0 116.2ZM246.4 116.8L248.7 119.3L248.0 119.7L250.7 120.8L249.8 118.0L249.4 118.7L247.0 116.2ZM254.3 116.8L256.5 120.1L255.8 120.3L258.3 121.9L257.8 119.0L257.3 119.6L255.1 116.2ZM258.4 116.9L261.4 119.1L260.8 119.6L263.6 120.3L262.2 117.7L261.9 118.4L259.0 116.1ZM258.3 120.8L260.3 123.5L259.6 123.8L262.2 125.2L261.5 122.3L261.1 122.9L259.1 120.2ZM234.3 124.8L236.5 127.6L235.8 127.9L238.4 129.3L237.7 126.4L237.2 127.0L235.1 124.2ZM246.3 124.8L248.6 127.3L247.9 127.7L250.6 128.9L249.7 126.1L249.3 126.7L247.1 124.2ZM258.4 124.8L260.6 127.2L259.9 127.6L262.6 128.7L261.7 125.9L261.3 126.6L259.0 124.2ZM238.3 128.8L240.6 131.5L239.9 131.8L242.5 133.2L241.7 130.3L241.3 130.9L239.1 128.2ZM242.3 128.7L244.0 131.7L243.3 131.9L245.7 133.6L245.4 130.6L244.8 131.2L243.1 128.3ZM254.4 128.8L257.1 131.8L256.5 132.1L259.2 133.3L258.2 130.5L257.8 131.1L255.0 128.2ZM230.3 132.8L232.4 136.0L231.6 136.2L234.1 137.9L233.7 135.0L233.2 135.5L231.1 132.2ZM234.3 132.8L236.4 135.7L235.7 136.0L238.2 137.5L237.7 134.6L237.2 135.2L235.1 132.2ZM226.3 136.7L228.1 140.2L227.4 140.3L229.7 142.2L229.5 139.2L229.0 139.7L227.1 136.3ZM230.3 136.8L232.7 140.1L232.0 140.4L234.6 141.9L234.0 139.0L233.5 139.6L231.1 136.2ZM234.3 136.7L236.0 139.7L235.3 139.8L237.7 141.6L237.3 138.6L236.8 139.2L235.1 136.3ZM242.3 136.8L244.5 139.7L243.8 140.0L246.3 141.4L245.7 138.5L245.2 139.1L243.1 136.2ZM246.3 136.7L248.0 139.7L247.3 139.9L249.7 141.6L249.4 138.7L248.9 139.2L247.1 136.3ZM250.3 136.7L252.0 139.7L251.3 139.9L253.7 141.6L253.4 138.6L252.8 139.2L251.1 136.3ZM254.3 136.7L256.0 140.1L255.3 140.2L257.6 142.1L257.4 139.1L256.9 139.6L255.1 136.3ZM258.3 136.7L259.8 140.7L259.1 140.7L261.2 142.8L261.3 139.9L260.7 140.3L259.1 136.3ZM222.2 140.6L223.4 144.4L222.7 144.4L224.6 146.6L225.0 143.7L224.3 144.1L223.2 140.4ZM230.3 140.7L232.2 144.5L231.5 144.7L233.8 146.5L233.6 143.6L233.1 144.1L231.1 140.3ZM234.3 140.7L235.6 143.7L234.9 143.8L237.1 145.8L237.1 142.8L236.5 143.3L235.1 140.3ZM250.3 140.7L252.0 144.0L251.3 144.1L253.6 145.9L253.4 143.0L252.9 143.5L251.1 140.3ZM254.3 140.8L256.6 144.3L255.8 144.5L258.3 146.1L257.9 143.2L257.4 143.8L255.1 140.2ZM226.3 148.7L227.9 152.0L227.2 152.1L229.5 154.0L229.3 151.0L228.8 151.5L227.1 148.3ZM230.3 148.7L231.8 152.1L231.1 152.3L233.3 154.2L233.3 151.3L232.7 151.8L231.1 148.3ZM234.3 148.7L235.9 151.9L235.2 152.1L237.5 154.0L237.3 151.0L236.8 151.5L235.1 148.3ZM238.3 148.7L240.0 152.5L239.2 152.6L241.4 154.6L241.4 151.7L240.8 152.1L239.1 148.3ZM250.3 148.7L251.6 152.3L250.8 152.4L252.9 154.5L253.1 151.6L252.5 152.0L251.1 148.3ZM254.2 148.6L255.3 151.8L254.5 151.8L256.5 154.0L256.8 151.1L256.2 151.5L255.2 148.4ZM226.3 150.7L227.4 153.7L226.6 153.8L228.7 155.9L228.9 153.0L228.3 153.4L227.1 150.3ZM230.3 150.7L231.9 153.8L231.1 154.0L233.4 155.9L233.3 152.9L232.7 153.4L231.1 150.3ZM234.3 150.7L235.9 154.3L235.1 154.4L237.3 156.3L237.3 153.4L236.7 153.9L235.1 150.3ZM238.2 150.6L239.5 154.7L238.7 154.7L240.7 156.9L241.0 154.0L240.4 154.4L239.2 150.4ZM254.2 150.6L255.4 154.8L254.7 154.8L256.6 157.0L257.0 154.1L256.4 154.5L255.2 150.4ZM226.2 154.7L227.3 157.9L226.6 157.9L228.6 160.1L228.9 157.1L228.2 157.6L227.2 154.3ZM230.3 154.7L231.9 157.6L231.2 157.8L233.5 159.6L233.3 156.6L232.7 157.2L231.1 154.3ZM214.3 156.7L216.1 160.5L215.4 160.6L217.7 162.5L217.5 159.5L217.0 160.0L215.1 156.3ZM222.3 156.7L223.7 160.8L223.0 160.8L225.0 163.0L225.3 160.0L224.6 160.5L223.1 156.3ZM226.2 156.6L227.5 160.5L226.8 160.5L228.7 162.7L229.0 159.8L228.4 160.2L227.2 156.4ZM230.2 156.6L231.0 159.9L230.2 159.9L232.0 162.3L232.6 159.4L231.9 159.7L231.2 156.4ZM218.2 158.6L219.4 162.5L218.6 162.5L220.5 164.8L220.9 161.8L220.3 162.2L219.2 158.4ZM230.3 158.7L231.7 162.5L231.0 162.6L233.0 164.6L233.2 161.7L232.6 162.1L231.1 158.3ZM234.3 158.7L235.6 162.2L234.8 162.2L236.9 164.3L237.1 161.4L236.5 161.8L235.1 158.3ZM238.2 158.6L239.1 162.3L238.3 162.2L240.1 164.6L240.7 161.7L240.0 162.0L239.2 158.4ZM226.2 160.6L227.1 163.9L226.4 163.9L228.2 166.1L228.7 163.2L228.0 163.6L227.2 160.4ZM234.2 160.6L235.1 164.4L234.4 164.4L236.2 166.7L236.7 163.8L236.1 164.2L235.2 160.4ZM238.3 160.7L239.6 164.1L238.8 164.2L240.9 166.3L241.1 163.3L240.5 163.8L239.1 160.3ZM230.2 162.6L231.3 166.7L230.6 166.7L232.4 169.0L232.9 166.1L232.2 166.5L231.2 162.4ZM234.2 162.6L235.1 166.6L234.3 166.5L236.1 168.9L236.7 166.0L236.0 166.4L235.2 162.4ZM238.2 162.6L239.2 166.4L238.5 166.4L240.3 168.7L240.8 165.8L240.2 166.2L239.2 162.4ZM222.2 164.6L222.9 167.8L222.1 167.7L223.8 170.2L224.5 167.3L223.8 167.6L223.2 164.4ZM230.2 164.5L230.5 168.0L229.8 167.9L231.2 170.4L232.2 167.6L231.5 167.9L231.2 164.5ZM234.2 164.6L235.1 168.2L234.3 168.2L236.1 170.5L236.7 167.6L236.0 168.0L235.2 164.4ZM222.2 168.5L222.5 172.5L221.7 172.4L223.1 175.0L224.1 172.2L223.4 172.5L223.2 168.5ZM226.2 168.5L226.5 172.8L225.7 172.7L227.1 175.3L228.1 172.5L227.4 172.8L227.2 168.5ZM230.2 168.6L231.0 172.2L230.3 172.1L232.0 174.5L232.6 171.6L231.9 172.0L231.2 168.4ZM234.2 168.6L234.8 172.4L234.1 172.4L235.7 174.8L236.4 172.0L235.8 172.3L235.2 168.4ZM238.2 168.6L238.8 172.3L238.1 172.2L239.7 174.7L240.4 171.8L239.7 172.1L239.2 168.4ZM218.2 172.6L218.7 176.2L217.9 176.1L219.4 178.7L220.3 175.8L219.6 176.1L219.2 172.4ZM226.2 172.6L226.7 176.5L226.0 176.4L227.5 179.0L228.4 176.1L227.7 176.4L227.2 172.4ZM206.2 174.5L206.6 178.6L205.8 178.4L207.3 181.0L208.2 178.2L207.5 178.5L207.2 174.5ZM226.2 174.4L225.6 178.2L225.0 177.9L225.7 180.8L227.3 178.3L226.6 178.4L227.2 174.6ZM230.2 174.5L230.2 178.8L229.4 178.6L230.6 181.3L231.8 178.6L231.1 178.8L231.2 174.5ZM214.2 182.6L214.8 186.4L214.1 186.3L215.7 188.8L216.5 186.0L215.8 186.3L215.2 182.4ZM241.2 145.6L242.4 149.4L241.7 149.4L243.6 151.6L244.0 148.7L243.3 149.1L242.2 145.4ZM242.3 143.8L244.1 146.7L243.4 146.9L245.8 148.5L245.4 145.6L244.9 146.2L243.1 143.2ZM238.2 191.5L238.1 195.5L237.4 195.2L238.5 198.0L239.8 195.3L239.1 195.5L239.2 191.5ZM242.2 191.4L241.6 194.8L240.9 194.5L241.6 197.4L243.3 194.9L242.5 195.0L243.2 191.6ZM230.2 193.4L229.3 197.4L228.7 197.1L229.2 200.0L231.0 197.6L230.3 197.6L231.2 193.6ZM242.2 193.5L242.0 197.9L241.3 197.6L242.4 200.4L243.7 197.7L243.0 197.9L243.2 193.5ZM222.2 195.4L221.6 199.6L220.9 199.3L221.7 202.1L223.3 199.6L222.6 199.7L223.2 195.6ZM230.2 195.4L229.1 199.6L228.5 199.2L229.0 202.1L230.8 199.8L230.1 199.8L231.2 195.6ZM226.2 199.4L225.3 203.1L224.6 202.7L225.1 205.6L226.9 203.3L226.2 203.3L227.2 199.6ZM222.2 201.5L221.9 205.5L221.2 205.2L222.2 208.0L223.6 205.4L222.8 205.6L223.2 201.5ZM234.3 201.3L232.9 204.9L232.3 204.5L232.5 207.4L234.5 205.3L233.8 205.3L235.1 201.7ZM222.2 203.4L221.8 207.8L221.1 207.5L222.0 210.3L223.4 207.8L222.7 207.9L223.2 203.6ZM226.3 203.3L225.0 206.9L224.4 206.4L224.6 209.4L226.7 207.2L225.9 207.2L227.1 203.7ZM230.2 203.4L229.2 207.7L228.6 207.3L229.1 210.2L230.9 207.9L230.1 207.9L231.2 203.6ZM241.2 206.4L240.2 210.5L239.5 210.1L240.0 213.0L241.9 210.7L241.1 210.7L242.2 206.6Z" fill="#cf4446"/>
<path d="M234.4 42.8L238.1 46.7L237.5 47.1L240.2 48.2L239.2 45.4L238.8 46.0L235.0 42.2ZM246.5 42.9L250.9 45.3L250.4 45.8L253.3 46.0L251.5 43.7L251.3 44.4L246.9 42.1ZM250.5 42.9L254.7 44.8L254.2 45.4L257.1 45.4L255.2 43.2L255.0 43.9L250.9 42.1ZM254.7 43.0L259.1 43.4L258.8 44.1L261.6 43.2L259.1 41.7L259.2 42.5L254.7 42.0ZM250.6 47.0L255.2 48.3L254.8 48.9L257.7 48.5L255.5 46.6L255.5 47.4L250.8 46.0ZM242.5 50.9L247.5 53.2L247.0 53.7L250.0 53.7L248.0 51.5L247.9 52.3L242.9 50.1ZM250.7 51.0L255.6 51.4L255.3 52.1L258.1 51.2L255.5 49.7L255.6 50.5L250.7 50.0ZM234.4 52.8L237.8 56.2L237.2 56.6L240.0 57.6L238.9 54.9L238.5 55.5L235.0 52.2ZM238.4 52.9L242.6 56.1L242.0 56.6L244.9 57.2L243.5 54.7L243.2 55.3L239.0 52.1ZM246.5 52.9L251.1 55.6L250.5 56.2L253.5 56.5L251.8 54.1L251.6 54.8L246.9 52.1ZM250.6 53.0L255.1 53.8L254.8 54.5L257.6 53.8L255.2 52.1L255.3 52.8L250.8 52.0ZM258.6 53.0L263.7 53.8L263.4 54.5L266.3 53.7L263.8 52.1L263.9 52.8L258.8 52.0ZM246.6 57.0L251.9 58.3L251.5 58.9L254.4 58.4L252.1 56.6L252.1 57.3L246.8 56.0ZM250.6 57.0L255.8 57.7L255.5 58.4L258.4 57.5L255.8 56.0L255.9 56.7L250.8 56.0ZM242.5 60.9L247.4 63.4L246.9 63.9L249.8 64.1L248.0 61.8L247.8 62.5L242.9 60.1ZM250.6 61.0L255.3 61.7L255.0 62.4L257.8 61.6L255.3 60.0L255.4 60.8L250.8 60.0ZM270.6 61.0L275.7 61.5L275.4 62.2L278.2 61.3L275.7 59.8L275.8 60.6L270.8 60.0ZM238.5 64.9L243.1 66.9L242.6 67.5L245.5 67.5L243.6 65.3L243.4 66.1L238.9 64.1ZM254.6 65.0L259.0 65.7L258.7 66.4L261.6 65.7L259.1 64.1L259.2 64.8L254.8 64.0ZM274.6 65.0L279.2 65.7L278.9 66.4L281.7 65.6L279.2 64.0L279.3 64.7L274.8 64.0ZM246.5 68.9L251.0 70.6L250.5 71.3L253.5 71.1L251.4 69.0L251.3 69.8L246.9 68.1ZM254.7 69.0L259.2 69.2L258.9 70.0L261.7 68.9L259.1 67.6L259.2 68.3L254.7 68.0ZM234.5 72.9L238.8 75.2L238.3 75.8L241.2 76.0L239.4 73.7L239.3 74.4L234.9 72.1ZM238.5 72.9L243.5 74.6L243.0 75.3L246.0 75.0L243.8 73.0L243.8 73.7L238.9 72.1ZM246.6 73.0L251.5 74.0L251.2 74.6L254.1 74.0L251.7 72.3L251.7 73.0L246.8 72.0ZM258.6 73.0L263.1 73.8L262.8 74.5L265.6 73.8L263.2 72.1L263.3 72.9L258.8 72.0ZM274.7 73.0L279.4 73.0L279.2 73.7L281.9 72.5L279.2 71.3L279.4 72.1L274.7 72.0ZM242.6 77.0L247.5 78.4L247.1 79.0L250.0 78.6L247.7 76.7L247.7 77.4L242.8 76.0ZM270.6 77.0L275.1 78.0L274.8 78.7L277.7 78.2L275.3 76.4L275.3 77.1L270.8 76.0ZM238.5 80.9L243.2 83.4L242.7 84.0L245.7 84.1L243.8 81.8L243.7 82.6L238.9 80.1ZM242.6 81.0L247.2 82.1L246.8 82.8L249.7 82.3L247.4 80.5L247.4 81.2L242.8 80.0ZM258.5 80.9L262.8 82.7L262.3 83.3L265.2 83.2L263.2 81.1L263.1 81.8L258.9 80.1ZM250.6 85.0L255.2 86.4L254.8 87.1L257.7 86.7L255.5 84.8L255.5 85.5L250.8 84.0ZM258.5 84.9L262.8 86.8L262.4 87.4L265.3 87.3L263.3 85.2L263.2 85.9L258.9 84.1ZM262.6 85.0L266.9 86.3L266.5 87.0L269.4 86.6L267.2 84.7L267.2 85.4L262.8 84.0ZM266.5 85.0L271.2 86.5L270.8 87.1L273.7 86.9L271.6 84.9L271.5 85.6L266.9 84.0ZM238.4 88.9L242.5 91.6L241.9 92.1L244.9 92.5L243.3 90.1L243.0 90.8L239.0 88.1ZM246.6 89.0L251.1 90.2L250.7 90.8L253.6 90.4L251.3 88.5L251.3 89.3L246.8 88.0ZM258.6 89.0L263.3 89.7L263.0 90.4L265.9 89.6L263.4 88.0L263.5 88.7L258.8 88.0ZM266.5 88.9L271.4 90.7L271.0 91.3L273.9 91.1L271.8 89.0L271.7 89.8L266.9 88.1ZM270.5 88.9L274.9 90.5L274.4 91.1L277.4 90.9L275.3 88.9L275.2 89.6L270.9 88.1ZM234.4 92.9L238.6 95.9L238.0 96.3L240.9 96.9L239.4 94.4L239.2 95.1L235.0 92.1ZM250.5 92.9L254.5 94.8L254.0 95.4L257.0 95.5L255.0 93.2L254.9 94.0L250.9 92.1ZM262.5 92.9L266.7 94.7L266.3 95.3L269.2 95.2L267.2 93.1L267.1 93.8L262.9 92.1ZM234.4 96.9L238.9 100.0L238.4 100.5L241.3 101.0L239.7 98.5L239.5 99.2L235.0 96.1ZM238.5 96.9L243.2 99.7L242.6 100.2L245.5 100.5L243.8 98.1L243.6 98.8L238.9 96.1ZM242.4 96.9L246.7 99.6L246.2 100.1L249.1 100.5L247.4 98.0L247.2 98.8L243.0 96.1ZM238.5 100.9L242.9 103.6L242.3 104.1L245.2 104.5L243.6 102.1L243.3 102.8L238.9 100.1ZM250.5 100.9L254.7 103.1L254.2 103.7L257.1 103.9L255.3 101.6L255.1 102.3L250.9 100.1ZM238.4 104.9L242.1 108.0L241.5 108.4L244.4 109.2L243.1 106.6L242.7 107.3L239.0 104.1ZM250.4 104.9L254.3 107.6L253.8 108.1L256.7 108.7L255.1 106.1L254.9 106.8L251.0 104.1ZM226.3 108.8L229.6 112.5L229.0 112.9L231.7 114.1L230.8 111.3L230.3 111.9L227.1 108.2ZM234.3 108.8L237.2 112.4L236.5 112.7L239.1 114.1L238.4 111.2L237.9 111.8L235.1 108.2ZM226.3 112.8L229.5 116.7L228.9 117.0L231.5 118.3L230.7 115.5L230.3 116.1L227.1 112.2ZM234.3 112.8L237.4 116.4L236.8 116.7L239.4 118.0L238.6 115.1L238.2 115.8L235.1 112.2ZM242.4 112.8L245.9 116.1L245.2 116.5L248.0 117.5L246.9 114.8L246.5 115.5L243.0 112.2ZM222.3 116.7L224.6 120.7L223.8 120.9L226.2 122.6L225.9 119.7L225.4 120.2L223.1 116.3ZM234.3 116.8L237.8 120.6L237.1 120.9L239.8 122.1L238.9 119.3L238.5 119.9L235.1 116.2ZM230.3 120.8L233.4 125.0L232.7 125.3L235.3 126.7L234.7 123.8L234.2 124.4L231.1 120.2ZM234.3 120.8L236.9 124.4L236.2 124.6L238.8 126.1L238.2 123.2L237.7 123.8L235.1 120.2ZM246.4 120.8L249.5 124.1L248.9 124.4L251.6 125.5L250.6 122.7L250.2 123.4L247.0 120.2ZM250.3 120.8L253.2 124.4L252.5 124.7L255.2 126.0L254.4 123.2L254.0 123.8L251.1 120.2ZM226.3 124.8L229.0 128.7L228.3 129.0L230.8 130.5L230.3 127.6L229.8 128.2L227.1 124.2ZM218.3 128.7L220.7 133.6L220.0 133.7L222.3 135.6L222.1 132.6L221.6 133.1L219.1 128.3ZM226.3 128.7L228.8 132.9L228.1 133.1L230.5 134.8L230.1 131.9L229.6 132.5L227.1 128.3ZM230.3 128.7L231.9 133.1L231.1 133.1L233.2 135.2L233.4 132.3L232.8 132.7L231.1 128.3ZM234.3 128.8L237.1 132.3L236.4 132.6L239.0 133.9L238.3 131.1L237.8 131.7L235.1 128.2ZM218.3 132.7L220.2 137.1L219.4 137.2L221.6 139.2L221.6 136.3L221.0 136.7L219.1 132.3ZM226.3 132.7L229.0 137.6L228.2 137.8L230.6 139.5L230.3 136.6L229.8 137.1L227.1 132.3ZM222.3 136.7L224.2 141.1L223.4 141.2L225.6 143.2L225.6 140.3L225.1 140.7L223.1 136.3ZM214.3 140.7L216.2 145.2L215.5 145.3L217.7 147.3L217.7 144.3L217.1 144.8L215.1 140.3ZM218.3 140.7L220.1 145.5L219.4 145.6L221.5 147.7L221.6 144.7L221.0 145.2L219.1 140.3ZM226.3 140.7L228.9 145.5L228.1 145.7L230.5 147.5L230.2 144.6L229.7 145.1L227.1 140.3ZM246.3 140.7L248.5 144.7L247.8 144.9L250.1 146.7L249.9 143.7L249.3 144.3L247.1 140.3ZM214.3 148.7L216.2 153.3L215.4 153.4L217.6 155.4L217.6 152.4L217.1 152.9L215.1 148.3ZM218.3 148.7L220.6 153.3L219.9 153.4L222.2 155.3L222.0 152.3L221.5 152.9L219.1 148.3ZM222.3 148.7L224.2 153.0L223.4 153.1L225.6 155.1L225.6 152.2L225.0 152.6L223.1 148.3ZM214.3 154.7L216.6 159.3L215.8 159.5L218.1 161.3L218.0 158.4L217.4 158.9L215.1 154.3ZM218.3 154.7L219.8 158.9L219.0 159.0L221.0 161.1L221.3 158.2L220.6 158.6L219.1 154.3ZM222.2 154.6L223.4 159.4L222.6 159.4L224.4 161.7L225.0 158.8L224.3 159.2L223.2 154.4ZM210.3 156.7L211.9 161.4L211.2 161.4L213.2 163.6L213.5 160.6L212.8 161.0L211.1 156.3ZM218.3 156.7L220.0 161.7L219.2 161.8L221.2 164.0L221.5 161.0L220.9 161.4L219.1 156.3ZM222.2 158.6L223.6 163.9L222.9 163.8L224.7 166.2L225.2 163.2L224.5 163.6L223.2 158.4ZM226.3 158.7L228.8 163.1L228.1 163.3L230.5 165.0L230.2 162.1L229.6 162.6L227.1 158.3ZM214.2 160.6L215.2 165.4L214.4 165.4L216.1 167.8L216.8 164.9L216.1 165.2L215.2 160.4ZM218.2 160.6L219.6 165.1L218.9 165.1L220.8 167.4L221.2 164.4L220.5 164.8L219.2 160.4ZM218.2 162.6L219.1 167.0L218.4 167.0L220.1 169.4L220.7 166.5L220.0 166.8L219.2 162.4ZM226.3 162.7L227.8 167.0L227.0 167.1L229.0 169.2L229.3 166.3L228.7 166.7L227.1 162.3ZM218.2 164.5L218.7 170.1L218.0 169.9L219.4 172.5L220.4 169.7L219.7 170.0L219.2 164.5ZM226.2 164.6L227.0 168.9L226.2 168.9L227.8 171.3L228.6 168.5L227.9 168.8L227.2 164.4ZM210.2 168.6L211.2 173.7L210.4 173.6L212.1 176.1L212.8 173.2L212.1 173.5L211.2 168.4ZM218.2 168.6L219.1 173.0L218.4 172.9L220.1 175.3L220.7 172.4L220.1 172.8L219.2 168.4ZM206.2 172.5L206.4 177.7L205.7 177.5L207.0 180.1L208.1 177.4L207.4 177.6L207.2 172.5ZM210.2 172.6L211.0 177.9L210.2 177.8L211.8 180.3L212.6 177.5L211.9 177.8L211.2 172.4ZM214.2 172.6L215.2 177.4L214.5 177.4L216.2 179.8L216.8 176.9L216.2 177.2L215.2 172.4ZM222.2 172.6L223.5 177.5L222.8 177.5L224.6 179.8L225.1 176.9L224.4 177.2L223.2 172.4ZM230.2 172.6L231.0 177.4L230.3 177.3L231.9 179.8L232.6 176.9L231.9 177.2L231.2 172.4ZM210.2 174.5L210.4 179.2L209.6 179.0L210.9 181.7L212.0 178.9L211.3 179.2L211.2 174.5ZM214.2 174.5L214.4 179.6L213.7 179.4L215.0 182.0L216.1 179.3L215.4 179.5L215.2 174.5ZM218.2 174.5L218.1 179.5L217.3 179.3L218.4 182.0L219.7 179.4L219.0 179.5L219.2 174.5ZM222.2 174.6L222.8 179.6L222.0 179.5L223.5 182.1L224.4 179.3L223.7 179.5L223.2 174.4ZM206.2 178.5L206.1 183.2L205.4 183.0L206.6 185.7L207.8 183.0L207.1 183.2L207.2 178.5ZM214.2 178.5L214.3 183.2L213.5 183.0L214.8 185.7L215.9 183.0L215.2 183.2L215.2 178.5ZM218.2 178.4L217.5 183.8L216.8 183.5L217.6 186.4L219.2 183.9L218.4 184.0L219.2 178.6ZM206.2 182.5L205.8 187.5L205.1 187.2L206.1 190.0L207.5 187.4L206.8 187.5L207.2 182.5ZM233.2 182.5L233.4 186.9L232.6 186.7L233.9 189.4L235.0 186.7L234.3 186.9L234.2 182.5ZM234.2 193.4L233.5 197.9L232.8 197.6L233.6 200.4L235.2 198.0L234.4 198.0L235.2 193.6ZM238.2 193.5L238.2 198.1L237.4 197.9L238.6 200.6L239.8 198.0L239.1 198.1L239.2 193.5ZM218.2 195.5L218.8 200.6L218.0 200.5L219.5 203.0L220.4 200.2L219.7 200.5L219.2 195.5ZM226.2 195.4L225.3 199.9L224.6 199.5L225.3 202.4L227.0 200.0L226.2 200.1L227.2 195.6ZM218.2 199.4L217.4 204.1L216.7 203.8L217.4 206.7L219.1 204.2L218.3 204.3L219.2 199.6ZM222.2 199.4L221.2 203.7L220.6 203.3L221.1 206.2L222.9 203.9L222.1 203.9L223.2 199.6ZM230.2 199.4L229.0 204.2L228.3 203.8L228.8 206.7L230.7 204.4L229.9 204.4L231.2 199.6ZM234.2 199.5L233.9 204.2L233.2 204.0L234.2 206.7L235.6 204.1L234.9 204.3L235.2 199.5ZM218.2 201.4L217.3 206.2L216.6 205.8L217.3 208.7L219.0 206.3L218.2 206.3L219.2 201.6ZM226.2 201.5L226.0 205.9L225.3 205.7L226.4 208.4L227.7 205.8L227.0 206.0L227.2 201.5ZM230.2 201.4L229.3 205.9L228.7 205.6L229.3 208.5L231.0 206.1L230.3 206.1L231.2 201.6Z" fill="#ed6925"/>
<path d="M238.4 42.9L243.2 46.0L242.6 46.5L245.6 46.9L243.9 44.5L243.7 45.2L239.0 42.1ZM242.4 42.9L247.6 46.1L247.1 46.6L250.0 47.1L248.3 44.6L248.1 45.3L243.0 42.1ZM234.3 46.8L238.5 52.0L237.8 52.3L240.4 53.6L239.7 50.8L239.2 51.4L235.1 46.2ZM246.5 46.9L252.3 49.6L251.8 50.2L254.8 50.2L252.8 48.0L252.7 48.8L246.9 46.1ZM258.6 47.0L264.1 47.9L263.8 48.6L266.7 47.8L264.2 46.2L264.3 46.9L258.8 46.0ZM246.5 50.9L252.4 53.2L251.9 53.8L254.9 53.6L252.8 51.5L252.7 52.3L246.9 50.1ZM242.5 52.9L248.3 55.9L247.8 56.5L250.8 56.7L248.9 54.4L248.8 55.1L242.9 52.1ZM238.4 60.9L243.7 65.0L243.1 65.4L245.9 66.1L244.5 63.5L244.2 64.2L239.0 60.1ZM234.4 64.9L239.4 68.4L238.9 68.9L241.8 69.4L240.2 66.9L240.0 67.6L235.0 64.1ZM242.5 65.0L248.8 67.1L248.4 67.7L251.3 67.4L249.2 65.4L249.1 66.2L242.9 64.0ZM246.6 65.0L253.0 66.1L252.7 66.8L255.5 66.1L253.1 64.4L253.1 65.2L246.8 64.0ZM238.4 68.9L243.4 72.0L242.9 72.5L245.8 72.9L244.1 70.5L243.9 71.2L239.0 68.1ZM242.5 68.9L247.7 71.9L247.2 72.4L250.1 72.7L248.3 70.3L248.2 71.0L242.9 68.1ZM230.4 72.9L235.6 76.6L235.0 77.1L237.9 77.7L236.4 75.1L236.2 75.8L231.0 72.1ZM242.5 72.9L247.8 75.0L247.3 75.6L250.3 75.5L248.2 73.4L248.1 74.2L242.9 72.1ZM234.4 76.9L238.7 80.3L238.1 80.8L241.0 81.5L239.6 78.9L239.3 79.6L235.0 76.1ZM238.5 76.9L244.3 80.0L243.8 80.5L246.7 80.7L244.9 78.4L244.7 79.1L238.9 76.1ZM230.4 80.9L235.4 85.2L234.7 85.6L237.6 86.5L236.3 83.8L236.0 84.5L231.0 80.1ZM238.4 84.9L242.9 88.6L242.3 89.0L245.2 89.8L243.8 87.2L243.5 87.9L239.0 84.1ZM234.4 88.8L238.5 92.7L237.9 93.1L240.7 94.0L239.5 91.3L239.2 92.0L235.0 88.2ZM238.4 92.9L243.3 96.1L242.8 96.6L245.7 97.1L244.1 94.6L243.9 95.3L239.0 92.1ZM230.3 100.8L233.7 106.1L233.0 106.3L235.5 107.9L235.0 105.0L234.5 105.6L231.1 100.2ZM234.3 100.8L238.0 105.2L237.3 105.5L240.0 106.8L239.2 104.0L238.7 104.6L235.1 100.2ZM230.3 104.8L234.7 109.8L234.0 110.1L236.7 111.3L235.8 108.5L235.4 109.1L231.1 104.2ZM234.4 104.8L238.7 109.0L238.0 109.4L240.8 110.4L239.7 107.6L239.3 108.3L235.0 104.2ZM230.3 108.8L234.0 113.1L233.3 113.5L236.0 114.7L235.2 111.9L234.7 112.5L231.1 108.2ZM222.3 112.8L226.1 117.9L225.4 118.1L228.0 119.6L227.3 116.7L226.9 117.3L223.1 112.2ZM230.4 112.8L234.5 116.9L233.9 117.2L236.6 118.3L235.5 115.5L235.2 116.2L231.0 112.2ZM222.4 120.8L226.5 124.8L225.8 125.1L228.6 126.1L227.5 123.4L227.1 124.1L223.0 120.2ZM218.3 124.8L221.6 129.9L220.9 130.1L223.3 131.8L222.9 128.9L222.4 129.4L219.1 124.2ZM222.3 124.8L225.9 130.2L225.2 130.4L227.7 132.0L227.2 129.1L226.7 129.7L223.1 124.2ZM230.3 124.7L233.0 129.7L232.2 129.9L234.6 131.7L234.4 128.7L233.8 129.2L231.1 124.3ZM222.3 132.7L225.6 138.4L224.9 138.6L227.3 140.3L226.9 137.4L226.4 137.9L223.1 132.3ZM218.3 136.8L221.7 141.7L221.0 141.9L223.6 143.4L223.0 140.5L222.5 141.1L219.1 136.2ZM214.2 150.6L215.5 156.4L214.8 156.4L216.5 158.8L217.1 155.9L216.4 156.2L215.2 150.4ZM218.3 150.7L220.4 155.9L219.6 156.0L221.8 158.1L221.9 155.1L221.3 155.6L219.1 150.3ZM222.3 150.7L224.9 156.1L224.1 156.3L226.4 158.2L226.3 155.2L225.7 155.7L223.1 150.3ZM210.2 158.6L211.3 165.1L210.5 165.0L212.1 167.5L212.9 164.6L212.2 164.9L211.2 158.4ZM214.2 158.6L215.2 164.1L214.5 164.1L216.2 166.5L216.9 163.6L216.2 163.9L215.2 158.4ZM210.2 160.5L210.7 166.4L210.0 166.2L211.4 168.8L212.4 166.0L211.7 166.3L211.2 160.5ZM222.2 160.6L223.4 166.0L222.7 166.0L224.5 168.4L225.0 165.5L224.4 165.8L223.2 160.4ZM210.2 162.6L211.1 168.7L210.3 168.6L211.9 171.1L212.7 168.3L212.0 168.6L211.2 162.4ZM214.2 162.6L215.9 168.5L215.1 168.5L217.0 170.8L217.4 167.8L216.8 168.2L215.2 162.4ZM222.2 162.6L223.5 168.1L222.7 168.1L224.5 170.4L225.1 167.5L224.4 167.9L223.2 162.4ZM210.2 164.6L211.0 170.7L210.3 170.6L211.9 173.1L212.7 170.2L212.0 170.5L211.2 164.4ZM214.2 164.6L216.1 170.1L215.3 170.1L217.3 172.3L217.6 169.4L217.0 169.8L215.2 164.4ZM214.2 168.6L215.4 175.1L214.7 175.0L216.3 177.4L217.0 174.6L216.3 174.9L215.2 168.4ZM206.2 186.5L205.8 192.9L205.1 192.7L206.1 195.4L207.5 192.8L206.7 193.0L207.2 186.5ZM210.2 186.5L209.9 192.1L209.1 191.9L210.2 194.6L211.5 192.0L210.8 192.2L211.2 186.5Z" fill="#fb9b06"/>
<path d="M238.4 46.8L243.7 52.1L243.1 52.5L245.8 53.5L244.7 50.8L244.4 51.4L239.0 46.2ZM242.4 46.9L248.2 50.9L247.6 51.4L250.5 51.9L249.0 49.4L248.8 50.1L243.0 46.1ZM238.5 50.9L244.7 54.4L244.2 55.0L247.1 55.2L245.4 52.9L245.2 53.6L238.9 50.1ZM234.5 56.9L241.2 60.9L240.7 61.4L243.6 61.8L241.9 59.3L241.7 60.1L234.9 56.1ZM238.4 56.8L243.8 62.1L243.2 62.5L245.9 63.5L244.8 60.7L244.5 61.4L239.0 56.2ZM234.4 60.9L240.4 64.9L239.8 65.4L242.7 65.9L241.2 63.4L240.9 64.2L235.0 60.1ZM234.4 68.9L240.1 73.2L239.5 73.6L242.4 74.3L241.0 71.7L240.7 72.4L235.0 68.1ZM234.4 80.9L240.4 85.3L239.8 85.8L242.7 86.4L241.2 83.8L240.9 84.5L235.0 80.1ZM230.4 84.8L235.5 89.5L234.9 89.9L237.7 90.9L236.5 88.2L236.1 88.8L231.0 84.2ZM234.4 84.9L240.4 89.5L239.8 90.0L242.7 90.7L241.3 88.1L241.0 88.8L235.0 84.1ZM230.4 88.8L235.9 94.2L235.2 94.6L238.0 95.6L236.9 92.9L236.5 93.6L231.0 88.2ZM226.3 92.8L231.5 98.5L230.9 98.9L233.6 100.1L232.6 97.3L232.2 97.9L227.1 92.2ZM230.4 92.9L235.7 96.9L235.1 97.4L238.0 98.1L236.6 95.5L236.3 96.2L231.0 92.1ZM230.4 96.8L234.9 101.8L234.2 102.1L237.0 103.3L236.0 100.5L235.6 101.2L231.0 96.2ZM226.4 100.8L231.0 105.8L230.3 106.2L233.0 107.4L232.1 104.6L231.7 105.2L227.0 100.2ZM222.3 108.8L226.8 114.7L226.1 115.0L228.6 116.5L228.0 113.6L227.5 114.2L223.1 108.2ZM226.3 116.8L230.7 122.1L230.0 122.4L232.7 123.7L231.9 120.8L231.4 121.5L227.1 116.2ZM226.3 120.8L230.8 127.1L230.1 127.3L232.6 128.8L232.0 126.0L231.6 126.5L227.1 120.2ZM222.3 128.7L226.0 135.5L225.2 135.6L227.6 137.4L227.3 134.5L226.8 135.0L223.1 128.3ZM210.2 178.5L210.9 185.4L210.2 185.3L211.7 187.8L212.6 185.0L211.9 185.3L211.2 178.5ZM210.2 182.5L210.1 189.4L209.4 189.2L210.5 191.9L211.8 189.2L211.1 189.4L211.2 182.5ZM202.2 186.5L202.4 193.7L201.7 193.6L202.9 196.2L204.1 193.5L203.3 193.7L203.2 186.5ZM214.2 186.4L213.0 194.0L212.4 193.6L213.1 196.5L214.7 194.0L214.0 194.1L215.2 186.6Z" fill="#f7d13d"/>
<path d="M230.4 76.8L236.5 82.7L235.9 83.1L238.7 84.1L237.5 81.3L237.2 82.0L231.0 76.2ZM226.4 96.9L232.8 102.2L232.2 102.7L235.1 103.5L233.7 100.8L233.4 101.5L227.0 96.1ZM226.3 104.8L231.0 111.5L230.2 111.7L232.8 113.2L232.2 110.3L231.7 110.9L227.1 104.2Z" fill="#fcffa4"/>
<path d="M241.7 25.9L243.4 25.8L243.3 26.5L245.9 25.1L243.1 24.1L243.4 24.8L241.7 24.9Z" fill="#a52c60"/>
<path d="M238.6 29.0L240.4 28.8L240.3 29.6L242.9 28.2L240.1 27.2L240.4 27.9L238.6 28.0Z" fill="#781c6d"/>
<path d="M240.1 31.2L242.1 33.5L241.4 33.8L244.1 35.1L243.3 32.3L242.8 32.9L240.9 30.6Z" fill="#4a0c6b"/>
<path d="M243.0 32.7L243.8 34.9L243.1 34.9L245.2 37.0L245.3 34.0L244.7 34.5L243.8 32.3Z" fill="#781c6d"/>
<path d="M239.8 36.9L243.1 41.3L242.4 41.6L245.0 43.0L244.3 40.1L243.9 40.7L240.6 36.3Z" fill="#781c6d"/>
<path d="M259.1 38.1L259.1 33.4L259.8 33.6L258.6 30.9L257.4 33.6L258.1 33.4L258.1 38.1Z" fill="#fb9b06"/>
<path d="M256.7 40.0L256.9 38.8L257.6 39.1L256.8 36.9L255.2 38.7L256.0 38.6L255.7 39.8Z" fill="#cf4446"/>
<path d="M272.2 46.4L273.9 45.0L274.2 45.7L275.5 43.0L272.7 43.8L273.3 44.2L271.6 45.6Z" fill="#a52c60"/>
<path d="M277.6 40.8L278.6 39.9L279.0 40.5L279.7 38.1L277.3 38.8L277.9 39.2L277.0 40.2Z" fill="#a52c60"/>
<path d="M283.1 47.4L283.6 46.2L284.2 46.6L283.9 44.2L282.0 45.7L282.7 45.8L282.3 47.0Z" fill="#cf4446"/>
<path d="M267.8 50.9L269.5 51.7L269.0 52.3L272.0 52.3L270.0 50.1L269.9 50.8L268.2 50.1Z" fill="#781c6d"/>
<path d="M274.2 49.4L275.8 48.9L275.8 49.6L278.0 47.6L275.1 47.4L275.5 48.0L273.8 48.6Z" fill="#a52c60"/>
<path d="M247.9 33.5L249.1 33.7L248.8 34.4L251.0 33.6L249.2 32.0L249.3 32.8L248.1 32.5Z" fill="#781c6d"/>
<path d="M252.0 45.0L253.6 45.1L253.3 45.8L256.0 44.8L253.5 43.4L253.6 44.1L252.0 44.0Z" fill="#cf4446"/>
<path d="M228.4 5.4 L230.0 7.8 L233.2 10.2 L235.2 11.4 L235.6 13.8 L238.0 15.0 L238.0 17.8 L238.8 21.8 L240.4 23.4 L244.0 23.4 L246.4 23.0 L250.0 23.6 L253.2 24.4 L256.4 27.2 L258.8 28.4 L262.0 29.0 L264.4 28.4 L266.0 30.4 L267.2 32.8 L269.2 32.4 L272.4 34.0 L275.6 36.0 L278.6 39.0 L280.6 41.8 L281.0 45.0 L282.2 47.4 L283.8 51.0 L285.6 54.8 L288.4 56.8 L287.2 59.6 L289.2 62.0 L291.6 64.8 L292.8 68.0 L295.4 70.0 L296.6 72.8 L295.4 74.4 L298.2 76.0 L299.4 79.2 L300.6 82.4 L301.4 84.8" fill="none" stroke="#0a0a0a" stroke-width="0.95" stroke-linejoin="round"/>
<path d="M282.6 47.4 H300.2" stroke="#666" stroke-width="0.5" stroke-dasharray="0.8 0.7"/>
<path d="M242.6 29.0 L246.5 29.3" stroke="#111" stroke-width="0.9" stroke-linecap="round"/>
<path d="M247.5 28.9 L251.2 28.6" stroke="#111" stroke-width="0.9" stroke-linecap="round"/>
<path d="M250.1 38.7 L252.3 39.6" stroke="#111" stroke-width="0.9" stroke-linecap="round"/>
<path d="M264.0 35.7 L267.0 37.5" stroke="#111" stroke-width="0.9" stroke-linecap="round"/>
<path d="M264.0 41.7 L266.4 43.5" stroke="#111" stroke-width="0.9" stroke-linecap="round"/>
<ellipse cx="269.7" cy="92.8" rx="0.9" ry="1.3" fill="#111"/>
</g>
<g clip-path="url(#cc)">
<path d="M349.40 5.4 V226.6" stroke="#bdbdbd" stroke-width="0.6"/>
<path d="M368.15 5.4 V226.6" stroke="#bdbdbd" stroke-width="0.6"/>
<path d="M386.90 5.4 V226.6" stroke="#bdbdbd" stroke-width="0.6"/>
<path d="M405.65 5.4 V226.6" stroke="#bdbdbd" stroke-width="0.6"/>
<path d="M424.40 5.4 V226.6" stroke="#bdbdbd" stroke-width="0.6"/>
<path d="M443.15 5.4 V226.6" stroke="#bdbdbd" stroke-width="0.6"/>
<path d="M340.4 16.40 H461.6" stroke="#bdbdbd" stroke-width="0.6"/>
<path d="M340.4 48.33 H461.6" stroke="#bdbdbd" stroke-width="0.6"/>
<path d="M340.4 80.26 H461.6" stroke="#bdbdbd" stroke-width="0.6"/>
<path d="M340.4 112.19 H461.6" stroke="#bdbdbd" stroke-width="0.6"/>
<path d="M340.4 144.12 H461.6" stroke="#bdbdbd" stroke-width="0.6"/>
<path d="M340.4 176.05 H461.6" stroke="#bdbdbd" stroke-width="0.6"/>
<path d="M340.4 207.98 H461.6" stroke="#bdbdbd" stroke-width="0.6"/>
<path d="M436.7 40.5h0M430.7 37.5h0" stroke="#bcd9eb" stroke-width="2.5" stroke-linecap="round" fill="none" opacity="0.93"/>
<path d="M438.7 40.5h0M440.7 40.5h0M436.7 42.5h0M438.7 42.5h0M440.7 42.5h0M436.7 44.5h0M438.7 44.5h0M440.7 44.5h0M442.7 44.5h0M436.7 46.5h0M438.7 46.5h0M440.7 46.5h0M432.7 48.5h0M436.7 48.5h0M438.7 48.5h0M432.7 41.5h0" stroke="#a4cde4" stroke-width="2.5" stroke-linecap="round" fill="none" opacity="0.93"/>
<path d="M442.7 42.5h0M432.7 46.5h0M434.7 46.5h0M434.7 48.5h0M440.7 48.5h0M432.7 50.5h0M434.7 50.5h0M436.7 50.5h0M440.7 50.5h0M422.7 51.5h0" stroke="#88bede" stroke-width="2.5" stroke-linecap="round" fill="none" opacity="0.93"/>
<path d="M400.7 24.5h0M398.7 26.5h0M400.7 26.5h0M402.7 26.5h0M400.7 28.5h0M402.7 28.5h0M400.7 30.5h0M402.7 32.5h0M396.7 36.5h0M402.7 36.5h0M400.7 38.5h0M404.7 38.5h0M400.7 40.5h0M412.7 44.5h0M438.7 50.5h0M432.7 52.5h0M434.7 52.5h0M436.7 52.5h0M438.7 52.5h0M440.7 52.5h0M432.7 54.5h0M434.7 54.5h0M438.7 54.5h0M440.7 54.5h0M426.7 56.5h0M432.7 56.5h0M434.7 56.5h0M428.7 58.5h0M432.7 58.5h0M412.7 27.5h0M414.7 27.5h0M420.7 38.5h0M424.7 51.5h0M426.7 51.5h0M428.7 51.5h0" stroke="#72afd6" stroke-width="2.5" stroke-linecap="round" fill="none" opacity="0.93"/>
<path d="M402.7 24.5h0M398.7 28.5h0M402.7 30.5h0M398.7 32.5h0M400.7 32.5h0M404.7 32.5h0M396.7 34.5h0M398.7 34.5h0M400.7 34.5h0M402.7 34.5h0M404.7 34.5h0M398.7 36.5h0M400.7 36.5h0M404.7 36.5h0M396.7 38.5h0M398.7 38.5h0M402.7 38.5h0M396.7 40.5h0M398.7 40.5h0M402.7 40.5h0M404.7 40.5h0M396.7 42.5h0M398.7 42.5h0M402.7 42.5h0M404.7 42.5h0M408.7 42.5h0M412.7 42.5h0M414.7 42.5h0M418.7 42.5h0M420.7 42.5h0M394.7 44.5h0M398.7 44.5h0M402.7 44.5h0M404.7 44.5h0M406.7 44.5h0M410.7 44.5h0M414.7 44.5h0M416.7 44.5h0M418.7 44.5h0M420.7 44.5h0M396.7 46.5h0M404.7 46.5h0M406.7 46.5h0M412.7 46.5h0M414.7 46.5h0M416.7 46.5h0M394.7 48.5h0M396.7 48.5h0M412.7 48.5h0M418.7 48.5h0M420.7 48.5h0M404.7 50.5h0M410.7 50.5h0M416.7 50.5h0M418.7 50.5h0M398.7 52.5h0M436.7 54.5h0M404.7 56.5h0M436.7 56.5h0M438.7 56.5h0M420.7 58.5h0M422.7 58.5h0M424.7 58.5h0M426.7 58.5h0M430.7 58.5h0M434.7 58.5h0M438.7 58.5h0M424.7 60.5h0M432.7 60.5h0M434.7 60.5h0M436.7 60.5h0M438.7 60.5h0M422.7 62.5h0M424.7 62.5h0M432.7 64.5h0M434.7 66.5h0M436.7 66.5h0M418.7 38.5h0M418.7 40.5h0M420.7 40.5h0M415.7 42.5h0M417.7 42.5h0M406.7 37.5h0M408.7 35.5h0M408.7 37.5h0M408.7 39.5h0M408.7 41.5h0" stroke="#5f9fcd" stroke-width="2.5" stroke-linecap="round" fill="none" opacity="0.93"/>
<path d="M398.7 30.5h0M394.7 42.5h0M400.7 42.5h0M406.7 42.5h0M410.7 42.5h0M416.7 42.5h0M396.7 44.5h0M400.7 44.5h0M408.7 44.5h0M394.7 46.5h0M398.7 46.5h0M400.7 46.5h0M402.7 46.5h0M408.7 46.5h0M410.7 46.5h0M418.7 46.5h0M420.7 46.5h0M398.7 48.5h0M400.7 48.5h0M402.7 48.5h0M404.7 48.5h0M406.7 48.5h0M408.7 48.5h0M410.7 48.5h0M414.7 48.5h0M416.7 48.5h0M392.7 50.5h0M394.7 50.5h0M396.7 50.5h0M398.7 50.5h0M400.7 50.5h0M402.7 50.5h0M406.7 50.5h0M408.7 50.5h0M412.7 50.5h0M414.7 50.5h0M420.7 50.5h0M392.7 52.5h0M394.7 52.5h0M396.7 52.5h0M400.7 52.5h0M402.7 52.5h0M406.7 52.5h0M408.7 52.5h0M410.7 52.5h0M412.7 52.5h0M414.7 52.5h0M416.7 52.5h0M418.7 52.5h0M420.7 52.5h0M404.7 54.5h0M406.7 54.5h0M408.7 54.5h0M410.7 54.5h0M412.7 54.5h0M414.7 54.5h0M420.7 54.5h0M394.7 56.5h0M406.7 56.5h0M412.7 56.5h0M406.7 58.5h0M410.7 58.5h0M412.7 58.5h0M418.7 58.5h0M392.7 60.5h0M406.7 60.5h0M412.7 60.5h0M418.7 60.5h0M420.7 60.5h0M422.7 60.5h0M430.7 60.5h0M390.7 62.5h0M414.7 62.5h0M416.7 62.5h0M420.7 62.5h0M430.7 62.5h0M432.7 62.5h0M434.7 62.5h0M436.7 62.5h0M438.7 62.5h0M396.7 64.5h0M412.7 64.5h0M420.7 64.5h0M422.7 64.5h0M424.7 64.5h0M426.7 64.5h0M428.7 64.5h0M430.7 64.5h0M436.7 64.5h0M418.7 66.5h0M422.7 66.5h0M424.7 66.5h0M426.7 66.5h0M428.7 66.5h0M432.7 66.5h0M416.7 68.5h0M420.7 68.5h0M424.7 68.5h0M426.7 68.5h0M428.7 68.5h0M430.7 68.5h0M432.7 68.5h0M434.7 68.5h0M436.7 68.5h0M412.7 70.5h0M418.7 70.5h0M422.7 70.5h0M426.7 70.5h0M434.7 70.5h0M402.7 72.5h0M428.7 72.5h0M394.7 74.5h0M400.7 74.5h0M418.7 74.5h0M426.7 108.5h0M410.7 39.5h0" stroke="#4d8dc3" stroke-width="2.5" stroke-linecap="round" fill="none" opacity="0.93"/>
<path d="M404.7 52.5h0M392.7 54.5h0M394.7 54.5h0M396.7 54.5h0M398.7 54.5h0M400.7 54.5h0M402.7 54.5h0M416.7 54.5h0M418.7 54.5h0M392.7 56.5h0M396.7 56.5h0M398.7 56.5h0M400.7 56.5h0M402.7 56.5h0M408.7 56.5h0M410.7 56.5h0M414.7 56.5h0M416.7 56.5h0M418.7 56.5h0M420.7 56.5h0M390.7 58.5h0M392.7 58.5h0M394.7 58.5h0M396.7 58.5h0M398.7 58.5h0M400.7 58.5h0M402.7 58.5h0M404.7 58.5h0M408.7 58.5h0M414.7 58.5h0M416.7 58.5h0M390.7 60.5h0M394.7 60.5h0M396.7 60.5h0M398.7 60.5h0M400.7 60.5h0M404.7 60.5h0M408.7 60.5h0M410.7 60.5h0M414.7 60.5h0M416.7 60.5h0M392.7 62.5h0M394.7 62.5h0M396.7 62.5h0M398.7 62.5h0M400.7 62.5h0M402.7 62.5h0M404.7 62.5h0M406.7 62.5h0M408.7 62.5h0M410.7 62.5h0M412.7 62.5h0M418.7 62.5h0M390.7 64.5h0M392.7 64.5h0M394.7 64.5h0M398.7 64.5h0M402.7 64.5h0M404.7 64.5h0M406.7 64.5h0M410.7 64.5h0M414.7 64.5h0M416.7 64.5h0M418.7 64.5h0M434.7 64.5h0M390.7 66.5h0M392.7 66.5h0M396.7 66.5h0M398.7 66.5h0M400.7 66.5h0M402.7 66.5h0M404.7 66.5h0M406.7 66.5h0M408.7 66.5h0M410.7 66.5h0M412.7 66.5h0M414.7 66.5h0M416.7 66.5h0M420.7 66.5h0M430.7 66.5h0M390.7 68.5h0M392.7 68.5h0M394.7 68.5h0M398.7 68.5h0M400.7 68.5h0M404.7 68.5h0M406.7 68.5h0M408.7 68.5h0M410.7 68.5h0M412.7 68.5h0M414.7 68.5h0M418.7 68.5h0M422.7 68.5h0M388.7 70.5h0M390.7 70.5h0M392.7 70.5h0M396.7 70.5h0M398.7 70.5h0M400.7 70.5h0M402.7 70.5h0M406.7 70.5h0M408.7 70.5h0M410.7 70.5h0M414.7 70.5h0M416.7 70.5h0M420.7 70.5h0M424.7 70.5h0M428.7 70.5h0M430.7 70.5h0M432.7 70.5h0M436.7 70.5h0M400.7 72.5h0M404.7 72.5h0M406.7 72.5h0M408.7 72.5h0M410.7 72.5h0M412.7 72.5h0M414.7 72.5h0M418.7 72.5h0M420.7 72.5h0M422.7 72.5h0M424.7 72.5h0M426.7 72.5h0M430.7 72.5h0M432.7 72.5h0M434.7 72.5h0M396.7 74.5h0M398.7 74.5h0M402.7 74.5h0M404.7 74.5h0M410.7 74.5h0M412.7 74.5h0M414.7 74.5h0M416.7 74.5h0M422.7 74.5h0M424.7 74.5h0M426.7 74.5h0M428.7 74.5h0M430.7 74.5h0M434.7 74.5h0M386.7 76.5h0M392.7 76.5h0M394.7 76.5h0M396.7 76.5h0M402.7 76.5h0M410.7 76.5h0M414.7 76.5h0M416.7 76.5h0M418.7 76.5h0M420.7 76.5h0M424.7 76.5h0M428.7 76.5h0M432.7 76.5h0M434.7 76.5h0M392.7 78.5h0M394.7 78.5h0M396.7 78.5h0M400.7 78.5h0M402.7 78.5h0M404.7 78.5h0M406.7 78.5h0M408.7 78.5h0M412.7 78.5h0M416.7 78.5h0M418.7 78.5h0M420.7 78.5h0M422.7 78.5h0M424.7 78.5h0M428.7 78.5h0M430.7 78.5h0M432.7 78.5h0M434.7 78.5h0M394.7 80.5h0M396.7 80.5h0M398.7 80.5h0M400.7 80.5h0M406.7 80.5h0M410.7 80.5h0M412.7 80.5h0M414.7 80.5h0M416.7 80.5h0M420.7 80.5h0M424.7 80.5h0M426.7 80.5h0M428.7 80.5h0M432.7 80.5h0M390.7 82.5h0M392.7 82.5h0M400.7 82.5h0M402.7 82.5h0M408.7 82.5h0M412.7 82.5h0M414.7 82.5h0M416.7 82.5h0M420.7 82.5h0M426.7 82.5h0M430.7 82.5h0M432.7 82.5h0M384.7 84.5h0M394.7 84.5h0M398.7 84.5h0M400.7 84.5h0M402.7 84.5h0M408.7 84.5h0M410.7 84.5h0M416.7 84.5h0M418.7 84.5h0M420.7 84.5h0M422.7 84.5h0M424.7 84.5h0M426.7 84.5h0M428.7 84.5h0M430.7 84.5h0M404.7 86.5h0M406.7 86.5h0M410.7 86.5h0M412.7 86.5h0M414.7 86.5h0M416.7 86.5h0M418.7 86.5h0M420.7 86.5h0M422.7 86.5h0M424.7 86.5h0M428.7 86.5h0M432.7 86.5h0M384.7 88.5h0M386.7 88.5h0M402.7 88.5h0M404.7 88.5h0M410.7 88.5h0M420.7 88.5h0M424.7 88.5h0M426.7 88.5h0M430.7 88.5h0M400.7 90.5h0M406.7 90.5h0M410.7 90.5h0M412.7 90.5h0M416.7 90.5h0M418.7 90.5h0M424.7 90.5h0M390.7 92.5h0M394.7 92.5h0M398.7 92.5h0M400.7 92.5h0M408.7 92.5h0M412.7 92.5h0M416.7 92.5h0M418.7 92.5h0M422.7 92.5h0M396.7 94.5h0M406.7 94.5h0M408.7 94.5h0M416.7 94.5h0M424.7 94.5h0M404.7 96.5h0M406.7 96.5h0M412.7 96.5h0M426.7 96.5h0M390.7 98.5h0M426.7 98.5h0M394.7 100.5h0M418.7 100.5h0M420.7 100.5h0M420.7 102.5h0M424.7 102.5h0M390.7 104.5h0M408.7 104.5h0M424.7 104.5h0M388.7 106.5h0M402.7 106.5h0M412.7 106.5h0M414.7 106.5h0M418.7 106.5h0M424.7 106.5h0M400.7 108.5h0M418.7 108.5h0M386.7 116.5h0M390.7 116.5h0M386.7 118.5h0M388.7 118.5h0M392.7 122.5h0M420.7 122.5h0M380.7 124.5h0M394.7 124.5h0M418.7 124.5h0M418.7 126.5h0M422.7 126.5h0M412.7 130.5h0M396.7 146.5h0M394.7 150.5h0M394.7 166.5h0M370.7 178.5h0" stroke="#407cb6" stroke-width="2.5" stroke-linecap="round" fill="none" opacity="0.93"/>
<path d="M402.7 60.5h0M400.7 64.5h0M408.7 64.5h0M394.7 66.5h0M388.7 68.5h0M396.7 68.5h0M402.7 68.5h0M394.7 70.5h0M404.7 70.5h0M388.7 72.5h0M390.7 72.5h0M392.7 72.5h0M394.7 72.5h0M396.7 72.5h0M398.7 72.5h0M416.7 72.5h0M388.7 74.5h0M390.7 74.5h0M392.7 74.5h0M406.7 74.5h0M408.7 74.5h0M420.7 74.5h0M432.7 74.5h0M388.7 76.5h0M390.7 76.5h0M398.7 76.5h0M400.7 76.5h0M406.7 76.5h0M408.7 76.5h0M412.7 76.5h0M422.7 76.5h0M426.7 76.5h0M430.7 76.5h0M386.7 78.5h0M388.7 78.5h0M390.7 78.5h0M398.7 78.5h0M410.7 78.5h0M414.7 78.5h0M426.7 78.5h0M386.7 80.5h0M388.7 80.5h0M390.7 80.5h0M392.7 80.5h0M402.7 80.5h0M404.7 80.5h0M408.7 80.5h0M418.7 80.5h0M430.7 80.5h0M386.7 82.5h0M388.7 82.5h0M394.7 82.5h0M396.7 82.5h0M398.7 82.5h0M404.7 82.5h0M406.7 82.5h0M410.7 82.5h0M418.7 82.5h0M424.7 82.5h0M428.7 82.5h0M386.7 84.5h0M388.7 84.5h0M390.7 84.5h0M392.7 84.5h0M396.7 84.5h0M404.7 84.5h0M406.7 84.5h0M412.7 84.5h0M414.7 84.5h0M432.7 84.5h0M384.7 86.5h0M388.7 86.5h0M390.7 86.5h0M392.7 86.5h0M394.7 86.5h0M396.7 86.5h0M398.7 86.5h0M400.7 86.5h0M402.7 86.5h0M408.7 86.5h0M426.7 86.5h0M430.7 86.5h0M388.7 88.5h0M390.7 88.5h0M392.7 88.5h0M394.7 88.5h0M396.7 88.5h0M398.7 88.5h0M400.7 88.5h0M406.7 88.5h0M408.7 88.5h0M412.7 88.5h0M414.7 88.5h0M416.7 88.5h0M418.7 88.5h0M428.7 88.5h0M384.7 90.5h0M386.7 90.5h0M388.7 90.5h0M390.7 90.5h0M392.7 90.5h0M394.7 90.5h0M398.7 90.5h0M402.7 90.5h0M408.7 90.5h0M414.7 90.5h0M420.7 90.5h0M422.7 90.5h0M382.7 92.5h0M384.7 92.5h0M388.7 92.5h0M392.7 92.5h0M396.7 92.5h0M402.7 92.5h0M404.7 92.5h0M406.7 92.5h0M410.7 92.5h0M414.7 92.5h0M420.7 92.5h0M424.7 92.5h0M382.7 94.5h0M384.7 94.5h0M386.7 94.5h0M388.7 94.5h0M390.7 94.5h0M392.7 94.5h0M394.7 94.5h0M398.7 94.5h0M400.7 94.5h0M404.7 94.5h0M410.7 94.5h0M412.7 94.5h0M414.7 94.5h0M418.7 94.5h0M420.7 94.5h0M422.7 94.5h0M382.7 96.5h0M384.7 96.5h0M386.7 96.5h0M388.7 96.5h0M390.7 96.5h0M392.7 96.5h0M394.7 96.5h0M396.7 96.5h0M398.7 96.5h0M400.7 96.5h0M402.7 96.5h0M408.7 96.5h0M410.7 96.5h0M414.7 96.5h0M424.7 96.5h0M428.7 96.5h0M382.7 98.5h0M384.7 98.5h0M388.7 98.5h0M396.7 98.5h0M398.7 98.5h0M400.7 98.5h0M402.7 98.5h0M404.7 98.5h0M406.7 98.5h0M408.7 98.5h0M410.7 98.5h0M412.7 98.5h0M414.7 98.5h0M424.7 98.5h0M428.7 98.5h0M380.7 100.5h0M382.7 100.5h0M384.7 100.5h0M388.7 100.5h0M390.7 100.5h0M392.7 100.5h0M396.7 100.5h0M398.7 100.5h0M400.7 100.5h0M402.7 100.5h0M404.7 100.5h0M406.7 100.5h0M408.7 100.5h0M410.7 100.5h0M412.7 100.5h0M414.7 100.5h0M416.7 100.5h0M422.7 100.5h0M426.7 100.5h0M428.7 100.5h0M386.7 102.5h0M388.7 102.5h0M390.7 102.5h0M392.7 102.5h0M394.7 102.5h0M396.7 102.5h0M400.7 102.5h0M402.7 102.5h0M404.7 102.5h0M406.7 102.5h0M408.7 102.5h0M410.7 102.5h0M412.7 102.5h0M414.7 102.5h0M416.7 102.5h0M418.7 102.5h0M422.7 102.5h0M426.7 102.5h0M380.7 104.5h0M382.7 104.5h0M384.7 104.5h0M386.7 104.5h0M392.7 104.5h0M394.7 104.5h0M396.7 104.5h0M398.7 104.5h0M400.7 104.5h0M402.7 104.5h0M404.7 104.5h0M406.7 104.5h0M410.7 104.5h0M412.7 104.5h0M414.7 104.5h0M418.7 104.5h0M420.7 104.5h0M422.7 104.5h0M426.7 104.5h0M382.7 106.5h0M384.7 106.5h0M392.7 106.5h0M394.7 106.5h0M396.7 106.5h0M398.7 106.5h0M404.7 106.5h0M406.7 106.5h0M408.7 106.5h0M410.7 106.5h0M420.7 106.5h0M422.7 106.5h0M378.7 108.5h0M380.7 108.5h0M384.7 108.5h0M386.7 108.5h0M388.7 108.5h0M390.7 108.5h0M392.7 108.5h0M394.7 108.5h0M396.7 108.5h0M402.7 108.5h0M404.7 108.5h0M406.7 108.5h0M414.7 108.5h0M420.7 108.5h0M422.7 108.5h0M424.7 108.5h0M378.7 110.5h0M380.7 110.5h0M382.7 110.5h0M384.7 110.5h0M386.7 110.5h0M388.7 110.5h0M390.7 110.5h0M394.7 110.5h0M396.7 110.5h0M398.7 110.5h0M400.7 110.5h0M402.7 110.5h0M404.7 110.5h0M414.7 110.5h0M416.7 110.5h0M418.7 110.5h0M420.7 110.5h0M422.7 110.5h0M424.7 110.5h0M426.7 110.5h0M378.7 112.5h0M380.7 112.5h0M382.7 112.5h0M384.7 112.5h0M386.7 112.5h0M388.7 112.5h0M390.7 112.5h0M392.7 112.5h0M394.7 112.5h0M396.7 112.5h0M398.7 112.5h0M400.7 112.5h0M402.7 112.5h0M404.7 112.5h0M406.7 112.5h0M418.7 112.5h0M420.7 112.5h0M422.7 112.5h0M424.7 112.5h0M426.7 112.5h0M380.7 114.5h0M382.7 114.5h0M386.7 114.5h0M388.7 114.5h0M390.7 114.5h0M392.7 114.5h0M394.7 114.5h0M400.7 114.5h0M402.7 114.5h0M404.7 114.5h0M406.7 114.5h0M414.7 114.5h0M416.7 114.5h0M418.7 114.5h0M420.7 114.5h0M422.7 114.5h0M424.7 114.5h0M376.7 116.5h0M380.7 116.5h0M382.7 116.5h0M388.7 116.5h0M392.7 116.5h0M394.7 116.5h0M396.7 116.5h0M398.7 116.5h0M402.7 116.5h0M404.7 116.5h0M406.7 116.5h0M412.7 116.5h0M414.7 116.5h0M416.7 116.5h0M418.7 116.5h0M420.7 116.5h0M376.7 118.5h0M382.7 118.5h0M384.7 118.5h0M390.7 118.5h0M392.7 118.5h0M396.7 118.5h0M404.7 118.5h0M408.7 118.5h0M410.7 118.5h0M376.7 120.5h0M384.7 120.5h0M386.7 120.5h0M388.7 120.5h0M392.7 120.5h0M396.7 120.5h0M404.7 120.5h0M406.7 120.5h0M408.7 120.5h0M410.7 120.5h0M418.7 120.5h0M420.7 120.5h0M376.7 122.5h0M378.7 122.5h0M382.7 122.5h0M386.7 122.5h0M390.7 122.5h0M394.7 122.5h0M396.7 122.5h0M404.7 122.5h0M408.7 122.5h0M410.7 122.5h0M412.7 122.5h0M416.7 122.5h0M418.7 122.5h0M422.7 122.5h0M376.7 124.5h0M378.7 124.5h0M386.7 124.5h0M390.7 124.5h0M392.7 124.5h0M406.7 124.5h0M416.7 124.5h0M420.7 124.5h0M422.7 124.5h0M374.7 126.5h0M378.7 126.5h0M382.7 126.5h0M388.7 126.5h0M416.7 126.5h0M420.7 126.5h0M376.7 128.5h0M386.7 128.5h0M392.7 128.5h0M396.7 128.5h0M398.7 128.5h0M402.7 128.5h0M412.7 128.5h0M416.7 128.5h0M374.7 130.5h0M376.7 130.5h0M380.7 130.5h0M382.7 130.5h0M386.7 130.5h0M388.7 130.5h0M400.7 130.5h0M414.7 130.5h0M374.7 132.5h0M382.7 132.5h0M386.7 132.5h0M390.7 132.5h0M392.7 132.5h0M396.7 132.5h0M412.7 132.5h0M414.7 132.5h0M384.7 134.5h0M386.7 134.5h0M388.7 134.5h0M390.7 134.5h0M394.7 134.5h0M408.7 134.5h0M410.7 134.5h0M412.7 134.5h0M414.7 134.5h0M416.7 134.5h0M376.7 136.5h0M378.7 136.5h0M380.7 136.5h0M384.7 136.5h0M386.7 136.5h0M390.7 136.5h0M396.7 136.5h0M402.7 136.5h0M408.7 136.5h0M412.7 136.5h0M418.7 136.5h0M380.7 138.5h0M386.7 138.5h0M388.7 138.5h0M390.7 138.5h0M392.7 138.5h0M394.7 138.5h0M402.7 138.5h0M404.7 138.5h0M408.7 138.5h0M410.7 138.5h0M414.7 138.5h0M416.7 138.5h0M418.7 138.5h0M372.7 140.5h0M378.7 140.5h0M380.7 140.5h0M382.7 140.5h0M388.7 140.5h0M390.7 140.5h0M394.7 140.5h0M396.7 140.5h0M404.7 140.5h0M406.7 140.5h0M408.7 140.5h0M414.7 140.5h0M418.7 140.5h0M370.7 142.5h0M374.7 142.5h0M376.7 142.5h0M378.7 142.5h0M380.7 142.5h0M382.7 142.5h0M384.7 142.5h0M386.7 142.5h0M388.7 142.5h0M394.7 142.5h0M396.7 142.5h0M404.7 142.5h0M408.7 142.5h0M410.7 142.5h0M414.7 142.5h0M416.7 142.5h0M380.7 144.5h0M382.7 144.5h0M384.7 144.5h0M386.7 144.5h0M390.7 144.5h0M394.7 144.5h0M396.7 144.5h0M398.7 144.5h0M412.7 144.5h0M414.7 144.5h0M416.7 144.5h0M378.7 146.5h0M382.7 146.5h0M384.7 146.5h0M388.7 146.5h0M392.7 146.5h0M398.7 146.5h0M408.7 146.5h0M412.7 146.5h0M414.7 146.5h0M416.7 146.5h0M370.7 148.5h0M384.7 148.5h0M388.7 148.5h0M390.7 148.5h0M394.7 148.5h0M396.7 148.5h0M398.7 148.5h0M408.7 148.5h0M410.7 148.5h0M412.7 148.5h0M414.7 148.5h0M416.7 148.5h0M372.7 150.5h0M374.7 150.5h0M376.7 150.5h0M380.7 150.5h0M384.7 150.5h0M388.7 150.5h0M398.7 150.5h0M408.7 150.5h0M412.7 150.5h0M416.7 150.5h0M376.7 152.5h0M380.7 152.5h0M382.7 152.5h0M384.7 152.5h0M388.7 152.5h0M404.7 152.5h0M406.7 152.5h0M410.7 152.5h0M414.7 152.5h0M416.7 152.5h0M370.7 154.5h0M374.7 154.5h0M380.7 154.5h0M382.7 154.5h0M384.7 154.5h0M392.7 154.5h0M382.7 156.5h0M390.7 156.5h0M394.7 156.5h0M396.7 156.5h0M374.7 158.5h0M376.7 158.5h0M382.7 158.5h0M384.7 158.5h0M386.7 158.5h0M388.7 158.5h0M390.7 158.5h0M392.7 158.5h0M394.7 158.5h0M398.7 158.5h0M366.7 160.5h0M372.7 160.5h0M374.7 160.5h0M380.7 160.5h0M390.7 160.5h0M394.7 160.5h0M396.7 160.5h0M398.7 160.5h0M370.7 162.5h0M376.7 162.5h0M378.7 162.5h0M388.7 162.5h0M394.7 162.5h0M396.7 162.5h0M398.7 162.5h0M370.7 164.5h0M382.7 164.5h0M384.7 164.5h0M390.7 164.5h0M392.7 164.5h0M398.7 164.5h0M364.7 166.5h0M374.7 166.5h0M382.7 166.5h0M388.7 166.5h0M390.7 166.5h0M396.7 166.5h0M378.7 168.5h0M384.7 168.5h0M386.7 168.5h0M394.7 168.5h0M396.7 168.5h0M398.7 168.5h0M366.7 170.5h0M376.7 170.5h0M378.7 170.5h0M380.7 170.5h0M382.7 170.5h0M388.7 170.5h0M392.7 170.5h0M394.7 170.5h0M398.7 170.5h0M364.7 172.5h0M378.7 172.5h0M390.7 172.5h0M374.7 174.5h0M380.7 174.5h0M388.7 174.5h0M390.7 174.5h0M370.7 176.5h0M372.7 176.5h0M374.7 176.5h0M376.7 176.5h0M384.7 176.5h0M368.7 178.5h0M376.7 180.5h0M378.7 180.5h0M368.7 182.5h0M364.7 184.5h0M362.7 186.5h0M368.7 188.5h0M428.7 104.5h0M399.7 120.5h0M407.7 145.5h0M401.7 157.5h0M403.7 157.5h0M408.7 157.5h0M410.7 157.5h0M410.7 159.5h0M412.7 159.5h0M410.7 161.5h0M412.7 161.5h0M403.7 161.5h0M405.7 163.5h0M391.7 172.5h0M402.7 191.5h0M394.7 193.5h0M396.7 193.5h0M382.7 195.5h0M386.7 195.5h0M388.7 195.5h0M376.7 197.5h0M380.7 197.5h0M386.7 197.5h0M394.7 197.5h0M396.7 197.5h0M380.7 199.5h0M386.7 199.5h0M392.7 199.5h0M394.7 199.5h0M380.7 201.5h0M396.7 201.5h0M392.7 203.5h0M396.7 203.5h0M386.7 205.5h0M388.7 205.5h0M401.7 206.5h0M386.7 207.5h0M390.7 207.5h0" stroke="#396ba2" stroke-width="2.5" stroke-linecap="round" fill="none" opacity="0.93"/>
<path d="M404.7 76.5h0M386.7 86.5h0M422.7 88.5h0M396.7 90.5h0M404.7 90.5h0M386.7 92.5h0M402.7 94.5h0M386.7 98.5h0M392.7 98.5h0M394.7 98.5h0M386.7 100.5h0M424.7 100.5h0M380.7 102.5h0M382.7 102.5h0M384.7 102.5h0M398.7 102.5h0M416.7 104.5h0M380.7 106.5h0M386.7 106.5h0M390.7 106.5h0M400.7 106.5h0M416.7 106.5h0M426.7 106.5h0M382.7 108.5h0M398.7 108.5h0M416.7 108.5h0M406.7 110.5h0M378.7 114.5h0M384.7 114.5h0M412.7 114.5h0M378.7 116.5h0M384.7 116.5h0M400.7 116.5h0M378.7 118.5h0M380.7 118.5h0M394.7 118.5h0M406.7 118.5h0M418.7 118.5h0M420.7 118.5h0M378.7 120.5h0M380.7 120.5h0M382.7 120.5h0M390.7 120.5h0M394.7 120.5h0M380.7 122.5h0M384.7 122.5h0M388.7 122.5h0M406.7 122.5h0M414.7 122.5h0M382.7 124.5h0M384.7 124.5h0M388.7 124.5h0M396.7 124.5h0M404.7 124.5h0M376.7 126.5h0M380.7 126.5h0M384.7 126.5h0M386.7 126.5h0M374.7 128.5h0M378.7 128.5h0M380.7 128.5h0M382.7 128.5h0M384.7 128.5h0M388.7 128.5h0M390.7 128.5h0M394.7 128.5h0M400.7 128.5h0M414.7 128.5h0M378.7 130.5h0M384.7 130.5h0M390.7 130.5h0M392.7 130.5h0M394.7 130.5h0M396.7 130.5h0M398.7 130.5h0M416.7 130.5h0M376.7 132.5h0M378.7 132.5h0M380.7 132.5h0M384.7 132.5h0M388.7 132.5h0M394.7 132.5h0M416.7 132.5h0M372.7 134.5h0M374.7 134.5h0M376.7 134.5h0M378.7 134.5h0M380.7 134.5h0M382.7 134.5h0M392.7 134.5h0M396.7 134.5h0M372.7 136.5h0M374.7 136.5h0M382.7 136.5h0M388.7 136.5h0M392.7 136.5h0M394.7 136.5h0M404.7 136.5h0M406.7 136.5h0M410.7 136.5h0M414.7 136.5h0M416.7 136.5h0M420.7 136.5h0M372.7 138.5h0M374.7 138.5h0M376.7 138.5h0M378.7 138.5h0M382.7 138.5h0M384.7 138.5h0M396.7 138.5h0M406.7 138.5h0M412.7 138.5h0M374.7 140.5h0M376.7 140.5h0M384.7 140.5h0M386.7 140.5h0M392.7 140.5h0M402.7 140.5h0M410.7 140.5h0M412.7 140.5h0M416.7 140.5h0M372.7 142.5h0M390.7 142.5h0M392.7 142.5h0M402.7 142.5h0M406.7 142.5h0M412.7 142.5h0M370.7 144.5h0M372.7 144.5h0M374.7 144.5h0M376.7 144.5h0M378.7 144.5h0M388.7 144.5h0M392.7 144.5h0M408.7 144.5h0M370.7 146.5h0M372.7 146.5h0M374.7 146.5h0M376.7 146.5h0M380.7 146.5h0M386.7 146.5h0M390.7 146.5h0M394.7 146.5h0M372.7 148.5h0M374.7 148.5h0M376.7 148.5h0M378.7 148.5h0M380.7 148.5h0M382.7 148.5h0M386.7 148.5h0M392.7 148.5h0M368.7 150.5h0M370.7 150.5h0M378.7 150.5h0M382.7 150.5h0M386.7 150.5h0M390.7 150.5h0M392.7 150.5h0M396.7 150.5h0M410.7 150.5h0M414.7 150.5h0M368.7 152.5h0M370.7 152.5h0M372.7 152.5h0M374.7 152.5h0M378.7 152.5h0M386.7 152.5h0M390.7 152.5h0M392.7 152.5h0M394.7 152.5h0M408.7 152.5h0M412.7 152.5h0M368.7 154.5h0M372.7 154.5h0M376.7 154.5h0M378.7 154.5h0M386.7 154.5h0M388.7 154.5h0M390.7 154.5h0M368.7 156.5h0M370.7 156.5h0M372.7 156.5h0M374.7 156.5h0M376.7 156.5h0M378.7 156.5h0M380.7 156.5h0M384.7 156.5h0M386.7 156.5h0M388.7 156.5h0M392.7 156.5h0M366.7 158.5h0M368.7 158.5h0M370.7 158.5h0M372.7 158.5h0M378.7 158.5h0M380.7 158.5h0M396.7 158.5h0M368.7 160.5h0M370.7 160.5h0M376.7 160.5h0M378.7 160.5h0M382.7 160.5h0M384.7 160.5h0M386.7 160.5h0M388.7 160.5h0M392.7 160.5h0M366.7 162.5h0M368.7 162.5h0M372.7 162.5h0M374.7 162.5h0M380.7 162.5h0M382.7 162.5h0M384.7 162.5h0M386.7 162.5h0M390.7 162.5h0M392.7 162.5h0M366.7 164.5h0M368.7 164.5h0M372.7 164.5h0M374.7 164.5h0M376.7 164.5h0M378.7 164.5h0M380.7 164.5h0M386.7 164.5h0M388.7 164.5h0M394.7 164.5h0M396.7 164.5h0M366.7 166.5h0M368.7 166.5h0M370.7 166.5h0M372.7 166.5h0M376.7 166.5h0M378.7 166.5h0M380.7 166.5h0M384.7 166.5h0M386.7 166.5h0M392.7 166.5h0M398.7 166.5h0M364.7 168.5h0M366.7 168.5h0M368.7 168.5h0M370.7 168.5h0M372.7 168.5h0M374.7 168.5h0M376.7 168.5h0M380.7 168.5h0M382.7 168.5h0M388.7 168.5h0M390.7 168.5h0M392.7 168.5h0M364.7 170.5h0M368.7 170.5h0M370.7 170.5h0M372.7 170.5h0M374.7 170.5h0M384.7 170.5h0M386.7 170.5h0M390.7 170.5h0M396.7 170.5h0M366.7 172.5h0M368.7 172.5h0M370.7 172.5h0M372.7 172.5h0M374.7 172.5h0M376.7 172.5h0M380.7 172.5h0M382.7 172.5h0M384.7 172.5h0M386.7 172.5h0M388.7 172.5h0M364.7 174.5h0M366.7 174.5h0M368.7 174.5h0M370.7 174.5h0M372.7 174.5h0M376.7 174.5h0M378.7 174.5h0M382.7 174.5h0M384.7 174.5h0M386.7 174.5h0M362.7 176.5h0M364.7 176.5h0M366.7 176.5h0M368.7 176.5h0M378.7 176.5h0M380.7 176.5h0M382.7 176.5h0M362.7 178.5h0M364.7 178.5h0M366.7 178.5h0M372.7 178.5h0M374.7 178.5h0M376.7 178.5h0M378.7 178.5h0M380.7 178.5h0M366.7 180.5h0M368.7 180.5h0M370.7 180.5h0M372.7 180.5h0M374.7 180.5h0M380.7 180.5h0M362.7 182.5h0M364.7 182.5h0M366.7 182.5h0M370.7 182.5h0M372.7 182.5h0M374.7 182.5h0M376.7 182.5h0M360.7 184.5h0M362.7 184.5h0M366.7 184.5h0M368.7 184.5h0M370.7 184.5h0M372.7 184.5h0M374.7 184.5h0M360.7 186.5h0M364.7 186.5h0M366.7 186.5h0M368.7 186.5h0M370.7 186.5h0M372.7 186.5h0M374.7 186.5h0M360.7 188.5h0M362.7 188.5h0M364.7 188.5h0M366.7 188.5h0M370.7 188.5h0M372.7 188.5h0M399.7 122.5h0M401.7 122.5h0M401.7 145.5h0M402.7 143.5h0M404.7 149.5h0M400.7 155.5h0M404.7 154.5h0M412.7 157.5h0M408.7 161.5h0M410.7 163.5h0M409.7 166.5h0M398.7 173.5h0M393.7 182.5h0M359.7 192.5h0M359.7 194.5h0M359.7 200.5h0M359.7 202.5h0M398.7 191.5h0M388.7 193.5h0M390.7 193.5h0M392.7 193.5h0M398.7 193.5h0M402.7 193.5h0M378.7 195.5h0M380.7 195.5h0M384.7 195.5h0M390.7 195.5h0M374.7 197.5h0M378.7 197.5h0M382.7 197.5h0M384.7 197.5h0M376.7 199.5h0M378.7 199.5h0M382.7 199.5h0M384.7 199.5h0M388.7 199.5h0M390.7 199.5h0M396.7 199.5h0M378.7 201.5h0M382.7 201.5h0M384.7 201.5h0M386.7 201.5h0M388.7 201.5h0M390.7 201.5h0M392.7 201.5h0M394.7 201.5h0M380.7 203.5h0M382.7 203.5h0M386.7 203.5h0M388.7 203.5h0M390.7 203.5h0M394.7 203.5h0M390.7 205.5h0M392.7 205.5h0M394.7 205.5h0M388.7 207.5h0M392.7 207.5h0" stroke="#395989" stroke-width="2.5" stroke-linecap="round" fill="none" opacity="0.93"/>
<path d="M442.6 43.0L443.7 43.1L443.4 43.8L445.3 42.8L443.7 41.4L443.8 42.2L442.8 42.0Z" fill="#4a0c6b"/>
<path d="M402.4 24.8L403.9 26.3L403.2 26.7L406.0 27.7L404.9 24.9L404.5 25.6L403.0 24.2ZM398.3 30.8L399.7 32.4L399.0 32.7L401.7 33.9L400.8 31.1L400.4 31.8L399.1 30.2ZM402.4 30.8L403.5 32.0L402.8 32.3L405.5 33.4L404.5 30.7L404.2 31.3L403.0 30.2ZM438.7 43.0L440.7 43.1L440.4 43.8L443.2 42.8L440.6 41.4L440.7 42.2L438.7 42.0ZM438.6 47.0L440.6 47.3L440.3 48.0L443.2 47.2L440.7 45.6L440.8 46.3L438.8 46.0ZM438.6 61.0L440.5 61.5L440.1 62.1L443.0 61.7L440.7 59.8L440.7 60.6L438.8 60.0Z" fill="#781c6d"/>
<path d="M398.4 34.8L400.3 36.9L399.6 37.2L402.3 38.4L401.4 35.6L401.0 36.2L399.0 34.2ZM402.4 34.8L404.4 37.0L403.8 37.3L406.5 38.4L405.5 35.7L405.1 36.3L403.0 34.2ZM402.4 36.8L404.6 39.2L403.9 39.5L406.6 40.6L405.6 37.9L405.3 38.5L403.0 36.2ZM414.5 42.9L417.1 44.0L416.6 44.6L419.6 44.5L417.5 42.4L417.4 43.1L414.9 42.1ZM434.6 51.0L437.3 51.4L437.0 52.1L439.9 51.3L437.4 49.7L437.5 50.5L434.8 50.0ZM438.6 51.0L441.6 51.6L441.2 52.2L444.1 51.6L441.7 49.9L441.7 50.6L438.8 50.0ZM434.6 53.0L437.8 53.5L437.5 54.2L440.3 53.5L437.9 51.9L438.0 52.6L434.8 52.0ZM438.6 53.0L441.7 53.6L441.4 54.3L444.3 53.7L441.9 51.9L441.9 52.7L438.8 52.0ZM438.6 57.0L441.7 57.7L441.4 58.3L444.3 57.7L441.9 56.0L442.0 56.7L438.8 56.0ZM426.6 69.0L429.6 69.9L429.2 70.5L432.2 70.2L429.9 68.2L429.9 69.0L426.8 68.0ZM434.5 76.9L436.9 77.8L436.5 78.5L439.4 78.3L437.3 76.2L437.3 77.0L434.9 76.1ZM426.4 108.9L428.4 110.6L427.8 111.0L430.6 111.9L429.4 109.2L429.0 109.9L427.0 108.1ZM426.4 112.8L428.0 114.5L427.4 114.8L430.2 115.8L429.1 113.1L428.7 113.8L427.0 112.2ZM422.3 124.8L423.9 126.5L423.2 126.9L425.9 128.1L425.0 125.3L424.6 125.9L423.1 124.2ZM394.3 140.7L395.7 143.5L395.0 143.7L397.3 145.6L397.1 142.6L396.6 143.1L395.1 140.3ZM418.3 140.7L419.3 142.6L418.6 142.8L420.9 144.6L420.7 141.6L420.1 142.2L419.1 140.3Z" fill="#a52c60"/>
<path d="M398.4 36.8L400.8 39.3L400.1 39.6L402.9 40.7L401.8 37.9L401.5 38.6L399.0 36.2ZM398.4 38.8L401.0 41.5L400.3 41.9L403.1 42.9L402.0 40.2L401.7 40.8L399.0 38.2ZM398.4 40.8L401.3 44.0L400.7 44.3L403.4 45.4L402.4 42.7L402.0 43.3L399.0 40.2ZM410.5 42.9L414.0 44.8L413.5 45.3L416.4 45.5L414.6 43.2L414.4 43.9L410.9 42.1ZM410.5 46.9L414.5 48.7L414.0 49.3L416.9 49.4L415.0 47.1L414.9 47.9L410.9 46.1ZM414.5 46.9L417.6 48.2L417.1 48.8L420.1 48.6L418.0 46.5L417.9 47.3L414.9 46.1ZM414.6 51.0L418.4 52.2L418.0 52.8L420.9 52.4L418.7 50.5L418.7 51.2L414.8 50.0ZM414.6 53.0L418.2 54.0L417.8 54.6L420.7 54.2L418.4 52.3L418.4 53.1L414.8 52.0ZM418.6 53.0L422.1 53.7L421.8 54.4L424.7 53.8L422.3 52.1L422.3 52.8L418.8 52.0ZM414.5 56.9L418.3 58.3L417.9 58.9L420.8 58.6L418.7 56.6L418.6 57.4L414.9 56.1ZM426.6 57.0L430.3 57.8L430.0 58.4L432.9 57.8L430.5 56.1L430.5 56.8L426.8 56.0ZM434.6 57.0L437.9 57.6L437.5 58.3L440.4 57.6L438.0 55.9L438.1 56.7L434.8 56.0ZM414.5 60.9L418.3 62.3L417.8 62.9L420.8 62.7L418.6 60.7L418.6 61.4L414.9 60.1ZM418.6 61.0L422.7 62.1L422.3 62.7L425.2 62.3L422.9 60.4L422.9 61.1L418.8 60.0ZM422.6 61.0L425.9 61.8L425.6 62.4L428.5 61.9L426.1 60.1L426.2 60.9L422.8 60.0ZM430.6 61.0L434.3 61.9L433.9 62.6L436.8 62.1L434.5 60.2L434.5 61.0L430.8 60.0ZM434.6 61.0L438.0 61.8L437.6 62.5L440.5 62.0L438.2 60.2L438.2 60.9L434.8 60.0ZM414.5 64.9L418.2 66.2L417.8 66.8L420.7 66.5L418.5 64.5L418.5 65.3L414.9 64.1ZM418.6 65.0L422.6 66.0L422.2 66.7L425.1 66.2L422.8 64.4L422.9 65.1L418.8 64.0ZM422.6 65.0L426.0 66.0L425.6 66.6L428.5 66.2L426.3 64.3L426.3 65.1L422.8 64.0ZM426.6 65.0L430.7 66.1L430.3 66.8L433.2 66.3L430.9 64.5L430.9 65.2L426.8 64.0ZM430.6 65.0L434.3 66.0L434.0 66.6L436.9 66.1L434.6 64.3L434.6 65.0L430.8 64.0ZM434.6 65.0L438.2 65.9L437.8 66.6L440.7 66.1L438.4 64.2L438.4 65.0L434.8 64.0ZM414.5 68.9L418.0 70.2L417.5 70.8L420.5 70.6L418.3 68.5L418.3 69.3L414.9 68.1ZM418.6 69.0L421.7 70.0L421.3 70.6L424.3 70.3L422.0 68.3L422.0 69.1L418.8 68.0ZM422.6 69.0L425.7 70.0L425.2 70.6L428.2 70.3L426.0 68.3L425.9 69.0L422.8 68.0ZM430.6 69.0L434.4 70.2L434.0 70.9L436.9 70.6L434.8 68.6L434.7 69.3L430.8 68.0ZM422.5 73.0L426.5 74.3L426.0 74.9L429.0 74.6L426.8 72.6L426.8 73.4L422.9 72.0ZM426.5 72.9L430.2 74.2L429.8 74.9L432.7 74.6L430.6 72.6L430.5 73.4L426.9 72.1ZM434.6 73.0L438.4 74.2L438.0 74.8L440.9 74.5L438.7 72.5L438.7 73.3L434.8 72.0ZM414.5 76.9L418.5 78.4L418.1 79.0L421.0 78.8L418.9 76.7L418.8 77.5L414.9 76.1ZM422.5 76.9L426.3 78.6L425.8 79.2L428.8 79.1L426.8 77.0L426.7 77.7L422.9 76.1ZM426.5 76.9L430.1 78.3L429.7 78.9L432.6 78.7L430.5 76.6L430.4 77.4L426.9 76.1ZM430.5 76.9L434.2 78.6L433.7 79.1L436.6 79.1L434.7 76.9L434.6 77.7L430.9 76.1ZM410.5 80.9L414.2 82.8L413.7 83.3L416.6 83.5L414.8 81.2L414.6 81.9L410.9 80.1ZM414.5 80.9L418.1 82.6L417.6 83.1L420.6 83.2L418.6 81.0L418.5 81.7L414.9 80.1ZM426.5 80.9L430.2 82.6L429.8 83.2L432.7 83.1L430.7 81.0L430.6 81.7L426.9 80.1ZM430.5 80.9L434.3 82.5L433.9 83.1L436.8 83.0L434.8 80.8L434.7 81.6L430.9 80.1ZM414.5 84.9L418.0 86.7L417.5 87.3L420.4 87.4L418.6 85.1L418.4 85.9L414.9 84.1ZM430.5 84.9L434.3 86.7L433.8 87.3L436.8 87.3L434.9 85.1L434.7 85.8L430.9 84.1ZM410.5 88.9L414.3 90.9L413.8 91.5L416.7 91.7L414.9 89.4L414.7 90.1L410.9 88.1ZM414.5 88.9L418.2 90.9L417.7 91.5L420.6 91.7L418.8 89.4L418.7 90.1L414.9 88.1ZM418.5 88.9L422.2 90.8L421.7 91.3L424.6 91.5L422.7 89.2L422.6 89.9L418.9 88.1ZM422.5 88.9L426.2 91.0L425.7 91.5L428.6 91.8L426.8 89.5L426.7 90.2L422.9 88.1ZM410.5 92.9L414.2 95.1L413.7 95.6L416.6 96.0L414.9 93.6L414.7 94.3L410.9 92.1ZM414.5 92.9L417.9 94.8L417.3 95.3L420.3 95.6L418.5 93.2L418.3 93.9L414.9 92.1ZM418.5 92.9L421.7 94.9L421.1 95.4L424.1 95.7L422.4 93.3L422.2 94.0L418.9 92.1ZM422.5 92.9L425.9 94.9L425.4 95.4L428.3 95.8L426.6 93.4L426.4 94.1L422.9 92.1ZM406.4 96.9L410.1 99.3L409.5 99.8L412.4 100.3L410.8 97.8L410.6 98.5L407.0 96.1ZM410.4 96.9L413.7 99.1L413.1 99.6L416.0 100.1L414.5 97.6L414.2 98.3L411.0 96.1ZM414.4 96.9L417.9 99.2L417.3 99.7L420.2 100.2L418.6 97.7L418.4 98.4L415.0 96.1ZM426.4 96.9L429.8 99.0L429.2 99.5L432.2 100.0L430.5 97.5L430.3 98.2L427.0 96.1ZM418.4 100.9L421.9 103.2L421.4 103.7L424.3 104.1L422.7 101.7L422.4 102.4L419.0 100.1ZM422.4 100.9L425.8 103.2L425.2 103.7L428.1 104.2L426.5 101.7L426.3 102.4L423.0 100.1ZM410.4 104.9L413.5 107.1L412.9 107.6L415.8 108.2L414.3 105.6L414.1 106.3L411.0 104.1ZM414.4 104.9L417.7 107.2L417.1 107.7L420.0 108.3L418.5 105.7L418.2 106.4L415.0 104.1ZM418.4 104.9L421.7 107.4L421.1 107.9L424.0 108.5L422.6 106.0L422.3 106.7L419.0 104.1ZM422.4 104.9L425.9 107.4L425.3 107.9L428.2 108.5L426.7 105.9L426.5 106.7L423.0 104.1ZM426.4 104.9L429.8 107.3L429.2 107.8L432.1 108.4L430.6 105.8L430.3 106.5L427.0 104.1ZM402.4 108.9L405.6 111.6L405.0 112.0L407.8 112.9L406.6 110.2L406.2 110.9L403.0 108.1ZM406.4 108.9L409.6 111.5L409.0 111.9L411.9 112.7L410.5 110.0L410.2 110.7L407.0 108.1ZM414.4 108.9L417.5 111.3L416.9 111.8L419.7 112.5L418.4 109.9L418.1 110.6L415.0 108.1ZM418.4 108.9L421.7 111.6L421.1 112.1L424.0 112.9L422.6 110.2L422.3 110.9L419.0 108.1ZM402.4 112.8L405.4 115.7L404.7 116.1L407.5 117.1L406.4 114.4L406.0 115.0L403.0 112.2ZM418.4 112.9L421.3 115.4L420.7 115.8L423.5 116.6L422.3 114.0L421.9 114.7L419.0 112.1ZM422.4 112.9L425.6 115.5L424.9 115.9L427.8 116.8L426.5 114.1L426.2 114.8L423.0 112.1ZM398.4 116.8L401.3 119.8L400.6 120.2L403.4 121.2L402.4 118.5L402.0 119.1L399.0 116.2ZM402.4 116.8L405.2 119.7L404.6 120.1L407.3 121.1L406.3 118.4L405.9 119.0L403.0 116.2ZM406.4 116.8L409.1 119.7L408.4 120.1L411.2 121.2L410.2 118.4L409.8 119.0L407.0 116.2ZM414.4 116.8L417.2 119.8L416.6 120.2L419.3 121.2L418.3 118.5L417.9 119.1L415.0 116.2ZM418.4 116.8L421.2 119.7L420.5 120.1L423.2 121.2L422.2 118.4L421.8 119.0L419.0 116.2ZM406.3 120.8L409.2 124.0L408.6 124.3L411.3 125.5L410.3 122.7L409.9 123.3L407.1 120.2ZM410.3 120.8L413.2 124.1L412.6 124.4L415.3 125.7L414.4 122.8L414.0 123.5L411.1 120.2ZM418.4 120.8L421.2 124.0L420.6 124.3L423.3 125.5L422.3 122.7L421.9 123.3L419.0 120.2ZM394.3 124.8L396.9 128.0L396.2 128.3L398.9 129.6L398.1 126.8L397.7 127.4L395.1 124.2ZM406.3 124.8L408.7 127.8L408.0 128.1L410.6 129.5L409.9 126.6L409.5 127.2L407.1 124.2ZM418.3 124.8L420.7 127.7L420.0 128.0L422.6 129.4L421.9 126.5L421.4 127.1L419.1 124.2ZM394.3 128.8L396.5 132.0L395.7 132.2L398.2 133.8L397.7 130.9L397.2 131.4L395.1 128.2ZM398.3 128.8L400.6 131.9L399.9 132.2L402.4 133.7L401.8 130.8L401.4 131.4L399.1 128.2ZM402.3 128.8L404.8 132.0L404.1 132.2L406.6 133.6L406.0 130.8L405.5 131.4L403.1 128.2ZM414.3 128.8L416.6 131.9L415.9 132.1L418.5 133.6L417.8 130.7L417.4 131.3L415.1 128.2ZM390.3 132.8L392.6 136.3L391.9 136.5L394.3 138.1L393.9 135.2L393.4 135.8L391.1 132.2ZM394.3 132.8L396.4 136.0L395.7 136.2L398.2 137.8L397.7 134.9L397.2 135.5L395.1 132.2ZM414.3 132.7L416.5 136.3L415.7 136.5L418.2 138.2L417.8 135.2L417.3 135.8L415.1 132.3ZM394.3 136.7L396.1 139.7L395.4 139.9L397.8 141.6L397.4 138.7L396.9 139.2L395.1 136.3ZM402.3 136.7L404.3 140.2L403.5 140.3L405.9 142.1L405.6 139.1L405.1 139.7L403.1 136.3ZM406.3 136.7L408.1 139.8L407.4 140.0L409.8 141.7L409.5 138.8L408.9 139.3L407.1 136.3ZM410.3 136.7L412.1 139.8L411.4 140.0L413.8 141.7L413.5 138.8L413.0 139.3L411.1 136.3ZM414.3 136.7L416.5 140.2L415.7 140.5L418.2 142.1L417.8 139.2L417.3 139.7L415.1 136.3ZM418.3 136.7L420.2 140.2L419.4 140.3L421.8 142.1L421.5 139.2L421.0 139.7L419.1 136.3ZM390.3 140.7L392.0 144.2L391.3 144.3L393.5 146.2L393.4 143.3L392.9 143.8L391.1 140.3ZM402.3 140.7L403.9 143.7L403.2 143.9L405.5 145.7L405.3 142.8L404.7 143.3L403.1 140.3ZM406.3 140.7L408.0 143.9L407.3 144.1L409.6 145.9L409.4 143.0L408.8 143.5L407.1 140.3ZM410.3 140.7L412.2 144.3L411.4 144.5L413.7 146.3L413.6 143.4L413.0 143.9L411.1 140.3ZM414.3 140.7L415.9 143.9L415.2 144.0L417.5 145.9L417.3 142.9L416.8 143.4L415.1 140.3ZM386.3 148.7L387.9 152.8L387.1 152.8L389.3 154.9L389.4 151.9L388.8 152.4L387.1 148.3ZM390.3 148.7L391.7 152.3L391.0 152.4L393.1 154.5L393.2 151.5L392.6 152.0L391.1 148.3ZM394.3 148.7L395.7 151.9L394.9 152.0L397.1 154.0L397.1 151.1L396.5 151.5L395.1 148.3ZM398.3 148.7L399.8 152.5L399.1 152.5L401.2 154.6L401.3 151.6L400.7 152.1L399.1 148.3ZM410.3 148.7L412.0 152.4L411.3 152.6L413.5 154.5L413.4 151.6L412.9 152.0L411.1 148.3ZM414.3 148.7L415.5 151.8L414.8 151.9L416.9 153.9L417.0 151.0L416.4 151.4L415.1 148.3ZM386.3 150.7L387.6 154.5L386.8 154.6L388.8 156.8L389.1 153.8L388.5 154.2L387.1 150.3ZM390.3 150.7L391.8 154.3L391.0 154.4L393.1 156.5L393.2 153.5L392.6 154.0L391.1 150.3ZM394.3 150.7L395.8 154.4L395.0 154.5L397.2 156.6L397.3 153.6L396.7 154.1L395.1 150.3ZM398.3 150.7L399.7 154.0L399.0 154.1L401.1 156.1L401.2 153.2L400.6 153.6L399.1 150.3ZM410.3 150.7L411.7 154.2L410.9 154.3L413.1 156.3L413.2 153.4L412.6 153.8L411.1 150.3ZM386.3 154.7L387.5 158.2L386.8 158.3L388.8 160.4L389.0 157.5L388.4 157.9L387.1 154.3ZM390.3 154.7L391.6 158.6L390.8 158.6L392.8 160.8L393.1 157.9L392.5 158.3L391.1 154.3ZM386.2 156.6L387.4 160.3L386.6 160.3L388.6 162.6L388.9 159.6L388.3 160.0L387.2 156.4ZM390.2 156.6L391.5 160.7L390.8 160.7L392.8 162.9L393.1 160.0L392.5 160.4L391.2 156.4ZM394.2 156.6L395.4 160.4L394.7 160.4L396.6 162.6L397.0 159.7L396.3 160.1L395.2 156.4ZM386.2 158.6L387.4 162.4L386.7 162.5L388.6 164.7L389.0 161.7L388.3 162.1L387.2 158.4ZM390.2 158.6L391.2 162.0L390.4 162.0L392.3 164.2L392.7 161.3L392.1 161.7L391.2 158.4ZM394.2 158.6L395.3 162.4L394.6 162.4L396.5 164.7L396.9 161.7L396.2 162.1L395.2 158.4ZM398.2 158.6L399.5 162.6L398.7 162.6L400.7 164.8L401.0 161.9L400.4 162.3L399.2 158.4ZM386.2 160.6L387.2 164.0L386.5 164.0L388.3 166.3L388.8 163.4L388.1 163.8L387.2 160.4ZM390.2 160.6L391.3 164.1L390.5 164.1L392.4 166.4L392.8 163.4L392.2 163.8L391.2 160.4ZM394.2 160.6L395.3 164.7L394.6 164.7L396.4 167.0L396.9 164.1L396.2 164.5L395.2 160.4ZM398.2 160.6L399.1 164.2L398.4 164.2L400.2 166.5L400.7 163.6L400.1 164.0L399.2 160.4ZM386.2 162.6L387.3 166.4L386.6 166.4L388.5 168.7L388.9 165.7L388.2 166.1L387.2 162.4ZM390.2 162.6L391.2 166.4L390.5 166.4L392.3 168.7L392.8 165.8L392.2 166.2L391.2 162.4ZM394.2 162.6L395.1 166.2L394.3 166.2L396.1 168.5L396.7 165.6L396.0 166.0L395.2 162.4ZM398.2 162.6L399.1 166.4L398.4 166.4L400.2 168.7L400.7 165.8L400.1 166.2L399.2 162.4ZM386.2 164.6L387.2 168.8L386.4 168.8L388.2 171.1L388.8 168.2L388.1 168.6L387.2 164.4ZM394.2 164.6L395.3 168.6L394.6 168.6L396.4 170.9L396.9 168.0L396.2 168.4L395.2 164.4ZM398.2 164.6L399.2 168.5L398.5 168.5L400.3 170.8L400.8 167.9L400.1 168.3L399.2 164.4ZM382.2 168.6L383.0 172.7L382.2 172.6L383.9 175.1L384.6 172.2L383.9 172.5L383.2 168.4ZM386.2 168.6L386.9 172.5L386.1 172.4L387.8 174.8L388.5 172.0L387.8 172.3L387.2 168.4ZM390.2 168.6L391.0 172.9L390.2 172.8L391.9 175.2L392.6 172.4L391.9 172.7L391.2 168.4ZM394.2 168.6L394.7 172.3L394.0 172.2L395.5 174.8L396.3 171.9L395.6 172.2L395.2 168.4ZM398.2 168.6L398.9 172.4L398.1 172.3L399.8 174.8L400.5 171.9L399.8 172.3L399.2 168.4ZM386.2 172.5L386.7 176.8L385.9 176.7L387.4 179.3L388.3 176.5L387.6 176.7L387.2 172.5ZM390.2 172.5L390.5 176.5L389.8 176.4L391.2 179.0L392.2 176.2L391.5 176.5L391.2 172.5ZM382.2 174.5L382.6 178.2L381.8 178.1L383.3 180.7L384.2 177.9L383.5 178.1L383.2 174.5ZM386.2 174.6L386.7 178.5L385.9 178.4L387.4 180.9L388.3 178.1L387.6 178.4L387.2 174.4ZM378.2 178.5L378.4 182.2L377.6 182.1L378.9 184.7L380.0 182.0L379.3 182.2L379.2 178.5ZM401.3 145.7L402.6 148.9L401.9 149.0L404.1 151.0L404.1 148.0L403.5 148.5L402.1 145.3ZM402.3 143.7L404.1 147.4L403.3 147.5L405.6 149.5L405.5 146.5L404.9 147.0L403.1 143.3ZM393.2 182.5L393.0 186.4L392.3 186.1L393.4 188.9L394.7 186.3L394.0 186.4L394.2 182.5ZM398.2 191.5L397.8 195.7L397.1 195.4L398.1 198.2L399.5 195.6L398.8 195.8L399.2 191.5ZM390.2 193.5L389.9 197.8L389.2 197.6L390.1 200.4L391.6 197.8L390.8 197.9L391.2 193.5ZM398.2 193.4L397.7 197.0L397.1 196.7L397.9 199.6L399.4 197.1L398.7 197.2L399.2 193.6ZM402.2 193.4L401.7 197.8L401.0 197.5L401.9 200.3L403.4 197.8L402.7 197.9L403.2 193.6ZM378.2 195.4L377.7 199.4L377.0 199.1L377.8 201.9L379.4 199.4L378.6 199.5L379.2 195.6ZM382.2 195.4L381.7 199.5L381.0 199.2L381.9 202.0L383.4 199.5L382.6 199.6L383.2 195.6ZM386.2 195.4L385.6 199.5L384.9 199.2L385.6 202.0L387.2 199.6L386.5 199.6L387.2 195.6ZM390.2 195.4L389.7 199.6L389.0 199.4L389.8 202.2L391.4 199.7L390.6 199.8L391.2 195.6ZM386.2 199.4L385.5 203.6L384.9 203.3L385.6 206.1L387.2 203.7L386.5 203.7L387.2 199.6ZM390.2 199.4L389.7 203.8L389.0 203.5L389.8 206.3L391.3 203.8L390.6 203.9L391.2 199.6ZM394.2 199.4L393.5 203.6L392.8 203.3L393.5 206.2L395.2 203.7L394.4 203.8L395.2 199.6ZM390.2 201.4L389.3 205.6L388.7 205.3L389.3 208.2L391.0 205.8L390.3 205.8L391.2 201.6ZM394.2 201.4L393.5 205.5L392.8 205.2L393.5 208.1L395.2 205.6L394.4 205.7L395.2 201.6ZM382.2 203.4L381.4 207.6L380.7 207.2L381.4 210.1L383.1 207.7L382.3 207.8L383.2 203.6ZM394.2 203.4L393.4 207.6L392.7 207.3L393.4 210.2L395.1 207.8L394.3 207.8L395.2 203.6Z" fill="#cf4446"/>
<path d="M402.4 38.8L405.7 41.9L405.1 42.3L407.9 43.3L406.7 40.6L406.3 41.2L403.0 38.2ZM402.4 40.9L406.0 44.0L405.4 44.4L408.2 45.3L406.9 42.6L406.6 43.3L403.0 40.1ZM398.4 42.8L401.9 46.4L401.2 46.7L404.0 47.8L402.9 45.0L402.6 45.7L399.0 42.2ZM402.4 42.9L406.3 46.4L405.7 46.8L408.5 47.7L407.3 45.0L407.0 45.7L403.0 42.1ZM406.4 42.9L410.4 45.9L409.8 46.4L412.7 47.1L411.3 44.5L411.0 45.2L407.0 42.1ZM406.4 46.9L410.4 49.6L409.8 50.0L412.7 50.6L411.1 48.1L410.9 48.8L407.0 46.1ZM410.5 50.9L414.9 53.0L414.4 53.5L417.3 53.6L415.4 51.4L415.3 52.1L410.9 50.1ZM410.5 52.9L415.3 55.1L414.9 55.7L417.8 55.7L415.8 53.5L415.7 54.2L410.9 52.1ZM410.5 56.9L414.9 59.0L414.4 59.6L417.4 59.7L415.4 57.4L415.3 58.2L410.9 56.1ZM418.6 57.0L422.9 58.0L422.5 58.7L425.4 58.2L423.1 56.3L423.1 57.1L418.8 56.0ZM406.5 60.9L411.2 63.6L410.7 64.1L413.7 64.4L411.9 62.0L411.7 62.7L406.9 60.1ZM410.5 60.9L415.0 62.9L414.5 63.5L417.4 63.4L415.4 61.3L415.3 62.0L410.9 60.1ZM410.5 64.9L414.9 66.8L414.5 67.4L417.4 67.4L415.4 65.2L415.3 65.9L410.9 64.1ZM406.5 68.9L411.0 71.5L410.4 72.1L413.4 72.4L411.6 70.0L411.4 70.7L406.9 68.1ZM410.5 68.9L414.9 70.9L414.5 71.5L417.4 71.5L415.4 69.3L415.3 70.0L410.9 68.1ZM434.6 69.0L438.8 70.3L438.4 70.9L441.3 70.5L439.1 68.6L439.1 69.4L434.8 68.0ZM406.5 72.9L411.0 75.2L410.5 75.8L413.4 75.9L411.6 73.6L411.4 74.4L406.9 72.1ZM410.5 72.9L415.2 74.9L414.7 75.5L417.7 75.4L415.6 73.3L415.6 74.0L410.9 72.1ZM414.6 73.0L419.0 74.4L418.6 75.0L421.5 74.7L419.3 72.7L419.3 73.5L414.8 72.0ZM418.5 72.9L422.8 74.4L422.4 75.0L425.3 74.7L423.1 72.7L423.1 73.5L418.9 72.1ZM430.5 72.9L434.7 74.4L434.3 75.0L437.2 74.8L435.1 72.7L435.0 73.5L430.9 72.1ZM406.5 76.9L410.6 79.1L410.1 79.6L413.1 79.8L411.2 77.5L411.1 78.2L406.9 76.1ZM410.5 76.9L414.7 78.8L414.2 79.3L417.2 79.3L415.2 77.1L415.1 77.9L410.9 76.1ZM418.5 76.9L422.7 78.5L422.3 79.1L425.3 78.9L423.1 76.9L423.1 77.6L418.9 76.1ZM406.5 80.9L411.0 83.4L410.5 84.0L413.4 84.2L411.6 81.9L411.5 82.6L406.9 80.1ZM418.5 80.9L422.7 82.9L422.2 83.5L425.1 83.5L423.2 81.3L423.1 82.0L418.9 80.1ZM406.5 84.9L410.4 87.2L409.9 87.7L412.8 88.0L411.1 85.6L410.9 86.4L406.9 84.1ZM410.5 84.9L414.7 86.8L414.2 87.4L417.1 87.4L415.2 85.2L415.0 86.0L410.9 84.1ZM418.5 84.9L422.6 86.8L422.1 87.4L425.0 87.4L423.1 85.2L423.0 85.9L418.9 84.1ZM422.5 84.9L426.7 87.0L426.3 87.5L429.2 87.6L427.3 85.4L427.2 86.1L422.9 84.1ZM426.5 84.9L430.6 86.9L430.1 87.5L433.1 87.6L431.2 85.4L431.1 86.1L426.9 84.1ZM402.4 88.9L406.7 92.0L406.1 92.4L409.0 93.0L407.5 90.5L407.3 91.2L403.0 88.1ZM406.5 88.9L410.5 91.2L410.0 91.8L412.9 92.1L411.2 89.7L411.0 90.4L406.9 88.1ZM426.5 88.9L430.6 91.1L430.0 91.6L433.0 91.9L431.2 89.5L431.0 90.3L426.9 88.1ZM430.5 88.9L434.5 91.0L434.0 91.5L437.0 91.7L435.1 89.4L435.0 90.1L430.9 88.1ZM406.4 92.9L410.3 95.5L409.7 96.0L412.6 96.6L411.0 94.0L410.8 94.7L407.0 92.1ZM402.4 96.9L406.6 100.3L406.0 100.8L408.9 101.5L407.5 98.9L407.2 99.6L403.0 96.1ZM402.4 100.9L406.3 104.2L405.7 104.6L408.5 105.5L407.3 102.8L406.9 103.5L403.0 100.1ZM406.4 100.9L410.0 103.6L409.5 104.1L412.3 104.8L410.9 102.2L410.6 102.9L407.0 100.1ZM410.4 100.9L414.4 103.5L413.8 104.0L416.7 104.5L415.2 102.0L414.9 102.7L411.0 100.1ZM414.4 100.9L418.3 103.4L417.7 103.9L420.7 104.3L419.0 101.8L418.8 102.6L415.0 100.1ZM426.4 100.9L430.0 103.5L429.4 104.0L432.3 104.7L430.8 102.1L430.6 102.8L427.0 100.1ZM394.4 104.8L398.1 108.8L397.4 109.1L400.2 110.3L399.2 107.5L398.8 108.1L395.0 104.2ZM398.4 104.9L402.4 108.4L401.8 108.8L404.6 109.7L403.4 107.0L403.0 107.7L399.0 104.1ZM402.4 104.9L405.9 107.7L405.3 108.1L408.2 108.9L406.8 106.2L406.5 106.9L403.0 104.1ZM406.4 104.9L410.1 107.7L409.5 108.1L412.4 108.8L410.9 106.2L410.7 106.9L407.0 104.1ZM398.4 108.8L402.0 112.2L401.3 112.6L404.1 113.6L403.0 110.9L402.6 111.5L399.0 108.2ZM422.4 108.9L425.8 111.8L425.2 112.2L428.0 113.1L426.7 110.4L426.4 111.1L423.0 108.1ZM394.4 112.8L398.0 116.8L397.4 117.1L400.1 118.3L399.1 115.5L398.7 116.1L395.0 112.2ZM398.4 112.8L401.6 116.1L400.9 116.5L403.7 117.6L402.6 114.8L402.2 115.4L399.0 112.2ZM406.4 112.9L409.8 115.9L409.2 116.3L412.0 117.3L410.8 114.6L410.4 115.2L407.0 112.1ZM390.3 116.8L393.5 121.1L392.8 121.4L395.4 122.8L394.7 119.9L394.3 120.5L391.1 116.2ZM394.4 116.8L397.7 120.4L397.0 120.7L399.7 121.9L398.8 119.1L398.4 119.7L395.0 116.2ZM394.3 120.8L397.7 124.7L397.0 125.0L399.7 126.2L398.8 123.4L398.4 124.0L395.1 120.2ZM390.3 124.8L393.1 128.8L392.4 129.1L394.9 130.6L394.4 127.7L393.9 128.3L391.1 124.2ZM390.3 128.8L392.9 132.6L392.2 132.9L394.7 134.5L394.2 131.6L393.7 132.1L391.1 128.2ZM386.3 132.7L388.9 137.3L388.2 137.5L390.6 139.3L390.3 136.3L389.8 136.9L387.1 132.3ZM382.3 136.7L384.9 141.5L384.1 141.7L386.5 143.5L386.2 140.5L385.7 141.1L383.1 136.3ZM386.3 136.7L388.7 140.9L387.9 141.1L390.3 142.8L390.0 139.9L389.5 140.4L387.1 136.3ZM390.3 136.7L392.4 140.6L391.7 140.8L394.1 142.5L393.8 139.6L393.3 140.1L391.1 136.3ZM382.3 140.7L384.6 145.6L383.8 145.7L386.1 147.7L386.0 144.7L385.4 145.2L383.1 140.3ZM386.3 140.7L388.6 144.7L387.8 144.9L390.2 146.7L389.9 143.7L389.4 144.3L387.1 140.3ZM382.3 148.7L383.9 153.1L383.2 153.2L385.3 155.3L385.4 152.3L384.8 152.8L383.1 148.3ZM378.3 150.7L380.1 155.7L379.3 155.8L381.4 157.9L381.6 155.0L381.0 155.4L379.1 150.3ZM382.3 150.7L383.9 155.5L383.2 155.6L385.2 157.8L385.4 154.8L384.8 155.2L383.1 150.3ZM414.3 150.7L415.9 155.0L415.2 155.1L417.3 157.2L417.4 154.2L416.8 154.7L415.1 150.3ZM378.3 154.7L380.0 159.5L379.2 159.6L381.2 161.7L381.5 158.8L380.9 159.2L379.1 154.3ZM382.3 154.7L384.1 159.8L383.3 159.8L385.4 162.0L385.6 159.0L385.0 159.5L383.1 154.3ZM382.3 156.7L383.9 161.2L383.2 161.3L385.2 163.4L385.4 160.5L384.8 160.9L383.1 156.3ZM378.2 158.6L379.9 163.8L379.1 163.9L381.1 166.1L381.4 163.1L380.8 163.6L379.2 158.4ZM382.2 158.6L383.5 163.5L382.8 163.5L384.6 165.8L385.1 162.9L384.4 163.2L383.2 158.4ZM378.2 160.6L379.4 165.7L378.7 165.7L380.5 168.0L381.0 165.1L380.4 165.5L379.2 160.4ZM382.2 160.6L383.5 164.9L382.7 164.9L384.6 167.2L385.0 164.3L384.4 164.7L383.2 160.4ZM370.2 162.6L371.3 167.6L370.6 167.6L372.3 170.0L372.9 167.1L372.2 167.5L371.2 162.4ZM378.2 162.6L379.5 167.1L378.7 167.1L380.6 169.4L381.0 166.5L380.4 166.9L379.2 162.4ZM382.2 162.6L383.3 166.9L382.5 166.9L384.3 169.2L384.8 166.3L384.2 166.7L383.2 162.4ZM374.2 164.6L375.3 169.8L374.5 169.7L376.3 172.2L376.9 169.3L376.2 169.6L375.2 164.4ZM378.2 164.6L379.4 169.7L378.7 169.7L380.5 172.1L381.0 169.1L380.4 169.5L379.2 164.4ZM382.2 164.6L383.1 169.0L382.4 169.0L384.1 171.4L384.7 168.5L384.1 168.9L383.2 164.4ZM390.2 164.6L391.3 169.0L390.5 168.9L392.3 171.3L392.8 168.4L392.2 168.7L391.2 164.4ZM370.2 168.6L371.0 173.7L370.2 173.6L371.8 176.1L372.6 173.2L371.9 173.5L371.2 168.4ZM374.2 168.6L375.0 173.9L374.2 173.8L375.8 176.3L376.6 173.4L375.9 173.7L375.2 168.4ZM378.2 168.6L379.0 173.2L378.2 173.1L379.8 175.6L380.6 172.7L379.9 173.0L379.2 168.4ZM370.2 172.5L370.7 177.8L370.0 177.7L371.4 180.3L372.4 177.5L371.7 177.7L371.2 172.5ZM374.2 172.5L374.6 178.0L373.9 177.9L375.2 180.5L376.3 177.7L375.5 178.0L375.2 172.5ZM378.2 172.6L378.9 177.6L378.2 177.5L379.7 180.1L380.5 177.2L379.9 177.5L379.2 172.4ZM382.2 172.5L382.7 176.9L381.9 176.8L383.4 179.4L384.3 176.6L383.6 176.9L383.2 172.5ZM374.2 174.5L374.5 180.0L373.8 179.9L375.1 182.5L376.2 179.7L375.5 180.0L375.2 174.5ZM378.2 174.5L378.7 179.3L378.0 179.2L379.5 181.8L380.4 179.0L379.7 179.2L379.2 174.5ZM390.2 174.5L390.5 179.3L389.7 179.2L391.0 181.8L392.1 179.1L391.4 179.3L391.2 174.5ZM366.2 178.5L366.4 184.0L365.7 183.8L367.0 186.5L368.1 183.8L367.4 184.0L367.2 178.5ZM374.2 178.5L374.3 183.5L373.6 183.3L374.8 185.9L376.0 183.2L375.3 183.4L375.2 178.5ZM366.2 182.5L366.1 187.5L365.4 187.2L366.5 190.0L367.8 187.3L367.0 187.5L367.2 182.5ZM370.2 182.5L370.0 187.9L369.2 187.6L370.3 190.4L371.6 187.7L370.9 187.9L371.2 182.5ZM374.2 182.5L374.2 187.0L373.4 186.8L374.6 189.5L375.8 186.8L375.1 187.0L375.2 182.5ZM366.2 186.5L365.8 191.7L365.1 191.5L366.1 194.2L367.5 191.6L366.8 191.8L367.2 186.5ZM374.2 186.5L373.8 191.1L373.1 190.9L374.0 193.7L375.5 191.1L374.7 191.2L375.2 186.5ZM402.2 191.5L401.9 196.2L401.2 195.9L402.1 198.7L403.5 196.1L402.8 196.3L403.2 191.5ZM394.2 193.4L393.6 197.8L392.9 197.5L393.7 200.3L395.3 197.8L394.6 197.9L395.2 193.6ZM378.2 199.4L377.4 204.2L376.8 203.9L377.5 206.7L379.1 204.3L378.4 204.4L379.2 199.6ZM382.2 199.4L381.3 203.8L380.7 203.4L381.3 206.3L383.0 203.9L382.3 204.0L383.2 199.6ZM378.2 201.4L377.5 206.1L376.8 205.8L377.6 208.6L379.2 206.1L378.4 206.2L379.2 201.6ZM382.2 201.4L381.4 205.7L380.7 205.4L381.4 208.3L383.1 205.9L382.3 205.9L383.2 201.6ZM386.2 201.4L385.3 205.7L384.7 205.4L385.3 208.3L387.0 205.9L386.3 205.9L387.2 201.6ZM386.2 203.4L385.4 207.8L384.8 207.4L385.4 210.3L387.1 207.9L386.4 207.9L387.2 203.6ZM390.2 203.4L389.4 208.4L388.8 208.1L389.5 210.9L391.1 208.4L390.4 208.5L391.2 203.6ZM401.2 206.4L400.4 210.8L399.7 210.5L400.4 213.4L402.1 211.0L401.3 211.0L402.2 206.6Z" fill="#ed6925"/>
<path d="M394.4 42.8L398.2 46.9L397.5 47.3L400.2 48.4L399.3 45.6L398.9 46.3L395.0 42.2ZM394.4 46.8L398.7 50.8L398.0 51.2L400.8 52.2L399.7 49.5L399.3 50.1L395.0 46.2ZM398.4 46.9L402.8 50.9L402.2 51.3L405.0 52.2L403.8 49.5L403.5 50.2L399.0 46.1ZM402.4 46.9L407.0 50.7L406.3 51.1L409.2 52.0L407.9 49.3L407.6 50.0L403.0 46.1ZM402.4 50.9L407.6 54.9L407.0 55.4L409.8 56.1L408.5 53.5L408.2 54.2L403.0 50.1ZM406.5 50.9L411.2 53.8L410.7 54.3L413.6 54.7L412.0 52.3L411.7 53.0L406.9 50.1ZM394.4 52.9L399.2 57.2L398.6 57.6L401.4 58.5L400.2 55.8L399.9 56.5L395.0 52.1ZM398.4 52.8L403.2 57.3L402.6 57.7L405.4 58.6L404.2 55.9L403.8 56.6L399.0 52.2ZM402.4 52.9L407.1 56.6L406.5 57.1L409.4 57.8L408.0 55.2L407.7 55.9L403.0 52.1ZM406.4 52.9L411.2 55.9L410.6 56.4L413.5 56.9L411.9 54.4L411.7 55.1L407.0 52.1ZM406.5 56.9L411.4 59.8L410.8 60.3L413.8 60.6L412.0 58.2L411.9 58.9L406.9 56.1ZM402.4 60.9L407.6 64.8L407.0 65.2L409.9 65.9L408.4 63.3L408.2 64.0L403.0 60.1ZM402.4 64.9L407.8 68.6L407.2 69.1L410.2 69.6L408.6 67.1L408.4 67.8L403.0 64.1ZM406.5 64.9L411.5 67.7L411.0 68.2L413.9 68.4L412.1 66.1L411.9 66.8L406.9 64.1ZM402.4 68.9L407.9 72.5L407.3 73.0L410.3 73.4L408.7 71.0L408.4 71.7L403.0 68.1ZM398.4 72.9L403.5 77.2L402.9 77.6L405.7 78.4L404.4 75.8L404.1 76.4L399.0 72.1ZM402.4 72.9L407.7 76.4L407.1 76.9L410.0 77.4L408.5 74.9L408.2 75.6L403.0 72.1ZM398.4 76.9L403.5 80.5L402.9 81.0L405.8 81.6L404.3 79.0L404.0 79.8L399.0 76.1ZM402.4 76.9L407.8 80.3L407.2 80.8L410.1 81.3L408.5 78.8L408.3 79.5L403.0 76.1ZM398.4 80.9L403.7 84.9L403.1 85.3L405.9 86.0L404.5 83.4L404.2 84.1L399.0 80.1ZM402.4 80.9L407.2 83.9L406.6 84.4L409.5 84.8L407.9 82.4L407.7 83.1L403.0 80.1ZM394.4 84.9L399.2 89.2L398.6 89.6L401.4 90.6L400.2 87.9L399.9 88.5L395.0 84.1ZM398.4 84.9L403.5 88.9L402.9 89.4L405.8 90.1L404.4 87.5L404.1 88.2L399.0 84.1ZM402.4 84.9L407.3 88.0L406.7 88.5L409.6 88.9L408.0 86.4L407.8 87.1L403.0 84.1ZM394.4 88.9L399.4 93.3L398.7 93.7L401.5 94.6L400.3 91.9L400.0 92.6L395.0 88.1ZM398.4 88.9L403.1 92.9L402.5 93.3L405.3 94.2L404.0 91.5L403.7 92.2L399.0 88.1ZM394.4 92.9L399.3 97.2L398.7 97.6L401.5 98.5L400.2 95.8L399.9 96.5L395.0 92.1ZM398.4 92.9L403.3 96.5L402.7 96.9L405.6 97.6L404.1 95.0L403.8 95.7L399.0 92.1ZM402.4 92.9L407.4 96.3L406.8 96.8L409.7 97.3L408.2 94.8L407.9 95.5L403.0 92.1ZM394.4 96.8L399.1 101.4L398.5 101.8L401.3 102.8L400.2 100.1L399.8 100.7L395.0 96.2ZM398.4 96.9L403.1 100.7L402.4 101.1L405.3 101.9L404.0 99.3L403.7 100.0L399.0 96.1ZM394.4 100.8L399.0 105.5L398.4 105.8L401.2 106.9L400.1 104.1L399.7 104.8L395.0 100.2ZM398.4 100.8L402.5 104.8L401.9 105.2L404.6 106.2L403.5 103.5L403.2 104.1L399.0 100.2ZM386.3 104.8L390.4 110.0L389.7 110.3L392.3 111.7L391.6 108.8L391.1 109.4L387.1 104.2ZM390.3 108.8L394.3 113.3L393.6 113.7L396.3 114.9L395.4 112.1L395.0 112.7L391.1 108.2ZM394.4 108.8L398.5 113.3L397.8 113.6L400.5 114.8L399.6 112.0L399.2 112.6L395.0 108.2ZM386.3 112.8L390.3 118.1L389.6 118.4L392.2 119.8L391.5 116.9L391.1 117.5L387.1 112.2ZM390.3 112.8L394.2 117.3L393.5 117.6L396.2 118.8L395.4 116.0L394.9 116.6L391.1 112.2ZM386.3 116.8L390.2 122.1L389.5 122.4L392.1 123.8L391.5 121.0L391.0 121.5L387.1 116.2ZM382.3 120.8L385.7 125.7L385.0 126.0L387.6 127.5L387.0 124.6L386.5 125.2L383.1 120.2ZM386.3 120.8L389.9 125.8L389.2 126.1L391.7 127.6L391.2 124.7L390.7 125.3L387.1 120.2ZM390.3 120.8L393.9 125.3L393.2 125.6L395.8 127.0L395.1 124.1L394.7 124.7L391.1 120.2ZM382.3 124.8L385.5 129.8L384.8 130.0L387.2 131.6L386.8 128.7L386.3 129.3L383.1 124.2ZM386.3 124.8L389.7 129.9L389.0 130.2L391.5 131.8L391.0 128.8L390.5 129.4L387.1 124.2ZM378.3 128.7L381.5 134.1L380.8 134.3L383.2 136.0L382.9 133.0L382.3 133.6L379.1 128.3ZM382.3 128.8L385.5 133.5L384.8 133.8L387.3 135.4L386.8 132.4L386.3 133.0L383.1 128.2ZM386.3 128.8L389.4 133.5L388.7 133.8L391.2 135.4L390.7 132.4L390.2 133.0L387.1 128.2ZM378.3 132.7L381.4 138.6L380.7 138.7L383.1 140.5L382.8 137.6L382.3 138.1L379.1 132.3ZM382.3 132.7L385.3 137.7L384.5 137.9L387.0 139.6L386.6 136.6L386.1 137.2L383.1 132.3ZM378.3 136.7L380.8 142.0L380.1 142.1L382.3 144.0L382.3 141.1L381.7 141.6L379.1 136.3ZM374.3 140.7L377.0 146.3L376.3 146.4L378.5 148.3L378.4 145.4L377.9 145.9L375.1 140.3ZM378.3 140.7L380.9 146.2L380.2 146.3L382.5 148.2L382.4 145.2L381.8 145.7L379.1 140.3ZM374.3 148.7L376.6 154.5L375.9 154.5L378.0 156.6L378.1 153.6L377.5 154.1L375.1 148.3ZM378.3 148.7L380.2 153.9L379.5 154.0L381.5 156.1L381.7 153.1L381.1 153.6L379.1 148.3ZM374.3 150.7L376.2 156.3L375.5 156.4L377.5 158.5L377.8 155.6L377.1 156.0L375.1 150.3ZM374.2 154.6L375.9 160.1L375.2 160.1L377.2 162.3L377.5 159.4L376.9 159.8L375.2 154.4ZM370.2 156.6L371.8 162.0L371.1 162.0L373.0 164.3L373.4 161.4L372.7 161.8L371.2 156.4ZM374.2 156.6L375.7 162.1L374.9 162.1L376.8 164.4L377.3 161.5L376.6 161.9L375.2 156.4ZM378.2 156.6L379.9 162.2L379.1 162.2L381.0 164.4L381.4 161.5L380.8 161.9L379.2 156.4ZM370.2 158.6L371.9 164.5L371.1 164.5L373.0 166.8L373.4 163.9L372.8 164.3L371.2 158.4ZM374.2 158.6L375.8 164.4L375.1 164.4L376.9 166.7L377.4 163.7L376.7 164.1L375.2 158.4ZM370.2 160.6L371.6 166.1L370.9 166.1L372.7 168.4L373.2 165.5L372.5 165.9L371.2 160.4ZM374.2 160.6L375.7 166.5L375.0 166.5L376.8 168.8L377.3 165.9L376.6 166.3L375.2 160.4ZM374.2 162.6L375.5 168.3L374.8 168.2L376.6 170.6L377.1 167.7L376.5 168.1L375.2 162.4ZM370.2 164.6L371.5 170.5L370.7 170.5L372.5 172.9L373.1 170.0L372.4 170.3L371.2 164.4ZM366.2 172.5L366.7 178.6L366.0 178.5L367.4 181.1L368.4 178.3L367.6 178.6L367.2 172.5ZM366.2 174.5L366.6 180.2L365.8 180.1L367.2 182.7L368.2 179.9L367.5 180.2L367.2 174.5ZM370.2 174.5L370.5 180.1L369.7 180.0L371.0 182.6L372.1 179.9L371.4 180.1L371.2 174.5ZM370.2 178.5L370.3 184.2L369.6 184.0L370.8 186.7L372.0 184.0L371.3 184.2L371.2 178.5ZM362.2 186.5L361.9 192.2L361.2 192.0L362.2 194.7L363.6 192.1L362.8 192.3L363.2 186.5ZM370.2 186.5L370.0 192.0L369.2 191.8L370.3 194.6L371.6 191.9L370.9 192.1L371.2 186.5Z" fill="#fb9b06"/>
<path d="M394.4 50.9L399.5 55.4L398.8 55.8L401.6 56.7L400.4 54.0L400.1 54.6L395.0 50.1ZM398.4 50.9L403.8 55.5L403.2 56.0L406.0 56.8L404.8 54.1L404.4 54.8L399.0 50.1ZM394.4 56.9L400.0 61.7L399.4 62.1L402.2 62.9L401.0 60.3L400.7 60.9L395.0 56.1ZM398.4 56.9L404.0 61.7L403.3 62.2L406.2 63.0L404.9 60.4L404.6 61.0L399.0 56.1ZM402.4 56.9L407.8 61.1L407.2 61.6L410.1 62.3L408.7 59.7L408.4 60.4L403.0 56.1ZM394.4 60.8L399.8 65.9L399.2 66.3L402.0 67.3L400.8 64.6L400.5 65.2L395.0 60.2ZM398.4 60.9L403.9 65.7L403.3 66.1L406.1 67.0L404.9 64.3L404.6 65.0L399.0 60.1ZM394.4 64.9L399.9 69.6L399.3 70.0L402.2 70.8L400.9 68.1L400.6 68.8L395.0 64.1ZM398.4 64.9L404.0 69.1L403.4 69.5L406.3 70.2L404.8 67.6L404.6 68.3L399.0 64.1ZM394.4 68.9L399.7 73.4L399.1 73.9L401.9 74.7L400.7 72.0L400.3 72.7L395.0 68.1ZM398.4 68.9L404.2 73.2L403.6 73.7L406.4 74.4L405.0 71.8L404.7 72.5L399.0 68.1ZM390.4 72.9L396.1 77.5L395.5 77.9L398.4 78.7L397.0 76.0L396.7 76.7L391.0 72.1ZM394.4 72.8L399.7 77.8L399.1 78.2L401.9 79.2L400.7 76.5L400.4 77.1L395.0 72.2ZM390.4 76.9L395.9 81.7L395.3 82.1L398.1 83.0L396.9 80.3L396.5 81.0L391.0 76.1ZM390.4 80.8L395.4 85.7L394.8 86.1L397.6 87.1L396.5 84.4L396.1 85.0L391.0 80.2ZM394.4 80.9L399.9 85.4L399.3 85.8L402.2 86.6L400.8 83.9L400.5 84.6L395.0 80.1ZM390.4 84.8L395.7 89.8L395.1 90.2L397.9 91.2L396.7 88.4L396.4 89.1L391.0 84.2ZM390.4 88.8L395.4 93.9L394.8 94.2L397.5 95.3L396.5 92.5L396.1 93.2L391.0 88.2ZM386.4 92.8L391.7 98.1L391.1 98.5L393.8 99.5L392.8 96.8L392.4 97.4L387.0 92.2ZM390.4 92.8L395.4 97.9L394.7 98.3L397.4 99.4L396.4 96.6L396.0 97.2L391.0 92.2ZM386.4 96.8L391.3 102.0L390.6 102.4L393.3 103.5L392.3 100.7L392.0 101.4L387.0 96.2ZM390.4 96.8L395.0 101.9L394.3 102.2L397.1 103.4L396.1 100.6L395.7 101.2L391.0 96.2ZM386.3 100.8L391.0 106.3L390.4 106.6L393.0 107.9L392.2 105.1L391.8 105.7L387.1 100.2ZM390.3 100.8L394.8 106.0L394.1 106.3L396.8 107.5L395.9 104.7L395.5 105.3L391.1 100.2ZM390.3 104.8L394.9 109.9L394.3 110.2L397.0 111.4L396.0 108.6L395.6 109.3L391.1 104.2ZM382.3 108.8L386.8 114.3L386.1 114.6L388.8 115.9L388.0 113.1L387.6 113.7L383.1 108.2ZM386.3 108.8L391.0 114.3L390.3 114.6L393.0 115.9L392.1 113.0L391.7 113.7L387.1 108.2ZM382.3 112.8L386.3 118.6L385.6 118.9L388.1 120.4L387.6 117.5L387.1 118.1L383.1 112.2ZM382.3 116.8L386.2 122.3L385.5 122.5L388.0 124.1L387.4 121.2L386.9 121.7L383.1 116.2ZM378.3 124.7L382.0 130.8L381.3 131.0L383.8 132.7L383.4 129.8L382.8 130.3L379.1 124.3Z" fill="#f7d13d"/>
<path d="M394.4 76.9L400.5 81.9L399.9 82.4L402.7 83.2L401.4 80.5L401.1 81.2L395.0 76.1Z" fill="#fcffa4"/>
<path d="M398.9 28.8L402.7 34.2L402.0 34.5L404.5 36.0L403.9 33.1L403.5 33.7L399.7 28.2Z" fill="#781c6d"/>
<path d="M400.2 24.9L401.7 25.9L401.1 26.4L404.0 27.0L402.5 24.5L402.2 25.2L400.8 24.1Z" fill="#a52c60"/>
<path d="M402.1 33.3L405.2 38.2L404.5 38.4L407.0 40.0L406.5 37.1L406.0 37.6L402.9 32.7Z" fill="#4a0c6b"/>
<path d="M398.4 36.3L401.8 41.6L401.0 41.8L403.5 43.5L403.1 40.6L402.6 41.1L399.2 35.7Z" fill="#a52c60"/>
<path d="M418.8 38.5L419.9 38.0L420.0 38.8L421.4 36.8L419.0 36.6L419.5 37.1L418.4 37.7Z" fill="#fb9b06"/>
<path d="M415.5 43.0L417.1 42.9L417.0 43.6L419.5 42.2L416.8 41.2L417.1 41.9L415.5 42.0Z" fill="#cf4446"/>
<path d="M432.6 45.7L433.9 45.2L433.9 46.0L435.6 44.0L433.0 43.7L433.5 44.3L432.2 44.9Z" fill="#a52c60"/>
<path d="M428.1 49.5L430.0 49.7L429.7 50.4L432.5 49.6L430.0 48.0L430.1 48.8L428.3 48.5Z" fill="#781c6d"/>
<path d="M437.6 41.5L438.2 41.0L438.5 41.7L438.6 39.9L436.8 40.0L437.5 40.3L437.0 40.9Z" fill="#a52c60"/>
<path d="M436.1 47.5L437.5 47.3L437.4 48.0L439.5 46.5L437.0 45.6L437.3 46.3L435.9 46.5Z" fill="#a52c60"/>
<path d="M443.6 51.3L444.4 52.5L443.7 52.7L446.0 54.0L445.7 51.4L445.2 51.9L444.4 50.7Z" fill="#781c6d"/>
<path d="M388.4 5.4 L390.0 7.8 L393.2 10.2 L395.2 11.4 L395.6 13.8 L398.0 15.0 L398.0 17.8 L398.8 21.8 L400.4 23.4 L404.0 23.4 L406.4 23.0 L410.0 23.6 L413.2 24.4 L416.4 27.2 L418.8 28.4 L422.0 29.0 L424.4 28.4 L426.0 30.4 L427.2 32.8 L429.2 32.4 L432.4 34.0 L435.6 36.0 L438.6 39.0 L440.6 41.8 L441.0 45.0 L442.2 47.4 L443.8 51.0 L445.6 54.8 L448.4 56.8 L447.2 59.6 L449.2 62.0 L451.6 64.8 L452.8 68.0 L455.4 70.0 L456.6 72.8 L455.4 74.4 L458.2 76.0 L459.4 79.2 L460.6 82.4 L461.4 84.8" fill="none" stroke="#0a0a0a" stroke-width="0.95" stroke-linejoin="round"/>
<path d="M442.6 47.4 H460.2" stroke="#666" stroke-width="0.5" stroke-dasharray="0.8 0.7"/>
<path d="M402.6 29.0 L406.5 29.3" stroke="#111" stroke-width="0.9" stroke-linecap="round"/>
<path d="M407.5 28.9 L411.2 28.6" stroke="#111" stroke-width="0.9" stroke-linecap="round"/>
<path d="M410.1 38.7 L412.3 39.6" stroke="#111" stroke-width="0.9" stroke-linecap="round"/>
<path d="M424.0 35.7 L427.0 37.5" stroke="#111" stroke-width="0.9" stroke-linecap="round"/>
<path d="M424.0 41.7 L426.4 43.5" stroke="#111" stroke-width="0.9" stroke-linecap="round"/>
<ellipse cx="429.7" cy="92.8" rx="0.9" ry="1.3" fill="#111"/>
</g>
<rect x="30.20" y="5.40" width="121.40" height="221.20" fill="none" stroke="#262626" stroke-width="0.7"/>
<rect x="180.40" y="5.40" width="121.20" height="221.20" fill="none" stroke="#262626" stroke-width="0.7"/>
<rect x="340.40" y="5.40" width="121.20" height="221.20" fill="none" stroke="#262626" stroke-width="0.7"/>
<text x="27.20" y="18.95" font-size="7.00" text-anchor="end" fill="#1a1a1a" stroke="#1a1a1a" stroke-width="0.22" font-family="Liberation Sans, sans-serif"  textLength="16.0" lengthAdjust="spacingAndGlyphs">35°N</text>
<text x="27.20" y="50.88" font-size="7.00" text-anchor="end" fill="#1a1a1a" stroke="#1a1a1a" stroke-width="0.22" font-family="Liberation Sans, sans-serif"  textLength="23.0" lengthAdjust="spacingAndGlyphs">32.5°N</text>
<text x="27.20" y="82.81" font-size="7.00" text-anchor="end" fill="#1a1a1a" stroke="#1a1a1a" stroke-width="0.22" font-family="Liberation Sans, sans-serif"  textLength="16.0" lengthAdjust="spacingAndGlyphs">30°N</text>
<text x="27.20" y="114.74" font-size="7.00" text-anchor="end" fill="#1a1a1a" stroke="#1a1a1a" stroke-width="0.22" font-family="Liberation Sans, sans-serif"  textLength="23.0" lengthAdjust="spacingAndGlyphs">27.5°N</text>
<text x="27.20" y="146.67" font-size="7.00" text-anchor="end" fill="#1a1a1a" stroke="#1a1a1a" stroke-width="0.22" font-family="Liberation Sans, sans-serif"  textLength="16.0" lengthAdjust="spacingAndGlyphs">25°N</text>
<text x="27.20" y="178.60" font-size="7.00" text-anchor="end" fill="#1a1a1a" stroke="#1a1a1a" stroke-width="0.22" font-family="Liberation Sans, sans-serif"  textLength="23.0" lengthAdjust="spacingAndGlyphs">22.5°N</text>
<text x="27.20" y="210.53" font-size="7.00" text-anchor="end" fill="#1a1a1a" stroke="#1a1a1a" stroke-width="0.22" font-family="Liberation Sans, sans-serif"  textLength="16.0" lengthAdjust="spacingAndGlyphs">20°N</text>
<text x="40.10" y="235.10" font-size="7.00" text-anchor="middle" fill="#1a1a1a" stroke="#1a1a1a" stroke-width="0.22" font-family="Liberation Sans, sans-serif"  textLength="27.3" lengthAdjust="spacingAndGlyphs">124.5°W</text>
<text x="77.60" y="235.10" font-size="7.00" text-anchor="middle" fill="#1a1a1a" stroke="#1a1a1a" stroke-width="0.22" font-family="Liberation Sans, sans-serif"  textLength="27.3" lengthAdjust="spacingAndGlyphs">121.5°W</text>
<text x="115.10" y="235.10" font-size="7.00" text-anchor="middle" fill="#1a1a1a" stroke="#1a1a1a" stroke-width="0.22" font-family="Liberation Sans, sans-serif"  textLength="27.3" lengthAdjust="spacingAndGlyphs">118.5°W</text>
<text x="190.30" y="235.10" font-size="7.00" text-anchor="middle" fill="#1a1a1a" stroke="#1a1a1a" stroke-width="0.22" font-family="Liberation Sans, sans-serif"  textLength="27.3" lengthAdjust="spacingAndGlyphs">124.5°W</text>
<text x="227.80" y="235.10" font-size="7.00" text-anchor="middle" fill="#1a1a1a" stroke="#1a1a1a" stroke-width="0.22" font-family="Liberation Sans, sans-serif"  textLength="27.3" lengthAdjust="spacingAndGlyphs">121.5°W</text>
<text x="265.30" y="235.10" font-size="7.00" text-anchor="middle" fill="#1a1a1a" stroke="#1a1a1a" stroke-width="0.22" font-family="Liberation Sans, sans-serif"  textLength="27.3" lengthAdjust="spacingAndGlyphs">118.5°W</text>
<text x="350.30" y="235.10" font-size="7.00" text-anchor="middle" fill="#1a1a1a" stroke="#1a1a1a" stroke-width="0.22" font-family="Liberation Sans, sans-serif"  textLength="27.3" lengthAdjust="spacingAndGlyphs">124.5°W</text>
<text x="387.80" y="235.10" font-size="7.00" text-anchor="middle" fill="#1a1a1a" stroke="#1a1a1a" stroke-width="0.22" font-family="Liberation Sans, sans-serif"  textLength="27.3" lengthAdjust="spacingAndGlyphs">121.5°W</text>
<text x="425.30" y="235.10" font-size="7.00" text-anchor="middle" fill="#1a1a1a" stroke="#1a1a1a" stroke-width="0.22" font-family="Liberation Sans, sans-serif"  textLength="27.3" lengthAdjust="spacingAndGlyphs">118.5°W</text>
<text x="40.80" y="19.00" font-size="10.20" text-anchor="start" fill="#ff1414" stroke="#ff1414" stroke-width="0" font-family="Liberation Sans, sans-serif"  textLength="12.8" lengthAdjust="spacingAndGlyphs">(a)</text>
<text x="191.00" y="19.00" font-size="10.20" text-anchor="start" fill="#ff1414" stroke="#ff1414" stroke-width="0" font-family="Liberation Sans, sans-serif"  textLength="12.8" lengthAdjust="spacingAndGlyphs">(b)</text>
<text x="351.00" y="19.00" font-size="10.20" text-anchor="start" fill="#ff1414" stroke="#ff1414" stroke-width="0" font-family="Liberation Sans, sans-serif"  textLength="12.8" lengthAdjust="spacingAndGlyphs">(c)</text>
<rect x="304.20" y="55.40" width="7" height="12.60" fill="#fcffa4"/>
<rect x="304.20" y="67.50" width="7" height="12.60" fill="#f7d13d"/>
<rect x="304.20" y="79.60" width="7" height="12.60" fill="#fb9b06"/>
<rect x="304.20" y="91.70" width="7" height="12.60" fill="#ed6925"/>
<rect x="304.20" y="103.80" width="7" height="12.60" fill="#cf4446"/>
<rect x="304.20" y="115.90" width="7" height="12.60" fill="#a52c60"/>
<rect x="304.20" y="128.00" width="7" height="12.60" fill="#781c6d"/>
<rect x="304.20" y="140.10" width="7" height="12.60" fill="#4a0c6b"/>
<rect x="304.20" y="152.20" width="7" height="12.60" fill="#1b0c41"/>
<rect x="304.20" y="164.30" width="7" height="12.60" fill="#000004"/>
<path d="M304.20 55.50 L307.70 49.50 L311.20 55.50 Z" fill="#fcffa4"/>
<path d="M304.20 176.30 L307.70 182.40 L311.20 176.30 Z" fill="#000004"/>
<path d="M304.20 55.40 L307.70 49.50 L311.20 55.40 L311.20 176.40 L307.70 182.40 L304.20 176.40 Z" fill="none" stroke="#262626" stroke-width="0.6" stroke-linejoin="miter"/>
<path d="M311.20 176.40 h2" stroke="#262626" stroke-width="0.6"/>
<text x="315.80" y="178.90" font-size="7.00" text-anchor="start" fill="#1a1a1a" stroke="#1a1a1a" stroke-width="0.22" font-family="Liberation Sans, sans-serif"  textLength="4.0" lengthAdjust="spacingAndGlyphs">0</text>
<path d="M311.20 164.30 h2" stroke="#262626" stroke-width="0.6"/>
<text x="315.80" y="166.80" font-size="7.00" text-anchor="start" fill="#1a1a1a" stroke="#1a1a1a" stroke-width="0.22" font-family="Liberation Sans, sans-serif"  textLength="4.0" lengthAdjust="spacingAndGlyphs">1</text>
<path d="M311.20 152.20 h2" stroke="#262626" stroke-width="0.6"/>
<text x="315.80" y="154.70" font-size="7.00" text-anchor="start" fill="#1a1a1a" stroke="#1a1a1a" stroke-width="0.22" font-family="Liberation Sans, sans-serif"  textLength="4.0" lengthAdjust="spacingAndGlyphs">2</text>
<path d="M311.20 140.10 h2" stroke="#262626" stroke-width="0.6"/>
<text x="315.80" y="142.60" font-size="7.00" text-anchor="start" fill="#1a1a1a" stroke="#1a1a1a" stroke-width="0.22" font-family="Liberation Sans, sans-serif"  textLength="4.0" lengthAdjust="spacingAndGlyphs">3</text>
<path d="M311.20 128.00 h2" stroke="#262626" stroke-width="0.6"/>
<text x="315.80" y="130.50" font-size="7.00" text-anchor="start" fill="#1a1a1a" stroke="#1a1a1a" stroke-width="0.22" font-family="Liberation Sans, sans-serif"  textLength="4.0" lengthAdjust="spacingAndGlyphs">4</text>
<path d="M311.20 115.90 h2" stroke="#262626" stroke-width="0.6"/>
<text x="315.80" y="118.40" font-size="7.00" text-anchor="start" fill="#1a1a1a" stroke="#1a1a1a" stroke-width="0.22" font-family="Liberation Sans, sans-serif"  textLength="4.0" lengthAdjust="spacingAndGlyphs">5</text>
<path d="M311.20 103.80 h2" stroke="#262626" stroke-width="0.6"/>
<text x="315.80" y="106.30" font-size="7.00" text-anchor="start" fill="#1a1a1a" stroke="#1a1a1a" stroke-width="0.22" font-family="Liberation Sans, sans-serif"  textLength="4.0" lengthAdjust="spacingAndGlyphs">6</text>
<path d="M311.20 91.70 h2" stroke="#262626" stroke-width="0.6"/>
<text x="315.80" y="94.20" font-size="7.00" text-anchor="start" fill="#1a1a1a" stroke="#1a1a1a" stroke-width="0.22" font-family="Liberation Sans, sans-serif"  textLength="4.0" lengthAdjust="spacingAndGlyphs">7</text>
<path d="M311.20 79.60 h2" stroke="#262626" stroke-width="0.6"/>
<text x="315.80" y="82.10" font-size="7.00" text-anchor="start" fill="#1a1a1a" stroke="#1a1a1a" stroke-width="0.22" font-family="Liberation Sans, sans-serif"  textLength="4.0" lengthAdjust="spacingAndGlyphs">8</text>
<path d="M311.20 67.50 h2" stroke="#262626" stroke-width="0.6"/>
<text x="315.80" y="70.00" font-size="7.00" text-anchor="start" fill="#1a1a1a" stroke="#1a1a1a" stroke-width="0.22" font-family="Liberation Sans, sans-serif"  textLength="4.0" lengthAdjust="spacingAndGlyphs">9</text>
<path d="M311.20 55.40 h2" stroke="#262626" stroke-width="0.6"/>
<text x="315.80" y="57.90" font-size="7.00" text-anchor="start" fill="#1a1a1a" stroke="#1a1a1a" stroke-width="0.22" font-family="Liberation Sans, sans-serif"  textLength="8.0" lengthAdjust="spacingAndGlyphs">10</text>
<rect x="464.30" y="55.40" width="7" height="12.60" fill="#fcffa4"/>
<rect x="464.30" y="67.50" width="7" height="12.60" fill="#f7d13d"/>
<rect x="464.30" y="79.60" width="7" height="12.60" fill="#fb9b06"/>
<rect x="464.30" y="91.70" width="7" height="12.60" fill="#ed6925"/>
<rect x="464.30" y="103.80" width="7" height="12.60" fill="#cf4446"/>
<rect x="464.30" y="115.90" width="7" height="12.60" fill="#a52c60"/>
<rect x="464.30" y="128.00" width="7" height="12.60" fill="#781c6d"/>
<rect x="464.30" y="140.10" width="7" height="12.60" fill="#4a0c6b"/>
<rect x="464.30" y="152.20" width="7" height="12.60" fill="#1b0c41"/>
<rect x="464.30" y="164.30" width="7" height="12.60" fill="#000004"/>
<path d="M464.30 55.50 L467.80 49.50 L471.30 55.50 Z" fill="#fcffa4"/>
<path d="M464.30 176.30 L467.80 182.40 L471.30 176.30 Z" fill="#000004"/>
<path d="M464.30 55.40 L467.80 49.50 L471.30 55.40 L471.30 176.40 L467.80 182.40 L464.30 176.40 Z" fill="none" stroke="#262626" stroke-width="0.6" stroke-linejoin="miter"/>
<path d="M471.30 176.40 h2" stroke="#262626" stroke-width="0.6"/>
<text x="475.90" y="178.90" font-size="7.00" text-anchor="start" fill="#1a1a1a" stroke="#1a1a1a" stroke-width="0.22" font-family="Liberation Sans, sans-serif"  textLength="4.0" lengthAdjust="spacingAndGlyphs">0</text>
<path d="M471.30 164.30 h2" stroke="#262626" stroke-width="0.6"/>
<text x="475.90" y="166.80" font-size="7.00" text-anchor="start" fill="#1a1a1a" stroke="#1a1a1a" stroke-width="0.22" font-family="Liberation Sans, sans-serif"  textLength="4.0" lengthAdjust="spacingAndGlyphs">1</text>
<path d="M471.30 152.20 h2" stroke="#262626" stroke-width="0.6"/>
<text x="475.90" y="154.70" font-size="7.00" text-anchor="start" fill="#1a1a1a" stroke="#1a1a1a" stroke-width="0.22" font-family="Liberation Sans, sans-serif"  textLength="4.0" lengthAdjust="spacingAndGlyphs">2</text>
<path d="M471.30 140.10 h2" stroke="#262626" stroke-width="0.6"/>
<text x="475.90" y="142.60" font-size="7.00" text-anchor="start" fill="#1a1a1a" stroke="#1a1a1a" stroke-width="0.22" font-family="Liberation Sans, sans-serif"  textLength="4.0" lengthAdjust="spacingAndGlyphs">3</text>
<path d="M471.30 128.00 h2" stroke="#262626" stroke-width="0.6"/>
<text x="475.90" y="130.50" font-size="7.00" text-anchor="start" fill="#1a1a1a" stroke="#1a1a1a" stroke-width="0.22" font-family="Liberation Sans, sans-serif"  textLength="4.0" lengthAdjust="spacingAndGlyphs">4</text>
<path d="M471.30 115.90 h2" stroke="#262626" stroke-width="0.6"/>
<text x="475.90" y="118.40" font-size="7.00" text-anchor="start" fill="#1a1a1a" stroke="#1a1a1a" stroke-width="0.22" font-family="Liberation Sans, sans-serif"  textLength="4.0" lengthAdjust="spacingAndGlyphs">5</text>
<path d="M471.30 103.80 h2" stroke="#262626" stroke-width="0.6"/>
<text x="475.90" y="106.30" font-size="7.00" text-anchor="start" fill="#1a1a1a" stroke="#1a1a1a" stroke-width="0.22" font-family="Liberation Sans, sans-serif"  textLength="4.0" lengthAdjust="spacingAndGlyphs">6</text>
<path d="M471.30 91.70 h2" stroke="#262626" stroke-width="0.6"/>
<text x="475.90" y="94.20" font-size="7.00" text-anchor="start" fill="#1a1a1a" stroke="#1a1a1a" stroke-width="0.22" font-family="Liberation Sans, sans-serif"  textLength="4.0" lengthAdjust="spacingAndGlyphs">7</text>
<path d="M471.30 79.60 h2" stroke="#262626" stroke-width="0.6"/>
<text x="475.90" y="82.10" font-size="7.00" text-anchor="start" fill="#1a1a1a" stroke="#1a1a1a" stroke-width="0.22" font-family="Liberation Sans, sans-serif"  textLength="4.0" lengthAdjust="spacingAndGlyphs">8</text>
<path d="M471.30 67.50 h2" stroke="#262626" stroke-width="0.6"/>
<text x="475.90" y="70.00" font-size="7.00" text-anchor="start" fill="#1a1a1a" stroke="#1a1a1a" stroke-width="0.22" font-family="Liberation Sans, sans-serif"  textLength="4.0" lengthAdjust="spacingAndGlyphs">9</text>
<path d="M471.30 55.40 h2" stroke="#262626" stroke-width="0.6"/>
<text x="475.90" y="57.90" font-size="7.00" text-anchor="start" fill="#1a1a1a" stroke="#1a1a1a" stroke-width="0.22" font-family="Liberation Sans, sans-serif"  textLength="8.0" lengthAdjust="spacingAndGlyphs">10</text>
<text transform="translate(333.1,116) rotate(-90)" font-size="8.3" text-anchor="middle" fill="#1a1a1a" stroke="#1a1a1a" stroke-width="0.22" font-family="Liberation Sans, sans-serif" textLength="143.8" lengthAdjust="spacingAndGlyphs">MISR Cloud-Top Wind Speed (m/s)</text>
<text transform="translate(493.1,116.1) rotate(-90)" font-size="8.3" text-anchor="middle" fill="#1a1a1a" stroke="#1a1a1a" stroke-width="0.22" font-family="Liberation Sans, sans-serif" textLength="100.2" lengthAdjust="spacingAndGlyphs">ERA5 Wind Speed (m/s)</text>
<rect x="29.80" y="249.40" width="10.22" height="6.20" fill="#625eb1"/>
<rect x="39.52" y="249.40" width="10.22" height="6.20" fill="#7f5cbe"/>
<rect x="49.24" y="249.40" width="10.22" height="6.20" fill="#955ac5"/>
<rect x="58.96" y="249.40" width="10.22" height="6.20" fill="#ab5bc6"/>
<rect x="68.68" y="249.40" width="10.22" height="6.20" fill="#be68c0"/>
<rect x="78.40" y="249.40" width="10.22" height="6.20" fill="#cf78b4"/>
<rect x="88.12" y="249.40" width="10.22" height="6.20" fill="#de88a7"/>
<rect x="97.84" y="249.40" width="10.22" height="6.20" fill="#e9979b"/>
<rect x="107.56" y="249.40" width="10.22" height="6.20" fill="#f3a88f"/>
<rect x="117.28" y="249.40" width="10.22" height="6.20" fill="#fbba83"/>
<rect x="127.00" y="249.40" width="10.22" height="6.20" fill="#fece78"/>
<rect x="136.72" y="249.40" width="9.72" height="6.20" fill="#fce471"/>
<path d="M146.34 249.40 L152.20 252.50 L146.34 255.60 Z" fill="#f5fb6f"/>
<path d="M29.80 249.40 L146.44 249.40 L152.20 252.50 L146.44 255.60 L29.80 255.60 Z" fill="none" stroke="#262626" stroke-width="0.6"/>
<path d="M29.80 255.60 v2.2" stroke="#262626" stroke-width="0.6"/>
<text transform="translate(29.80,263.73) rotate(-45)" font-size="7.0" text-anchor="middle" fill="#1a1a1a" stroke="#1a1a1a" stroke-width="0.2" font-family="Liberation Sans, sans-serif" textLength="4.3" lengthAdjust="spacingAndGlyphs" dy="2.5">0</text>
<path d="M39.52 255.60 v2.2" stroke="#262626" stroke-width="0.6"/>
<text transform="translate(39.52,265.11) rotate(-45)" font-size="7.0" text-anchor="middle" fill="#1a1a1a" stroke="#1a1a1a" stroke-width="0.2" font-family="Liberation Sans, sans-serif" textLength="8.7" lengthAdjust="spacingAndGlyphs" dy="2.5">50</text>
<path d="M49.24 255.60 v2.2" stroke="#262626" stroke-width="0.6"/>
<text transform="translate(49.24,266.49) rotate(-45)" font-size="7.0" text-anchor="middle" fill="#1a1a1a" stroke="#1a1a1a" stroke-width="0.2" font-family="Liberation Sans, sans-serif" textLength="13.0" lengthAdjust="spacingAndGlyphs" dy="2.5">100</text>
<path d="M58.96 255.60 v2.2" stroke="#262626" stroke-width="0.6"/>
<text transform="translate(58.96,266.49) rotate(-45)" font-size="7.0" text-anchor="middle" fill="#1a1a1a" stroke="#1a1a1a" stroke-width="0.2" font-family="Liberation Sans, sans-serif" textLength="13.0" lengthAdjust="spacingAndGlyphs" dy="2.5">150</text>
<path d="M68.68 255.60 v2.2" stroke="#262626" stroke-width="0.6"/>
<text transform="translate(68.68,266.49) rotate(-45)" font-size="7.0" text-anchor="middle" fill="#1a1a1a" stroke="#1a1a1a" stroke-width="0.2" font-family="Liberation Sans, sans-serif" textLength="13.0" lengthAdjust="spacingAndGlyphs" dy="2.5">200</text>
<path d="M78.40 255.60 v2.2" stroke="#262626" stroke-width="0.6"/>
<text transform="translate(78.40,266.49) rotate(-45)" font-size="7.0" text-anchor="middle" fill="#1a1a1a" stroke="#1a1a1a" stroke-width="0.2" font-family="Liberation Sans, sans-serif" textLength="13.0" lengthAdjust="spacingAndGlyphs" dy="2.5">250</text>
<path d="M88.12 255.60 v2.2" stroke="#262626" stroke-width="0.6"/>
<text transform="translate(88.12,266.49) rotate(-45)" font-size="7.0" text-anchor="middle" fill="#1a1a1a" stroke="#1a1a1a" stroke-width="0.2" font-family="Liberation Sans, sans-serif" textLength="13.0" lengthAdjust="spacingAndGlyphs" dy="2.5">300</text>
<path d="M97.84 255.60 v2.2" stroke="#262626" stroke-width="0.6"/>
<text transform="translate(97.84,266.49) rotate(-45)" font-size="7.0" text-anchor="middle" fill="#1a1a1a" stroke="#1a1a1a" stroke-width="0.2" font-family="Liberation Sans, sans-serif" textLength="13.0" lengthAdjust="spacingAndGlyphs" dy="2.5">350</text>
<path d="M107.56 255.60 v2.2" stroke="#262626" stroke-width="0.6"/>
<text transform="translate(107.56,266.49) rotate(-45)" font-size="7.0" text-anchor="middle" fill="#1a1a1a" stroke="#1a1a1a" stroke-width="0.2" font-family="Liberation Sans, sans-serif" textLength="13.0" lengthAdjust="spacingAndGlyphs" dy="2.5">400</text>
<path d="M117.28 255.60 v2.2" stroke="#262626" stroke-width="0.6"/>
<text transform="translate(117.28,266.49) rotate(-45)" font-size="7.0" text-anchor="middle" fill="#1a1a1a" stroke="#1a1a1a" stroke-width="0.2" font-family="Liberation Sans, sans-serif" textLength="13.0" lengthAdjust="spacingAndGlyphs" dy="2.5">450</text>
<path d="M127.00 255.60 v2.2" stroke="#262626" stroke-width="0.6"/>
<text transform="translate(127.00,266.49) rotate(-45)" font-size="7.0" text-anchor="middle" fill="#1a1a1a" stroke="#1a1a1a" stroke-width="0.2" font-family="Liberation Sans, sans-serif" textLength="13.0" lengthAdjust="spacingAndGlyphs" dy="2.5">500</text>
<path d="M136.72 255.60 v2.2" stroke="#262626" stroke-width="0.6"/>
<text transform="translate(136.72,266.49) rotate(-45)" font-size="7.0" text-anchor="middle" fill="#1a1a1a" stroke="#1a1a1a" stroke-width="0.2" font-family="Liberation Sans, sans-serif" textLength="13.0" lengthAdjust="spacingAndGlyphs" dy="2.5">550</text>
<path d="M146.44 255.60 v2.2" stroke="#262626" stroke-width="0.6"/>
<text transform="translate(146.44,266.49) rotate(-45)" font-size="7.0" text-anchor="middle" fill="#1a1a1a" stroke="#1a1a1a" stroke-width="0.2" font-family="Liberation Sans, sans-serif" textLength="13.0" lengthAdjust="spacingAndGlyphs" dy="2.5">600</text>
<rect x="212.80" y="249.40" width="14.07" height="6.20" fill="#f9fcff"/>
<rect x="226.37" y="249.40" width="14.07" height="6.20" fill="#edf4fb"/>
<rect x="239.94" y="249.40" width="14.07" height="6.20" fill="#e1ecf7"/>
<rect x="253.51" y="249.40" width="14.07" height="6.20" fill="#d4e4f3"/>
<rect x="267.08" y="249.40" width="14.07" height="6.20" fill="#c0dcec"/>
<rect x="280.65" y="249.40" width="14.07" height="6.20" fill="#aad0e6"/>
<rect x="294.22" y="249.40" width="14.07" height="6.20" fill="#90c2e0"/>
<rect x="307.79" y="249.40" width="14.07" height="6.20" fill="#7bb4d8"/>
<rect x="321.36" y="249.40" width="14.07" height="6.20" fill="#69a5d0"/>
<rect x="334.93" y="249.40" width="14.07" height="6.20" fill="#5894c7"/>
<rect x="348.50" y="249.40" width="14.07" height="6.20" fill="#4c84bb"/>
<rect x="362.07" y="249.40" width="13.57" height="6.20" fill="#4674a8"/>
<path d="M375.54 249.40 L384.40 252.50 L375.54 255.60 Z" fill="#466490"/>
<path d="M212.80 249.40 L375.64 249.40 L384.40 252.50 L375.64 255.60 L212.80 255.60 Z" fill="none" stroke="#262626" stroke-width="0.6"/>
<path d="M212.80 255.60 v2.2" stroke="#262626" stroke-width="0.6"/>
<text transform="translate(212.80,263.73) rotate(-45)" font-size="7.0" text-anchor="middle" fill="#1a1a1a" stroke="#1a1a1a" stroke-width="0.2" font-family="Liberation Sans, sans-serif" textLength="4.3" lengthAdjust="spacingAndGlyphs" dy="2.5">0</text>
<path d="M226.37 255.60 v2.2" stroke="#262626" stroke-width="0.6"/>
<path d="M239.94 255.60 v2.2" stroke="#262626" stroke-width="0.6"/>
<text transform="translate(239.94,266.49) rotate(-45)" font-size="7.0" text-anchor="middle" fill="#1a1a1a" stroke="#1a1a1a" stroke-width="0.2" font-family="Liberation Sans, sans-serif" textLength="13.0" lengthAdjust="spacingAndGlyphs" dy="2.5">100</text>
<path d="M253.51 255.60 v2.2" stroke="#262626" stroke-width="0.6"/>
<path d="M267.08 255.60 v2.2" stroke="#262626" stroke-width="0.6"/>
<text transform="translate(267.08,266.49) rotate(-45)" font-size="7.0" text-anchor="middle" fill="#1a1a1a" stroke="#1a1a1a" stroke-width="0.2" font-family="Liberation Sans, sans-serif" textLength="13.0" lengthAdjust="spacingAndGlyphs" dy="2.5">200</text>
<path d="M280.65 255.60 v2.2" stroke="#262626" stroke-width="0.6"/>
<path d="M294.22 255.60 v2.2" stroke="#262626" stroke-width="0.6"/>
<text transform="translate(294.22,266.49) rotate(-45)" font-size="7.0" text-anchor="middle" fill="#1a1a1a" stroke="#1a1a1a" stroke-width="0.2" font-family="Liberation Sans, sans-serif" textLength="13.0" lengthAdjust="spacingAndGlyphs" dy="2.5">300</text>
<path d="M307.79 255.60 v2.2" stroke="#262626" stroke-width="0.6"/>
<path d="M321.36 255.60 v2.2" stroke="#262626" stroke-width="0.6"/>
<text transform="translate(321.36,266.49) rotate(-45)" font-size="7.0" text-anchor="middle" fill="#1a1a1a" stroke="#1a1a1a" stroke-width="0.2" font-family="Liberation Sans, sans-serif" textLength="13.0" lengthAdjust="spacingAndGlyphs" dy="2.5">400</text>
<path d="M334.93 255.60 v2.2" stroke="#262626" stroke-width="0.6"/>
<path d="M348.50 255.60 v2.2" stroke="#262626" stroke-width="0.6"/>
<text transform="translate(348.50,266.49) rotate(-45)" font-size="7.0" text-anchor="middle" fill="#1a1a1a" stroke="#1a1a1a" stroke-width="0.2" font-family="Liberation Sans, sans-serif" textLength="13.0" lengthAdjust="spacingAndGlyphs" dy="2.5">500</text>
<path d="M362.07 255.60 v2.2" stroke="#262626" stroke-width="0.6"/>
<path d="M375.64 255.60 v2.2" stroke="#262626" stroke-width="0.6"/>
<text transform="translate(375.64,266.49) rotate(-45)" font-size="7.0" text-anchor="middle" fill="#1a1a1a" stroke="#1a1a1a" stroke-width="0.2" font-family="Liberation Sans, sans-serif" textLength="13.0" lengthAdjust="spacingAndGlyphs" dy="2.5">600</text>
<text x="87.90" y="282.60" font-size="8.30" text-anchor="middle" fill="#1a1a1a" stroke="#1a1a1a" stroke-width="0.22" font-family="Liberation Sans, sans-serif"  textLength="111.8" lengthAdjust="spacingAndGlyphs">MISR Cloud-Top Height (m)</text>
<text x="293.80" y="282.60" font-size="8.30" text-anchor="middle" fill="#1a1a1a" stroke="#1a1a1a" stroke-width="0.22" font-family="Liberation Sans, sans-serif"  textLength="138.0" lengthAdjust="spacingAndGlyphs">Cloud Top Height/PBL Height (m)</text>
<path d="M431.2 248.6 H441" stroke="#111" stroke-width="0.7"/><path d="M443.4 248.6 l-3.6 -1.3 l0.5 1.3 l-0.5 1.3 Z" fill="#111"/>
<text x="448.80" y="251.80" font-size="8.30" text-anchor="start" fill="#1a1a1a" stroke="#1a1a1a" stroke-width="0.22" font-family="Liberation Sans, sans-serif"  textLength="28.4" lengthAdjust="spacingAndGlyphs">10 m/s</text>
</svg>
</body></html>
